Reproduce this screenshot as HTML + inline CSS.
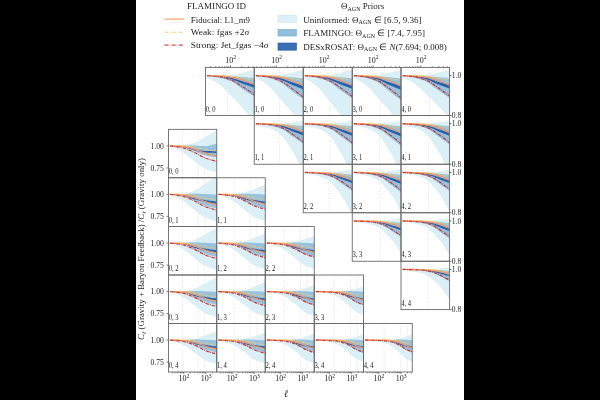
<!DOCTYPE html>
<html><head><meta charset="utf-8"><style>
html,body{margin:0;padding:0;background:#000;width:600px;height:400px;overflow:hidden}
svg{display:block;will-change:transform}
text{font-family:"Liberation Serif", serif}
</style></head><body>
<svg width="600" height="400" viewBox="0 0 600 400">
<rect x="136" y="0" width="328" height="400" fill="#ffffff"/>
<clipPath id="c2055_674"><rect x="205.5" y="67.4" width="48.75" height="48.1"/></clipPath>
<g clip-path="url(#c2055_674)">
<line x1="227.5" y1="67.4" x2="227.5" y2="115.5" stroke="#d0d0d0" stroke-width="0.6" stroke-dasharray="1 1.4"/>
<path d="M207.1 75.6 L208.67 75.6 L210.24 75.6 L211.81 75.6 L213.39 75.6 L214.96 75.6 L216.53 75.6 L218.1 75.6 L219.67 75.6 L221.25 75.56 L222.82 75.5 L224.39 75.41 L225.96 75.3 L227.53 75.18 L229.1 75.04 L230.68 74.9 L232.25 74.72 L233.82 74.49 L235.39 74.21 L236.96 73.89 L238.53 73.55 L240.1 73.21 L241.68 72.86 L243.25 72.54 L244.82 72.2 L246.39 71.84 L247.96 71.48 L249.53 71.11 L251.11 70.73 L252.68 70.36 L254.25 70 L254.25 122.6 L252.68 120.57 L251.11 118.51 L249.53 116.44 L247.96 114.38 L246.39 112.35 L244.82 110.39 L243.25 108.5 L241.68 106.72 L240.1 105.02 L238.53 103.38 L236.96 101.79 L235.39 100.24 L233.82 98.69 L232.25 97.15 L230.68 95.6 L229.1 93.99 L227.53 92.33 L225.96 90.66 L224.39 89.01 L222.82 87.44 L221.25 85.98 L219.67 84.68 L218.1 83.56 L216.53 82.57 L214.96 81.67 L213.39 80.83 L211.81 80.03 L210.24 79.24 L208.67 78.44 L207.1 77.6 Z" fill="#dbeff7"/>
<path d="M207.1 75.6 L208.67 75.62 L210.24 75.64 L211.81 75.67 L213.39 75.69 L214.96 75.71 L216.53 75.73 L218.1 75.76 L219.67 75.79 L221.25 75.83 L222.82 75.87 L224.39 75.91 L225.96 75.96 L227.53 76.01 L229.1 76.07 L230.68 76.13 L232.25 76.21 L233.82 76.31 L235.39 76.42 L236.96 76.55 L238.53 76.68 L240.1 76.82 L241.68 76.95 L243.25 77.09 L244.82 77.23 L246.39 77.38 L247.96 77.54 L249.53 77.7 L251.11 77.86 L252.68 78.02 L254.25 78.17 L254.25 96.46 L252.68 95.46 L251.11 94.46 L249.53 93.46 L247.96 92.46 L246.39 91.45 L244.82 90.44 L243.25 89.43 L241.68 88.39 L240.1 87.28 L238.53 86.12 L236.96 84.95 L235.39 83.82 L233.82 82.78 L232.25 81.86 L230.68 81.1 L229.1 80.48 L227.53 79.9 L225.96 79.37 L224.39 78.89 L222.82 78.45 L221.25 78.06 L219.67 77.71 L218.1 77.41 L216.53 77.14 L214.96 76.9 L213.39 76.69 L211.81 76.48 L210.24 76.28 L208.67 76.08 L207.1 75.87 Z" fill="#8dbcdb" fill-opacity="0.9"/>
<path d="M207.1 75.6 L208.67 75.64 L210.24 75.68 L211.81 75.72 L213.39 75.76 L214.96 75.8 L216.53 75.85 L218.1 75.92 L219.67 76 L221.25 76.13 L222.82 76.31 L224.39 76.52 L225.96 76.77 L227.53 77.05 L229.1 77.34 L230.68 77.64 L232.25 78 L233.82 78.43 L235.39 78.93 L236.96 79.46 L238.53 80 L240.1 80.54 L241.68 81.05 L243.25 81.51 L244.82 81.95 L246.39 82.38 L247.96 82.8 L249.53 83.22 L251.11 83.64 L252.68 84.06 L254.25 84.48 L254.25 87.67 L252.68 87.13 L251.11 86.6 L249.53 86.07 L247.96 85.53 L246.39 84.99 L244.82 84.44 L243.25 83.88 L241.68 83.29 L240.1 82.66 L238.53 81.99 L236.96 81.31 L235.39 80.65 L233.82 80.02 L232.25 79.46 L230.68 78.97 L229.1 78.55 L227.53 78.14 L225.96 77.76 L224.39 77.41 L222.82 77.09 L221.25 76.81 L219.67 76.58 L218.1 76.4 L216.53 76.26 L214.96 76.13 L213.39 76.02 L211.81 75.91 L210.24 75.81 L208.67 75.71 L207.1 75.6 Z" fill="#2862ae"/>
<path d="M207.1 75.6 L208.67 75.63 L210.24 75.66 L211.81 75.69 L213.39 75.72 L214.96 75.75 L216.53 75.79 L218.1 75.84 L219.67 75.9 L221.25 75.99 L222.82 76.11 L224.39 76.25 L225.96 76.42 L227.53 76.6 L229.1 76.81 L230.68 77.02 L232.25 77.27 L233.82 77.59 L235.39 77.95 L236.96 78.36 L238.53 78.79 L240.1 79.25 L241.68 79.72 L243.25 80.19 L244.82 80.72 L246.39 81.3 L247.96 81.9 L249.53 82.53 L251.11 83.16 L252.68 83.78 L254.25 84.39" fill="none" stroke="#f5945f" stroke-width="1.3"/>
<path d="M207.1 75.6 L208.67 75.6 L210.24 75.6 L211.81 75.6 L213.39 75.6 L214.96 75.6 L216.53 75.6 L218.1 75.6 L219.67 75.6 L221.25 75.63 L222.82 75.68 L224.39 75.74 L225.96 75.83 L227.53 75.92 L229.1 76.02 L230.68 76.13 L232.25 76.28 L233.82 76.48 L235.39 76.73 L236.96 77.01 L238.53 77.3 L240.1 77.59 L241.68 77.87 L243.25 78.12 L244.82 78.37 L246.39 78.62 L247.96 78.87 L249.53 79.12 L251.11 79.36 L252.68 79.61 L254.25 79.86" fill="none" stroke="#f9c96a" stroke-width="1.0" stroke-dasharray="3 1 0.8 1"/>
<path d="M207.1 75.6 L208.67 75.73 L210.24 75.86 L211.81 75.98 L213.39 76.1 L214.96 76.23 L216.53 76.38 L218.1 76.56 L219.67 76.78 L221.25 77.06 L222.82 77.41 L224.39 77.81 L225.96 78.27 L227.53 78.76 L229.1 79.3 L230.68 79.86 L232.25 80.51 L233.82 81.29 L235.39 82.16 L236.96 83.1 L238.53 84.1 L240.1 85.11 L241.68 86.12 L243.25 87.1 L244.82 88.12 L246.39 89.17 L247.96 90.25 L249.53 91.34 L251.11 92.43 L252.68 93.52 L254.25 94.6" fill="none" stroke="#d7302a" stroke-width="1.2" stroke-dasharray="3.4 1 0.9 1"/>
</g>
<text x="205.7" y="111.7" font-size="7.6" fill="#222" textLength="10" lengthAdjust="spacingAndGlyphs">0, 0</text>
<clipPath id="c2542_674"><rect x="254.25" y="67.4" width="49" height="48.1"/></clipPath>
<g clip-path="url(#c2542_674)">
<line x1="279.45" y1="67.4" x2="279.45" y2="115.5" stroke="#d0d0d0" stroke-width="0.6" stroke-dasharray="1 1.4"/>
<path d="M255.85 75.6 L257.43 75.6 L259.01 75.6 L260.59 75.6 L262.17 75.6 L263.75 75.6 L265.33 75.6 L266.91 75.6 L268.49 75.6 L270.07 75.56 L271.65 75.5 L273.23 75.41 L274.81 75.3 L276.39 75.18 L277.97 75.04 L279.55 74.9 L281.13 74.72 L282.71 74.49 L284.29 74.21 L285.87 73.89 L287.45 73.55 L289.03 73.21 L290.61 72.86 L292.19 72.54 L293.77 72.2 L295.35 71.84 L296.93 71.48 L298.51 71.11 L300.09 70.73 L301.67 70.36 L303.25 70 L303.25 128.71 L301.67 126.42 L300.09 124.09 L298.51 121.75 L296.93 119.42 L295.35 117.13 L293.77 114.91 L292.19 112.78 L290.61 110.77 L289.03 108.85 L287.45 107 L285.87 105.2 L284.29 103.44 L282.71 101.7 L281.13 99.96 L279.55 98.2 L277.97 96.38 L276.39 94.51 L274.81 92.62 L273.23 90.76 L271.65 88.98 L270.07 87.33 L268.49 85.86 L266.91 84.6 L265.33 83.47 L263.75 82.45 L262.17 81.51 L260.59 80.6 L259.01 79.71 L257.43 78.81 L255.85 77.86 Z" fill="#dbeff7"/>
<path d="M255.85 75.6 L257.43 75.63 L259.01 75.65 L260.59 75.67 L262.17 75.7 L263.75 75.72 L265.33 75.75 L266.91 75.78 L268.49 75.82 L270.07 75.86 L271.65 75.9 L273.23 75.95 L274.81 76 L276.39 76.06 L277.97 76.13 L279.55 76.2 L281.13 76.29 L282.71 76.4 L284.29 76.53 L285.87 76.67 L287.45 76.82 L289.03 76.98 L290.61 77.13 L292.19 77.28 L293.77 77.45 L295.35 77.62 L296.93 77.79 L298.51 77.97 L300.09 78.16 L301.67 78.34 L303.25 78.51 L303.25 99.21 L301.67 98.07 L300.09 96.94 L298.51 95.81 L296.93 94.67 L295.35 93.54 L293.77 92.4 L292.19 91.25 L290.61 90.08 L289.03 88.82 L287.45 87.5 L285.87 86.18 L284.29 84.9 L282.71 83.72 L281.13 82.68 L279.55 81.83 L277.97 81.12 L276.39 80.47 L274.81 79.87 L273.23 79.32 L271.65 78.83 L270.07 78.38 L268.49 77.99 L266.91 77.64 L265.33 77.34 L263.75 77.07 L262.17 76.83 L260.59 76.6 L259.01 76.38 L257.43 76.15 L255.85 75.9 Z" fill="#8dbcdb" fill-opacity="0.9"/>
<path d="M255.85 75.6 L257.43 75.65 L259.01 75.69 L260.59 75.74 L262.17 75.78 L263.75 75.83 L265.33 75.89 L266.91 75.96 L268.49 76.05 L270.07 76.2 L271.65 76.4 L273.23 76.65 L274.81 76.93 L276.39 77.24 L277.97 77.57 L279.55 77.91 L281.13 78.31 L282.71 78.81 L284.29 79.37 L285.87 79.97 L287.45 80.58 L289.03 81.19 L290.61 81.76 L292.19 82.28 L293.77 82.78 L295.35 83.27 L296.93 83.75 L298.51 84.22 L300.09 84.69 L301.67 85.17 L303.25 85.65 L303.25 89.26 L301.67 88.65 L300.09 88.05 L298.51 87.44 L296.93 86.84 L295.35 86.22 L293.77 85.6 L292.19 84.97 L290.61 84.31 L289.03 83.59 L287.45 82.83 L285.87 82.06 L284.29 81.31 L282.71 80.6 L281.13 79.96 L279.55 79.42 L277.97 78.94 L276.39 78.48 L274.81 78.04 L273.23 77.64 L271.65 77.28 L270.07 76.97 L268.49 76.71 L266.91 76.51 L265.33 76.34 L263.75 76.2 L262.17 76.07 L260.59 75.96 L259.01 75.84 L257.43 75.73 L255.85 75.6 Z" fill="#2862ae"/>
<path d="M255.85 75.6 L257.43 75.64 L259.01 75.67 L260.59 75.7 L262.17 75.74 L263.75 75.77 L265.33 75.82 L266.91 75.87 L268.49 75.94 L270.07 76.04 L271.65 76.17 L273.23 76.34 L274.81 76.52 L276.39 76.74 L277.97 76.96 L279.55 77.21 L281.13 77.49 L282.71 77.85 L284.29 78.26 L285.87 78.72 L287.45 79.21 L289.03 79.73 L290.61 80.26 L292.19 80.8 L293.77 81.4 L295.35 82.04 L296.93 82.73 L298.51 83.44 L300.09 84.15 L301.67 84.86 L303.25 85.55" fill="none" stroke="#f5945f" stroke-width="1.3"/>
<path d="M255.85 75.6 L257.43 75.6 L259.01 75.6 L260.59 75.6 L262.17 75.6 L263.75 75.6 L265.33 75.6 L266.91 75.6 L268.49 75.6 L270.07 75.63 L271.65 75.69 L273.23 75.76 L274.81 75.86 L276.39 75.96 L277.97 76.08 L279.55 76.2 L281.13 76.37 L282.71 76.6 L284.29 76.88 L285.87 77.19 L287.45 77.52 L289.03 77.85 L290.61 78.17 L292.19 78.45 L293.77 78.73 L295.35 79.02 L296.93 79.3 L298.51 79.58 L300.09 79.86 L301.67 80.14 L303.25 80.42" fill="none" stroke="#f9c96a" stroke-width="1.0" stroke-dasharray="3 1 0.8 1"/>
<path d="M255.85 75.6 L257.43 75.75 L259.01 75.89 L260.59 76.02 L262.17 76.16 L263.75 76.31 L265.33 76.49 L266.91 76.69 L268.49 76.94 L270.07 77.26 L271.65 77.65 L273.23 78.1 L274.81 78.62 L276.39 79.18 L277.97 79.78 L279.55 80.42 L281.13 81.16 L282.71 82.03 L284.29 83.02 L285.87 84.09 L287.45 85.22 L289.03 86.36 L290.61 87.5 L292.19 88.62 L293.77 89.77 L295.35 90.96 L296.93 92.18 L298.51 93.41 L300.09 94.65 L301.67 95.88 L303.25 97.1" fill="none" stroke="#d7302a" stroke-width="1.2" stroke-dasharray="3.4 1 0.9 1"/>
</g>
<text x="254.45" y="111.7" font-size="7.6" fill="#222" textLength="10" lengthAdjust="spacingAndGlyphs">1, 0</text>
<clipPath id="c3032_674"><rect x="303.25" y="67.4" width="49" height="48.1"/></clipPath>
<g clip-path="url(#c3032_674)">
<line x1="329.75" y1="67.4" x2="329.75" y2="115.5" stroke="#d0d0d0" stroke-width="0.6" stroke-dasharray="1 1.4"/>
<path d="M304.85 75.6 L306.43 75.6 L308.01 75.6 L309.59 75.6 L311.17 75.6 L312.75 75.6 L314.33 75.6 L315.91 75.6 L317.49 75.6 L319.07 75.56 L320.65 75.5 L322.23 75.41 L323.81 75.3 L325.39 75.18 L326.97 75.04 L328.55 74.9 L330.13 74.72 L331.71 74.49 L333.29 74.21 L334.87 73.89 L336.45 73.55 L338.03 73.21 L339.61 72.86 L341.19 72.54 L342.77 72.2 L344.35 71.84 L345.93 71.48 L347.51 71.11 L349.09 70.73 L350.67 70.36 L352.25 70 L352.25 133.41 L350.67 130.92 L349.09 128.38 L347.51 125.83 L345.93 123.3 L344.35 120.81 L342.77 118.39 L341.19 116.07 L339.61 113.88 L338.03 111.79 L336.45 109.77 L334.87 107.82 L333.29 105.9 L331.71 104.01 L330.13 102.11 L328.55 100.2 L326.97 98.22 L325.39 96.18 L323.81 94.12 L322.23 92.1 L320.65 90.17 L319.07 88.37 L317.49 86.77 L315.91 85.39 L314.33 84.17 L312.75 83.06 L311.17 82.03 L309.59 81.04 L308.01 80.08 L306.43 79.09 L304.85 78.06 Z" fill="#dbeff7"/>
<path d="M304.85 75.6 L306.43 75.62 L308.01 75.65 L309.59 75.67 L311.17 75.7 L312.75 75.72 L314.33 75.75 L315.91 75.78 L317.49 75.81 L319.07 75.85 L320.65 75.89 L322.23 75.94 L323.81 75.99 L325.39 76.05 L326.97 76.11 L328.55 76.18 L330.13 76.27 L331.71 76.38 L333.29 76.5 L334.87 76.64 L336.45 76.78 L338.03 76.93 L339.61 77.08 L341.19 77.23 L342.77 77.39 L344.35 77.55 L345.93 77.72 L347.51 77.9 L349.09 78.07 L350.67 78.25 L352.25 78.42 L352.25 98.44 L350.67 97.34 L349.09 96.25 L347.51 95.15 L345.93 94.05 L344.35 92.95 L342.77 91.85 L341.19 90.74 L339.61 89.6 L338.03 88.39 L336.45 87.11 L334.87 85.84 L333.29 84.6 L331.71 83.45 L330.13 82.45 L328.55 81.63 L326.97 80.94 L325.39 80.31 L323.81 79.73 L322.23 79.2 L320.65 78.72 L319.07 78.29 L317.49 77.91 L315.91 77.58 L314.33 77.28 L312.75 77.03 L311.17 76.79 L309.59 76.57 L308.01 76.35 L306.43 76.13 L304.85 75.89 Z" fill="#8dbcdb" fill-opacity="0.9"/>
<path d="M304.85 75.6 L306.43 75.65 L308.01 75.69 L309.59 75.73 L311.17 75.77 L312.75 75.82 L314.33 75.88 L315.91 75.95 L317.49 76.04 L319.07 76.18 L320.65 76.38 L322.23 76.61 L323.81 76.88 L325.39 77.18 L326.97 77.5 L328.55 77.84 L330.13 78.22 L331.71 78.7 L333.29 79.24 L334.87 79.83 L336.45 80.42 L338.03 81.01 L339.61 81.56 L341.19 82.07 L342.77 82.55 L344.35 83.02 L345.93 83.48 L347.51 83.94 L349.09 84.4 L350.67 84.86 L352.25 85.32 L352.25 88.82 L350.67 88.23 L349.09 87.64 L347.51 87.06 L345.93 86.47 L344.35 85.88 L342.77 85.28 L341.19 84.66 L339.61 84.02 L338.03 83.33 L336.45 82.6 L334.87 81.85 L333.29 81.13 L331.71 80.44 L330.13 79.82 L328.55 79.29 L326.97 78.83 L325.39 78.38 L323.81 77.96 L322.23 77.58 L320.65 77.23 L319.07 76.93 L317.49 76.68 L315.91 76.48 L314.33 76.32 L312.75 76.18 L311.17 76.06 L309.59 75.94 L308.01 75.84 L306.43 75.72 L304.85 75.6 Z" fill="#2862ae"/>
<path d="M304.85 75.6 L306.43 75.64 L308.01 75.67 L309.59 75.7 L311.17 75.73 L312.75 75.77 L314.33 75.81 L315.91 75.86 L317.49 75.93 L319.07 76.03 L320.65 76.16 L322.23 76.31 L323.81 76.49 L325.39 76.7 L326.97 76.92 L328.55 77.16 L330.13 77.43 L331.71 77.78 L333.29 78.17 L334.87 78.62 L336.45 79.09 L338.03 79.59 L339.61 80.1 L341.19 80.63 L342.77 81.21 L344.35 81.84 L345.93 82.5 L347.51 83.18 L349.09 83.87 L350.67 84.56 L352.25 85.22" fill="none" stroke="#f5945f" stroke-width="1.3"/>
<path d="M304.85 75.6 L306.43 75.6 L308.01 75.6 L309.59 75.6 L311.17 75.6 L312.75 75.6 L314.33 75.6 L315.91 75.6 L317.49 75.6 L319.07 75.63 L320.65 75.68 L322.23 75.76 L323.81 75.85 L325.39 75.95 L326.97 76.06 L328.55 76.18 L330.13 76.34 L331.71 76.56 L333.29 76.84 L334.87 77.14 L336.45 77.46 L338.03 77.78 L339.61 78.08 L341.19 78.36 L342.77 78.63 L344.35 78.9 L345.93 79.18 L347.51 79.45 L349.09 79.72 L350.67 79.99 L352.25 80.27" fill="none" stroke="#f9c96a" stroke-width="1.0" stroke-dasharray="3 1 0.8 1"/>
<path d="M304.85 75.6 L306.43 75.75 L308.01 75.88 L309.59 76.01 L311.17 76.14 L312.75 76.29 L314.33 76.46 L315.91 76.65 L317.49 76.89 L319.07 77.2 L320.65 77.58 L322.23 78.02 L323.81 78.52 L325.39 79.06 L326.97 79.65 L328.55 80.27 L330.13 80.98 L331.71 81.82 L333.29 82.78 L334.87 83.82 L336.45 84.9 L338.03 86.01 L339.61 87.11 L341.19 88.19 L342.77 89.31 L344.35 90.46 L345.93 91.64 L347.51 92.83 L349.09 94.03 L350.67 95.22 L352.25 96.4" fill="none" stroke="#d7302a" stroke-width="1.2" stroke-dasharray="3.4 1 0.9 1"/>
</g>
<text x="303.45" y="111.7" font-size="7.6" fill="#222" textLength="10" lengthAdjust="spacingAndGlyphs">2, 0</text>
<clipPath id="c3522_674"><rect x="352.25" y="67.4" width="48.75" height="48.1"/></clipPath>
<g clip-path="url(#c3522_674)">
<line x1="380.15" y1="67.4" x2="380.15" y2="115.5" stroke="#d0d0d0" stroke-width="0.6" stroke-dasharray="1 1.4"/>
<path d="M353.85 75.6 L355.42 75.6 L356.99 75.6 L358.56 75.6 L360.14 75.6 L361.71 75.6 L363.28 75.6 L364.85 75.6 L366.42 75.6 L368 75.56 L369.57 75.5 L371.14 75.41 L372.71 75.3 L374.28 75.18 L375.85 75.04 L377.43 74.9 L379 74.72 L380.57 74.49 L382.14 74.21 L383.71 73.89 L385.28 73.55 L386.86 73.21 L388.43 72.86 L390 72.54 L391.57 72.2 L393.14 71.84 L394.71 71.48 L396.29 71.11 L397.86 70.73 L399.43 70.36 L401 70 L401 126.83 L399.43 124.62 L397.86 122.38 L396.29 120.12 L394.71 117.87 L393.14 115.66 L391.57 113.52 L390 111.46 L388.43 109.52 L386.86 107.67 L385.28 105.88 L383.71 104.15 L382.14 102.45 L380.57 100.77 L379 99.09 L377.43 97.4 L375.85 95.65 L374.28 93.84 L372.71 92.01 L371.14 90.22 L369.57 88.51 L368 86.92 L366.42 85.5 L364.85 84.28 L363.28 83.2 L361.71 82.21 L360.14 81.3 L358.56 80.43 L356.99 79.57 L355.42 78.69 L353.85 77.78 Z" fill="#dbeff7"/>
<path d="M353.85 75.6 L355.42 75.63 L356.99 75.65 L358.56 75.68 L360.14 75.7 L361.71 75.73 L363.28 75.76 L364.85 75.79 L366.42 75.83 L368 75.87 L369.57 75.91 L371.14 75.96 L372.71 76.02 L374.28 76.08 L375.85 76.15 L377.43 76.23 L379 76.32 L380.57 76.43 L382.14 76.56 L383.71 76.71 L385.28 76.87 L386.86 77.03 L388.43 77.19 L390 77.35 L391.57 77.52 L393.14 77.69 L394.71 77.88 L396.29 78.06 L397.86 78.25 L399.43 78.44 L401 78.62 L401 100.09 L399.43 98.91 L397.86 97.73 L396.29 96.56 L394.71 95.38 L393.14 94.21 L391.57 93.02 L390 91.83 L388.43 90.61 L386.86 89.31 L385.28 87.94 L383.71 86.57 L382.14 85.25 L380.57 84.02 L379 82.94 L377.43 82.06 L375.85 81.33 L374.28 80.65 L372.71 80.03 L371.14 79.46 L369.57 78.95 L368 78.49 L366.42 78.08 L364.85 77.72 L363.28 77.41 L361.71 77.13 L360.14 76.88 L358.56 76.64 L356.99 76.4 L355.42 76.17 L353.85 75.91 Z" fill="#8dbcdb" fill-opacity="0.9"/>
<path d="M353.85 75.6 L355.42 75.65 L356.99 75.7 L358.56 75.74 L360.14 75.79 L361.71 75.84 L363.28 75.9 L364.85 75.97 L366.42 76.07 L368 76.22 L369.57 76.43 L371.14 76.69 L372.71 76.98 L374.28 77.3 L375.85 77.64 L377.43 78 L379 78.41 L380.57 78.93 L382.14 79.51 L383.71 80.13 L385.28 80.77 L386.86 81.4 L388.43 81.99 L390 82.53 L391.57 83.05 L393.14 83.56 L394.71 84.05 L396.29 84.54 L397.86 85.03 L399.43 85.52 L401 86.02 L401 89.77 L399.43 89.14 L397.86 88.51 L396.29 87.88 L394.71 87.25 L393.14 86.62 L391.57 85.97 L390 85.32 L388.43 84.63 L386.86 83.89 L385.28 83.1 L383.71 82.31 L382.14 81.53 L380.57 80.79 L379 80.12 L377.43 79.56 L375.85 79.06 L374.28 78.58 L372.71 78.13 L371.14 77.72 L369.57 77.35 L368 77.02 L366.42 76.75 L364.85 76.54 L363.28 76.37 L361.71 76.22 L360.14 76.09 L358.56 75.97 L356.99 75.85 L355.42 75.73 L353.85 75.6 Z" fill="#2862ae"/>
<path d="M353.85 75.6 L355.42 75.64 L356.99 75.67 L358.56 75.71 L360.14 75.74 L361.71 75.78 L363.28 75.83 L364.85 75.88 L366.42 75.95 L368 76.06 L369.57 76.2 L371.14 76.36 L372.71 76.56 L374.28 76.78 L375.85 77.01 L377.43 77.27 L379 77.57 L380.57 77.93 L382.14 78.36 L383.71 78.83 L385.28 79.34 L386.86 79.88 L388.43 80.43 L390 80.99 L391.57 81.61 L393.14 82.28 L394.71 83 L396.29 83.73 L397.86 84.47 L399.43 85.21 L401 85.92" fill="none" stroke="#f5945f" stroke-width="1.3"/>
<path d="M353.85 75.6 L355.42 75.6 L356.99 75.6 L358.56 75.6 L360.14 75.6 L361.71 75.6 L363.28 75.6 L364.85 75.6 L366.42 75.6 L368 75.63 L369.57 75.69 L371.14 75.77 L372.71 75.87 L374.28 75.98 L375.85 76.1 L377.43 76.23 L379 76.4 L380.57 76.63 L382.14 76.93 L383.71 77.25 L385.28 77.59 L386.86 77.94 L388.43 78.26 L390 78.56 L391.57 78.85 L393.14 79.14 L394.71 79.43 L396.29 79.73 L397.86 80.02 L399.43 80.31 L401 80.6" fill="none" stroke="#f9c96a" stroke-width="1.0" stroke-dasharray="3 1 0.8 1"/>
<path d="M353.85 75.6 L355.42 75.76 L356.99 75.9 L358.56 76.04 L360.14 76.18 L361.71 76.34 L363.28 76.52 L364.85 76.73 L366.42 76.99 L368 77.32 L369.57 77.72 L371.14 78.2 L372.71 78.73 L374.28 79.31 L375.85 79.94 L377.43 80.6 L379 81.36 L380.57 82.27 L382.14 83.3 L383.71 84.41 L385.28 85.57 L386.86 86.76 L388.43 87.94 L390 89.1 L391.57 90.3 L393.14 91.53 L394.71 92.79 L396.29 94.07 L397.86 95.36 L399.43 96.64 L401 97.9" fill="none" stroke="#d7302a" stroke-width="1.2" stroke-dasharray="3.4 1 0.9 1"/>
</g>
<text x="352.45" y="111.7" font-size="7.6" fill="#222" textLength="10" lengthAdjust="spacingAndGlyphs">3, 0</text>
<clipPath id="c4010_674"><rect x="401" y="67.4" width="48.6" height="48.1"/></clipPath>
<g clip-path="url(#c4010_674)">
<line x1="429.4" y1="67.4" x2="429.4" y2="115.5" stroke="#d0d0d0" stroke-width="0.6" stroke-dasharray="1 1.4"/>
<path d="M402.6 75.6 L404.17 75.6 L405.73 75.6 L407.3 75.6 L408.87 75.6 L410.43 75.6 L412 75.6 L413.57 75.6 L415.13 75.6 L416.7 75.56 L418.27 75.5 L419.83 75.41 L421.4 75.3 L422.97 75.18 L424.53 75.04 L426.1 74.9 L427.67 74.72 L429.23 74.49 L430.8 74.21 L432.37 73.89 L433.93 73.55 L435.5 73.21 L437.07 72.86 L438.63 72.54 L440.2 72.2 L441.77 71.84 L443.33 71.48 L444.9 71.11 L446.47 70.73 L448.03 70.36 L449.6 70 L449.6 119.31 L448.03 117.43 L446.47 115.51 L444.9 113.58 L443.33 111.66 L441.77 109.78 L440.2 107.95 L438.63 106.2 L437.07 104.54 L435.5 102.96 L433.93 101.44 L432.37 99.96 L430.8 98.51 L429.23 97.08 L427.67 95.65 L426.1 94.2 L424.53 92.71 L422.97 91.16 L421.4 89.6 L419.83 88.08 L418.27 86.61 L416.7 85.26 L415.13 84.04 L413.57 83 L412 82.08 L410.43 81.24 L408.87 80.46 L407.3 79.72 L405.73 78.98 L404.17 78.24 L402.6 77.46 Z" fill="#dbeff7"/>
<path d="M402.6 75.6 L404.17 75.62 L405.73 75.65 L407.3 75.67 L408.87 75.69 L410.43 75.72 L412 75.75 L413.57 75.78 L415.13 75.81 L416.7 75.85 L418.27 75.89 L419.83 75.93 L421.4 75.99 L422.97 76.04 L424.53 76.11 L426.1 76.17 L427.67 76.26 L429.23 76.36 L430.8 76.49 L432.37 76.62 L433.93 76.76 L435.5 76.91 L437.07 77.06 L438.63 77.21 L440.2 77.36 L441.77 77.52 L443.33 77.69 L444.9 77.86 L446.47 78.04 L448.03 78.21 L449.6 78.38 L449.6 98.11 L448.03 97.03 L446.47 95.95 L444.9 94.87 L443.33 93.79 L441.77 92.7 L440.2 91.62 L438.63 90.52 L437.07 89.4 L435.5 88.2 L433.93 86.95 L432.37 85.69 L430.8 84.47 L429.23 83.34 L427.67 82.35 L426.1 81.54 L424.53 80.86 L422.97 80.24 L421.4 79.67 L419.83 79.15 L418.27 78.68 L416.7 78.25 L415.13 77.88 L413.57 77.55 L412 77.26 L410.43 77 L408.87 76.77 L407.3 76.55 L405.73 76.34 L404.17 76.12 L402.6 75.89 Z" fill="#8dbcdb" fill-opacity="0.9"/>
<path d="M402.6 75.6 L404.17 75.65 L405.73 75.69 L407.3 75.73 L408.87 75.77 L410.43 75.82 L412 75.87 L413.57 75.94 L415.13 76.03 L416.7 76.17 L418.27 76.36 L419.83 76.6 L421.4 76.87 L422.97 77.16 L424.53 77.48 L426.1 77.8 L427.67 78.19 L429.23 78.66 L430.8 79.19 L432.37 79.76 L433.93 80.35 L435.5 80.93 L437.07 81.48 L438.63 81.97 L440.2 82.45 L441.77 82.91 L443.33 83.37 L444.9 83.82 L446.47 84.27 L448.03 84.72 L449.6 85.18 L449.6 88.63 L448.03 88.04 L446.47 87.47 L444.9 86.89 L443.33 86.31 L441.77 85.73 L440.2 85.14 L438.63 84.53 L437.07 83.9 L435.5 83.22 L433.93 82.5 L432.37 81.76 L430.8 81.05 L429.23 80.37 L427.67 79.76 L426.1 79.24 L424.53 78.78 L422.97 78.34 L421.4 77.93 L419.83 77.55 L418.27 77.2 L416.7 76.91 L415.13 76.66 L413.57 76.47 L412 76.31 L410.43 76.17 L408.87 76.05 L407.3 75.94 L405.73 75.83 L404.17 75.72 L402.6 75.6 Z" fill="#2862ae"/>
<path d="M402.6 75.6 L404.17 75.64 L405.73 75.67 L407.3 75.7 L408.87 75.73 L410.43 75.76 L412 75.81 L413.57 75.86 L415.13 75.92 L416.7 76.02 L418.27 76.15 L419.83 76.3 L421.4 76.48 L422.97 76.68 L424.53 76.9 L426.1 77.13 L427.67 77.41 L429.23 77.74 L430.8 78.14 L432.37 78.57 L433.93 79.04 L435.5 79.53 L437.07 80.04 L438.63 80.56 L440.2 81.13 L441.77 81.75 L443.33 82.4 L444.9 83.07 L446.47 83.76 L448.03 84.43 L449.6 85.08" fill="none" stroke="#f5945f" stroke-width="1.3"/>
<path d="M402.6 75.6 L404.17 75.6 L405.73 75.6 L407.3 75.6 L408.87 75.6 L410.43 75.6 L412 75.6 L413.57 75.6 L415.13 75.6 L416.7 75.63 L418.27 75.68 L419.83 75.75 L421.4 75.84 L422.97 75.95 L424.53 76.06 L426.1 76.17 L427.67 76.33 L429.23 76.55 L430.8 76.82 L432.37 77.12 L433.93 77.43 L435.5 77.75 L437.07 78.05 L438.63 78.32 L440.2 78.59 L441.77 78.86 L443.33 79.13 L444.9 79.39 L446.47 79.66 L448.03 79.93 L449.6 80.2" fill="none" stroke="#f9c96a" stroke-width="1.0" stroke-dasharray="3 1 0.8 1"/>
<path d="M402.6 75.6 L404.17 75.74 L405.73 75.88 L407.3 76 L408.87 76.14 L410.43 76.28 L412 76.45 L413.57 76.64 L415.13 76.87 L416.7 77.18 L418.27 77.55 L419.83 77.99 L421.4 78.48 L422.97 79.01 L424.53 79.59 L426.1 80.2 L427.67 80.9 L429.23 81.73 L430.8 82.68 L432.37 83.7 L433.93 84.77 L435.5 85.86 L437.07 86.95 L438.63 88.01 L440.2 89.11 L441.77 90.24 L443.33 91.41 L444.9 92.58 L446.47 93.76 L448.03 94.94 L449.6 96.1" fill="none" stroke="#d7302a" stroke-width="1.2" stroke-dasharray="3.4 1 0.9 1"/>
</g>
<text x="401.2" y="111.7" font-size="7.6" fill="#222" textLength="10" lengthAdjust="spacingAndGlyphs">4, 0</text>
<clipPath id="c2542_1155"><rect x="254.25" y="115.5" width="49" height="48.75"/></clipPath>
<g clip-path="url(#c2542_1155)">
<line x1="279.65" y1="115.5" x2="279.65" y2="164.25" stroke="#d0d0d0" stroke-width="0.6" stroke-dasharray="1 1.4"/>
<path d="M255.85 123.7 L257.43 123.7 L259.01 123.7 L260.59 123.7 L262.17 123.7 L263.75 123.7 L265.33 123.7 L266.91 123.7 L268.49 123.7 L270.07 123.7 L271.65 123.69 L273.23 123.67 L274.81 123.64 L276.39 123.59 L277.97 123.54 L279.55 123.48 L281.13 123.41 L282.71 123.34 L284.29 123.24 L285.87 123.11 L287.45 122.96 L289.03 122.79 L290.61 122.62 L292.19 122.45 L293.77 122.29 L295.35 122.12 L296.93 121.94 L298.51 121.75 L300.09 121.56 L301.67 121.37 L303.25 121.18 L303.25 174.93 L301.67 170.77 L300.09 166.67 L298.51 162.8 L296.93 159.28 L295.35 156.16 L293.77 153.34 L292.19 150.73 L290.61 148.27 L289.03 145.9 L287.45 143.54 L285.87 141.2 L284.29 138.97 L282.71 136.94 L281.13 135.15 L279.55 133.65 L277.97 132.44 L276.39 131.43 L274.81 130.56 L273.23 129.81 L271.65 129.15 L270.07 128.56 L268.49 128.04 L266.91 127.57 L265.33 127.16 L263.75 126.79 L262.17 126.48 L260.59 126.23 L259.01 126.04 L257.43 125.92 L255.85 125.88 Z" fill="#dbeff7"/>
<path d="M255.85 123.7 L257.43 123.71 L259.01 123.73 L260.59 123.75 L262.17 123.76 L263.75 123.78 L265.33 123.8 L266.91 123.82 L268.49 123.84 L270.07 123.87 L271.65 123.9 L273.23 123.94 L274.81 123.98 L276.39 124.02 L277.97 124.07 L279.55 124.12 L281.13 124.19 L282.71 124.26 L284.29 124.35 L285.87 124.46 L287.45 124.59 L289.03 124.73 L290.61 124.87 L292.19 125.02 L293.77 125.16 L295.35 125.32 L296.93 125.48 L298.51 125.66 L300.09 125.83 L301.67 126.01 L303.25 126.18 L303.25 143.8 L301.67 142.69 L300.09 141.59 L298.51 140.49 L296.93 139.4 L295.35 138.31 L293.77 137.22 L292.19 136.13 L290.61 134.95 L289.03 133.72 L287.45 132.51 L285.87 131.35 L284.29 130.3 L282.71 129.42 L281.13 128.73 L279.55 128.13 L277.97 127.58 L276.39 127.08 L274.81 126.63 L273.23 126.24 L271.65 125.89 L270.07 125.59 L268.49 125.32 L266.91 125.09 L265.33 124.89 L263.75 124.71 L262.17 124.54 L260.59 124.38 L259.01 124.23 L257.43 124.08 L255.85 123.96 Z" fill="#8dbcdb" fill-opacity="0.9"/>
<path d="M255.85 123.7 L257.43 123.73 L259.01 123.75 L260.59 123.78 L262.17 123.81 L263.75 123.85 L265.33 123.88 L266.91 123.93 L268.49 123.98 L270.07 124.04 L271.65 124.14 L273.23 124.29 L274.81 124.47 L276.39 124.7 L277.97 124.96 L279.55 125.24 L281.13 125.54 L282.71 125.87 L284.29 126.28 L285.87 126.78 L287.45 127.32 L289.03 127.89 L290.61 128.46 L292.19 128.99 L293.77 129.48 L295.35 129.95 L296.93 130.41 L298.51 130.87 L300.09 131.33 L301.67 131.78 L303.25 132.25 L303.25 135.33 L301.67 134.73 L300.09 134.15 L298.51 133.56 L296.93 132.98 L295.35 132.39 L293.77 131.79 L292.19 131.17 L290.61 130.5 L289.03 129.79 L287.45 129.09 L285.87 128.4 L284.29 127.77 L282.71 127.22 L281.13 126.77 L279.55 126.35 L277.97 125.96 L276.39 125.59 L274.81 125.27 L273.23 124.98 L271.65 124.75 L270.07 124.56 L268.49 124.41 L266.91 124.28 L265.33 124.18 L263.75 124.08 L262.17 124 L260.59 123.92 L259.01 123.84 L257.43 123.77 L255.85 123.7 Z" fill="#2862ae"/>
<path d="M255.85 123.7 L257.43 123.72 L259.01 123.74 L260.59 123.76 L262.17 123.79 L263.75 123.81 L265.33 123.84 L266.91 123.87 L268.49 123.91 L270.07 123.96 L271.65 124.03 L273.23 124.12 L274.81 124.25 L276.39 124.4 L277.97 124.57 L279.55 124.77 L281.13 124.98 L282.71 125.21 L284.29 125.51 L285.87 125.87 L287.45 126.28 L289.03 126.73 L290.61 127.21 L292.19 127.71 L293.77 128.23 L295.35 128.81 L296.93 129.44 L298.51 130.12 L300.09 130.8 L301.67 131.49 L303.25 132.17" fill="none" stroke="#f5945f" stroke-width="1.3"/>
<path d="M255.85 123.7 L257.43 123.7 L259.01 123.7 L260.59 123.7 L262.17 123.7 L263.75 123.7 L265.33 123.7 L266.91 123.7 L268.49 123.7 L270.07 123.7 L271.65 123.71 L273.23 123.75 L274.81 123.8 L276.39 123.87 L277.97 123.96 L279.55 124.06 L281.13 124.17 L282.71 124.29 L284.29 124.48 L285.87 124.72 L287.45 125.01 L289.03 125.31 L290.61 125.62 L292.19 125.91 L293.77 126.18 L295.35 126.45 L296.93 126.71 L298.51 126.98 L300.09 127.26 L301.67 127.53 L303.25 127.8" fill="none" stroke="#f9c96a" stroke-width="1.0" stroke-dasharray="3 1 0.8 1"/>
<path d="M255.85 123.7 L257.43 123.78 L259.01 123.87 L260.59 123.96 L262.17 124.06 L263.75 124.16 L265.33 124.27 L266.91 124.4 L268.49 124.55 L270.07 124.73 L271.65 124.96 L273.23 125.26 L274.81 125.61 L276.39 126.03 L277.97 126.5 L279.55 127.01 L281.13 127.56 L282.71 128.17 L284.29 128.92 L285.87 129.79 L287.45 130.76 L289.03 131.79 L290.61 132.86 L292.19 133.93 L293.77 134.98 L295.35 136.09 L296.93 137.23 L298.51 138.41 L300.09 139.61 L301.67 140.81 L303.25 142" fill="none" stroke="#d7302a" stroke-width="1.2" stroke-dasharray="3.4 1 0.9 1"/>
</g>
<text x="254.45" y="160.45" font-size="7.6" fill="#222" textLength="10" lengthAdjust="spacingAndGlyphs">1, 1</text>
<clipPath id="c3032_1155"><rect x="303.25" y="115.5" width="49" height="48.75"/></clipPath>
<g clip-path="url(#c3032_1155)">
<line x1="329.85" y1="115.5" x2="329.85" y2="164.25" stroke="#d0d0d0" stroke-width="0.6" stroke-dasharray="1 1.4"/>
<path d="M304.85 123.7 L306.43 123.7 L308.01 123.7 L309.59 123.7 L311.17 123.7 L312.75 123.7 L314.33 123.7 L315.91 123.7 L317.49 123.7 L319.07 123.7 L320.65 123.69 L322.23 123.67 L323.81 123.64 L325.39 123.59 L326.97 123.54 L328.55 123.48 L330.13 123.41 L331.71 123.34 L333.29 123.24 L334.87 123.11 L336.45 122.96 L338.03 122.79 L339.61 122.62 L341.19 122.45 L342.77 122.29 L344.35 122.12 L345.93 121.94 L347.51 121.75 L349.09 121.56 L350.67 121.37 L352.25 121.18 L352.25 180.1 L350.67 175.52 L349.09 171.01 L347.51 166.75 L345.93 162.87 L344.35 159.44 L342.77 156.33 L341.19 153.46 L339.61 150.75 L338.03 148.14 L336.45 145.54 L334.87 142.97 L333.29 140.51 L331.71 138.27 L330.13 136.31 L328.55 134.65 L326.97 133.32 L325.39 132.2 L323.81 131.25 L322.23 130.43 L320.65 129.7 L319.07 129.06 L317.49 128.48 L315.91 127.96 L314.33 127.5 L312.75 127.1 L311.17 126.76 L309.59 126.49 L308.01 126.28 L306.43 126.15 L304.85 126.1 Z" fill="#dbeff7"/>
<path d="M304.85 123.7 L306.43 123.71 L308.01 123.73 L309.59 123.75 L311.17 123.76 L312.75 123.78 L314.33 123.8 L315.91 123.83 L317.49 123.85 L319.07 123.88 L320.65 123.91 L322.23 123.95 L323.81 123.99 L325.39 124.03 L326.97 124.08 L328.55 124.14 L330.13 124.21 L331.71 124.28 L333.29 124.38 L334.87 124.5 L336.45 124.63 L338.03 124.77 L339.61 124.92 L341.19 125.07 L342.77 125.23 L344.35 125.39 L345.93 125.56 L347.51 125.74 L349.09 125.92 L350.67 126.11 L352.25 126.29 L352.25 144.67 L350.67 143.52 L349.09 142.37 L347.51 141.23 L345.93 140.09 L344.35 138.95 L342.77 137.82 L341.19 136.67 L339.61 135.44 L338.03 134.16 L336.45 132.89 L334.87 131.68 L333.29 130.59 L331.71 129.67 L330.13 128.95 L328.55 128.32 L326.97 127.74 L325.39 127.23 L323.81 126.76 L322.23 126.35 L320.65 125.98 L319.07 125.67 L317.49 125.39 L315.91 125.16 L314.33 124.94 L312.75 124.75 L311.17 124.58 L309.59 124.41 L308.01 124.25 L306.43 124.1 L304.85 123.97 Z" fill="#8dbcdb" fill-opacity="0.9"/>
<path d="M304.85 123.7 L306.43 123.73 L308.01 123.76 L309.59 123.79 L311.17 123.82 L312.75 123.85 L314.33 123.89 L315.91 123.94 L317.49 123.99 L319.07 124.06 L320.65 124.16 L322.23 124.31 L323.81 124.51 L325.39 124.74 L326.97 125.01 L328.55 125.3 L330.13 125.62 L331.71 125.96 L333.29 126.4 L334.87 126.91 L336.45 127.48 L338.03 128.08 L339.61 128.67 L341.19 129.23 L342.77 129.73 L344.35 130.22 L345.93 130.71 L347.51 131.18 L349.09 131.66 L350.67 132.14 L352.25 132.63 L352.25 135.84 L350.67 135.22 L349.09 134.6 L347.51 133.99 L345.93 133.38 L344.35 132.77 L342.77 132.14 L341.19 131.5 L339.61 130.8 L338.03 130.06 L336.45 129.32 L334.87 128.61 L333.29 127.95 L331.71 127.38 L330.13 126.9 L328.55 126.47 L326.97 126.06 L325.39 125.68 L323.81 125.34 L322.23 125.04 L320.65 124.79 L319.07 124.59 L317.49 124.44 L315.91 124.31 L314.33 124.2 L312.75 124.1 L311.17 124.01 L309.59 123.93 L308.01 123.85 L306.43 123.77 L304.85 123.7 Z" fill="#2862ae"/>
<path d="M304.85 123.7 L306.43 123.72 L308.01 123.74 L309.59 123.77 L311.17 123.79 L312.75 123.82 L314.33 123.84 L315.91 123.88 L317.49 123.92 L319.07 123.97 L320.65 124.04 L322.23 124.14 L323.81 124.27 L325.39 124.43 L326.97 124.61 L328.55 124.81 L330.13 125.03 L331.71 125.28 L333.29 125.59 L334.87 125.97 L336.45 126.39 L338.03 126.87 L339.61 127.37 L341.19 127.88 L342.77 128.42 L344.35 129.03 L345.93 129.7 L347.51 130.4 L349.09 131.12 L350.67 131.84 L352.25 132.54" fill="none" stroke="#f5945f" stroke-width="1.3"/>
<path d="M304.85 123.7 L306.43 123.7 L308.01 123.7 L309.59 123.7 L311.17 123.7 L312.75 123.7 L314.33 123.7 L315.91 123.7 L317.49 123.7 L319.07 123.7 L320.65 123.71 L322.23 123.75 L323.81 123.81 L325.39 123.88 L326.97 123.97 L328.55 124.08 L330.13 124.19 L331.71 124.32 L333.29 124.51 L334.87 124.77 L336.45 125.06 L338.03 125.38 L339.61 125.7 L341.19 126.01 L342.77 126.29 L344.35 126.57 L345.93 126.85 L347.51 127.13 L349.09 127.41 L350.67 127.7 L352.25 127.98" fill="none" stroke="#f9c96a" stroke-width="1.0" stroke-dasharray="3 1 0.8 1"/>
<path d="M304.85 123.7 L306.43 123.78 L308.01 123.88 L309.59 123.97 L311.17 124.07 L312.75 124.18 L314.33 124.29 L315.91 124.43 L317.49 124.59 L319.07 124.77 L320.65 125.02 L322.23 125.32 L323.81 125.7 L325.39 126.13 L326.97 126.62 L328.55 127.15 L330.13 127.73 L331.71 128.37 L333.29 129.15 L334.87 130.06 L336.45 131.07 L338.03 132.15 L339.61 133.26 L341.19 134.37 L342.77 135.48 L344.35 136.63 L345.93 137.83 L347.51 139.06 L349.09 140.31 L350.67 141.56 L352.25 142.8" fill="none" stroke="#d7302a" stroke-width="1.2" stroke-dasharray="3.4 1 0.9 1"/>
</g>
<text x="303.45" y="160.45" font-size="7.6" fill="#222" textLength="10" lengthAdjust="spacingAndGlyphs">2, 1</text>
<clipPath id="c3522_1155"><rect x="352.25" y="115.5" width="48.75" height="48.75"/></clipPath>
<g clip-path="url(#c3522_1155)">
<line x1="379.65" y1="115.5" x2="379.65" y2="164.25" stroke="#d0d0d0" stroke-width="0.6" stroke-dasharray="1 1.4"/>
<path d="M353.85 123.7 L355.42 123.7 L356.99 123.7 L358.56 123.7 L360.14 123.7 L361.71 123.7 L363.28 123.7 L364.85 123.7 L366.42 123.7 L368 123.7 L369.57 123.69 L371.14 123.67 L372.71 123.64 L374.28 123.59 L375.85 123.54 L377.43 123.48 L379 123.41 L380.57 123.34 L382.14 123.24 L383.71 123.11 L385.28 122.96 L386.86 122.79 L388.43 122.62 L390 122.45 L391.57 122.29 L393.14 122.12 L394.71 121.94 L396.29 121.75 L397.86 121.56 L399.43 121.37 L401 121.18 L401 176.81 L399.43 172.49 L397.86 168.25 L396.29 164.24 L394.71 160.59 L393.14 157.36 L391.57 154.43 L390 151.73 L388.43 149.17 L386.86 146.71 L385.28 144.27 L383.71 141.84 L382.14 139.53 L380.57 137.42 L379 135.57 L377.43 134.01 L375.85 132.76 L374.28 131.71 L372.71 130.81 L371.14 130.03 L369.57 129.35 L368 128.74 L366.42 128.2 L364.85 127.71 L363.28 127.28 L361.71 126.91 L360.14 126.58 L358.56 126.32 L356.99 126.13 L355.42 126.01 L353.85 125.96 Z" fill="#dbeff7"/>
<path d="M353.85 123.7 L355.42 123.71 L356.99 123.73 L358.56 123.75 L360.14 123.77 L361.71 123.79 L363.28 123.81 L364.85 123.83 L366.42 123.86 L368 123.89 L369.57 123.92 L371.14 123.96 L372.71 124 L374.28 124.05 L375.85 124.1 L377.43 124.16 L379 124.23 L380.57 124.31 L382.14 124.41 L383.71 124.53 L385.28 124.67 L386.86 124.82 L388.43 124.98 L390 125.14 L391.57 125.3 L393.14 125.47 L394.71 125.65 L396.29 125.84 L397.86 126.03 L399.43 126.22 L401 126.41 L401 145.66 L399.43 144.45 L397.86 143.25 L396.29 142.05 L394.71 140.86 L393.14 139.67 L391.57 138.48 L390 137.28 L388.43 135.99 L386.86 134.65 L385.28 133.32 L383.71 132.06 L382.14 130.92 L380.57 129.95 L379 129.2 L377.43 128.54 L375.85 127.94 L374.28 127.39 L372.71 126.91 L371.14 126.47 L369.57 126.09 L368 125.76 L366.42 125.47 L364.85 125.22 L363.28 125 L361.71 124.8 L360.14 124.62 L358.56 124.45 L356.99 124.28 L355.42 124.12 L353.85 123.98 Z" fill="#8dbcdb" fill-opacity="0.9"/>
<path d="M353.85 123.7 L355.42 123.73 L356.99 123.76 L358.56 123.79 L360.14 123.82 L361.71 123.86 L363.28 123.9 L364.85 123.95 L366.42 124 L368 124.07 L369.57 124.18 L371.14 124.34 L372.71 124.55 L374.28 124.79 L375.85 125.07 L377.43 125.38 L379 125.71 L380.57 126.07 L382.14 126.52 L383.71 127.06 L385.28 127.66 L386.86 128.28 L388.43 128.9 L390 129.49 L391.57 130.02 L393.14 130.53 L394.71 131.04 L396.29 131.53 L397.86 132.03 L399.43 132.54 L401 133.05 L401 136.41 L399.43 135.76 L397.86 135.12 L396.29 134.48 L394.71 133.84 L393.14 133.19 L391.57 132.54 L390 131.86 L388.43 131.13 L386.86 130.36 L385.28 129.59 L383.71 128.84 L382.14 128.15 L380.57 127.55 L379 127.05 L377.43 126.6 L375.85 126.17 L374.28 125.77 L372.71 125.41 L371.14 125.1 L369.57 124.84 L368 124.64 L366.42 124.48 L364.85 124.34 L363.28 124.22 L361.71 124.12 L360.14 124.03 L358.56 123.94 L356.99 123.85 L355.42 123.77 L353.85 123.7 Z" fill="#2862ae"/>
<path d="M353.85 123.7 L355.42 123.72 L356.99 123.75 L358.56 123.77 L360.14 123.79 L361.71 123.82 L363.28 123.85 L364.85 123.89 L366.42 123.93 L368 123.98 L369.57 124.06 L371.14 124.16 L372.71 124.3 L374.28 124.46 L375.85 124.65 L377.43 124.86 L379 125.09 L380.57 125.35 L382.14 125.68 L383.71 126.07 L385.28 126.52 L386.86 127.01 L388.43 127.54 L390 128.08 L391.57 128.65 L393.14 129.28 L394.71 129.98 L396.29 130.71 L397.86 131.46 L399.43 132.22 L401 132.95" fill="none" stroke="#f5945f" stroke-width="1.3"/>
<path d="M353.85 123.7 L355.42 123.7 L356.99 123.7 L358.56 123.7 L360.14 123.7 L361.71 123.7 L363.28 123.7 L364.85 123.7 L366.42 123.7 L368 123.7 L369.57 123.71 L371.14 123.75 L372.71 123.81 L374.28 123.89 L375.85 123.98 L377.43 124.09 L379 124.21 L380.57 124.35 L382.14 124.55 L383.71 124.82 L385.28 125.13 L386.86 125.46 L388.43 125.8 L390 126.12 L391.57 126.41 L393.14 126.7 L394.71 126.99 L396.29 127.29 L397.86 127.59 L399.43 127.89 L401 128.19" fill="none" stroke="#f9c96a" stroke-width="1.0" stroke-dasharray="3 1 0.8 1"/>
<path d="M353.85 123.7 L355.42 123.79 L356.99 123.88 L358.56 123.99 L360.14 124.09 L361.71 124.2 L363.28 124.32 L364.85 124.46 L366.42 124.63 L368 124.82 L369.57 125.08 L371.14 125.4 L372.71 125.79 L374.28 126.25 L375.85 126.76 L377.43 127.32 L379 127.92 L380.57 128.59 L382.14 129.41 L383.71 130.36 L385.28 131.42 L386.86 132.55 L388.43 133.71 L390 134.88 L391.57 136.03 L393.14 137.24 L394.71 138.49 L396.29 139.78 L397.86 141.09 L399.43 142.4 L401 143.7" fill="none" stroke="#d7302a" stroke-width="1.2" stroke-dasharray="3.4 1 0.9 1"/>
</g>
<text x="352.45" y="160.45" font-size="7.6" fill="#222" textLength="10" lengthAdjust="spacingAndGlyphs">3, 1</text>
<clipPath id="c4010_1155"><rect x="401" y="115.5" width="48.6" height="48.75"/></clipPath>
<g clip-path="url(#c4010_1155)">
<line x1="428.7" y1="115.5" x2="428.7" y2="164.25" stroke="#d0d0d0" stroke-width="0.6" stroke-dasharray="1 1.4"/>
<path d="M402.6 123.7 L404.17 123.7 L405.73 123.7 L407.3 123.7 L408.87 123.7 L410.43 123.7 L412 123.7 L413.57 123.7 L415.13 123.7 L416.7 123.7 L418.27 123.69 L419.83 123.67 L421.4 123.64 L422.97 123.59 L424.53 123.54 L426.1 123.48 L427.67 123.41 L429.23 123.34 L430.8 123.24 L432.37 123.11 L433.93 122.96 L435.5 122.79 L437.07 122.62 L438.63 122.45 L440.2 122.29 L441.77 122.12 L443.33 121.94 L444.9 121.75 L446.47 121.56 L448.03 121.37 L449.6 121.18 L449.6 176.81 L448.03 172.49 L446.47 168.25 L444.9 164.24 L443.33 160.59 L441.77 157.36 L440.2 154.43 L438.63 151.73 L437.07 149.17 L435.5 146.71 L433.93 144.27 L432.37 141.84 L430.8 139.53 L429.23 137.42 L427.67 135.57 L426.1 134.01 L424.53 132.76 L422.97 131.71 L421.4 130.81 L419.83 130.03 L418.27 129.35 L416.7 128.74 L415.13 128.2 L413.57 127.71 L412 127.28 L410.43 126.91 L408.87 126.58 L407.3 126.32 L405.73 126.13 L404.17 126.01 L402.6 125.96 Z" fill="#dbeff7"/>
<path d="M402.6 123.7 L404.17 123.71 L405.73 123.73 L407.3 123.75 L408.87 123.76 L410.43 123.78 L412 123.8 L413.57 123.83 L415.13 123.85 L416.7 123.88 L418.27 123.91 L419.83 123.95 L421.4 123.99 L422.97 124.03 L424.53 124.08 L426.1 124.14 L427.67 124.21 L429.23 124.28 L430.8 124.38 L432.37 124.5 L433.93 124.63 L435.5 124.77 L437.07 124.92 L438.63 125.07 L440.2 125.23 L441.77 125.39 L443.33 125.56 L444.9 125.74 L446.47 125.92 L448.03 126.11 L449.6 126.29 L449.6 144.67 L448.03 143.52 L446.47 142.37 L444.9 141.23 L443.33 140.09 L441.77 138.95 L440.2 137.82 L438.63 136.67 L437.07 135.44 L435.5 134.16 L433.93 132.89 L432.37 131.68 L430.8 130.59 L429.23 129.67 L427.67 128.95 L426.1 128.32 L424.53 127.74 L422.97 127.23 L421.4 126.76 L419.83 126.35 L418.27 125.98 L416.7 125.67 L415.13 125.39 L413.57 125.16 L412 124.94 L410.43 124.75 L408.87 124.58 L407.3 124.41 L405.73 124.25 L404.17 124.1 L402.6 123.97 Z" fill="#8dbcdb" fill-opacity="0.9"/>
<path d="M402.6 123.7 L404.17 123.73 L405.73 123.76 L407.3 123.79 L408.87 123.82 L410.43 123.85 L412 123.89 L413.57 123.94 L415.13 123.99 L416.7 124.06 L418.27 124.16 L419.83 124.31 L421.4 124.51 L422.97 124.74 L424.53 125.01 L426.1 125.3 L427.67 125.62 L429.23 125.96 L430.8 126.4 L432.37 126.91 L433.93 127.48 L435.5 128.08 L437.07 128.67 L438.63 129.23 L440.2 129.73 L441.77 130.22 L443.33 130.71 L444.9 131.18 L446.47 131.66 L448.03 132.14 L449.6 132.63 L449.6 135.84 L448.03 135.22 L446.47 134.6 L444.9 133.99 L443.33 133.38 L441.77 132.77 L440.2 132.14 L438.63 131.5 L437.07 130.8 L435.5 130.06 L433.93 129.32 L432.37 128.61 L430.8 127.95 L429.23 127.38 L427.67 126.9 L426.1 126.47 L424.53 126.06 L422.97 125.68 L421.4 125.34 L419.83 125.04 L418.27 124.79 L416.7 124.59 L415.13 124.44 L413.57 124.31 L412 124.2 L410.43 124.1 L408.87 124.01 L407.3 123.93 L405.73 123.85 L404.17 123.77 L402.6 123.7 Z" fill="#2862ae"/>
<path d="M402.6 123.7 L404.17 123.72 L405.73 123.74 L407.3 123.77 L408.87 123.79 L410.43 123.82 L412 123.84 L413.57 123.88 L415.13 123.92 L416.7 123.97 L418.27 124.04 L419.83 124.14 L421.4 124.27 L422.97 124.43 L424.53 124.61 L426.1 124.81 L427.67 125.03 L429.23 125.28 L430.8 125.59 L432.37 125.97 L433.93 126.39 L435.5 126.87 L437.07 127.37 L438.63 127.88 L440.2 128.42 L441.77 129.03 L443.33 129.7 L444.9 130.4 L446.47 131.12 L448.03 131.84 L449.6 132.54" fill="none" stroke="#f5945f" stroke-width="1.3"/>
<path d="M402.6 123.7 L404.17 123.7 L405.73 123.7 L407.3 123.7 L408.87 123.7 L410.43 123.7 L412 123.7 L413.57 123.7 L415.13 123.7 L416.7 123.7 L418.27 123.71 L419.83 123.75 L421.4 123.81 L422.97 123.88 L424.53 123.97 L426.1 124.08 L427.67 124.19 L429.23 124.32 L430.8 124.51 L432.37 124.77 L433.93 125.06 L435.5 125.38 L437.07 125.7 L438.63 126.01 L440.2 126.29 L441.77 126.57 L443.33 126.85 L444.9 127.13 L446.47 127.41 L448.03 127.7 L449.6 127.98" fill="none" stroke="#f9c96a" stroke-width="1.0" stroke-dasharray="3 1 0.8 1"/>
<path d="M402.6 123.7 L404.17 123.78 L405.73 123.88 L407.3 123.97 L408.87 124.07 L410.43 124.18 L412 124.29 L413.57 124.43 L415.13 124.59 L416.7 124.77 L418.27 125.02 L419.83 125.32 L421.4 125.7 L422.97 126.13 L424.53 126.62 L426.1 127.15 L427.67 127.73 L429.23 128.37 L430.8 129.15 L432.37 130.06 L433.93 131.07 L435.5 132.15 L437.07 133.26 L438.63 134.37 L440.2 135.48 L441.77 136.63 L443.33 137.83 L444.9 139.06 L446.47 140.31 L448.03 141.56 L449.6 142.8" fill="none" stroke="#d7302a" stroke-width="1.2" stroke-dasharray="3.4 1 0.9 1"/>
</g>
<text x="401.2" y="160.45" font-size="7.6" fill="#222" textLength="10" lengthAdjust="spacingAndGlyphs">4, 1</text>
<clipPath id="c3032_1642"><rect x="303.25" y="164.25" width="49" height="48.5"/></clipPath>
<g clip-path="url(#c3032_1642)">
<line x1="329.15" y1="164.25" x2="329.15" y2="212.75" stroke="#d0d0d0" stroke-width="0.6" stroke-dasharray="1 1.4"/>
<path d="M304.85 172.45 L306.43 172.45 L308.01 172.45 L309.59 172.45 L311.17 172.45 L312.75 172.45 L314.33 172.45 L315.91 172.45 L317.49 172.45 L319.07 172.45 L320.65 172.45 L322.23 172.44 L323.81 172.41 L325.39 172.38 L326.97 172.32 L328.55 172.26 L330.13 172.19 L331.71 172.12 L333.29 172.03 L334.87 171.9 L336.45 171.74 L338.03 171.56 L339.61 171.36 L341.19 171.16 L342.77 170.97 L344.35 170.77 L345.93 170.55 L347.51 170.33 L349.09 170.11 L350.67 169.88 L352.25 169.65 L352.25 217.1 L350.67 213.28 L349.09 209.55 L347.51 206.05 L345.93 202.91 L344.35 200.14 L342.77 197.63 L341.19 195.32 L339.61 193.12 L338.03 191 L336.45 188.87 L334.87 186.81 L333.29 184.89 L331.71 183.18 L330.13 181.72 L328.55 180.52 L326.97 179.56 L325.39 178.75 L323.81 178.05 L322.23 177.44 L320.65 176.91 L319.07 176.43 L317.49 176.01 L315.91 175.63 L314.33 175.3 L312.75 175.02 L311.17 174.78 L309.59 174.59 L308.01 174.46 L306.43 174.38 L304.85 174.35 Z" fill="#dbeff7"/>
<path d="M304.85 172.45 L306.43 172.46 L308.01 172.47 L309.59 172.48 L311.17 172.5 L312.75 172.51 L314.33 172.53 L315.91 172.54 L317.49 172.56 L319.07 172.58 L320.65 172.61 L322.23 172.64 L323.81 172.67 L325.39 172.71 L326.97 172.75 L328.55 172.79 L330.13 172.85 L331.71 172.91 L333.29 172.98 L334.87 173.07 L336.45 173.18 L338.03 173.31 L339.61 173.45 L341.19 173.59 L342.77 173.73 L344.35 173.88 L345.93 174.04 L347.51 174.21 L349.09 174.38 L350.67 174.55 L352.25 174.73 L352.25 190.9 L350.67 189.79 L349.09 188.7 L347.51 187.62 L345.93 186.54 L344.35 185.47 L342.77 184.4 L341.19 183.3 L339.61 182.12 L338.03 180.93 L336.45 179.79 L334.87 178.75 L333.29 177.87 L331.71 177.17 L330.13 176.59 L328.55 176.07 L326.97 175.6 L325.39 175.18 L323.81 174.81 L322.23 174.48 L320.65 174.2 L319.07 173.96 L317.49 173.76 L315.91 173.57 L314.33 173.41 L312.75 173.27 L311.17 173.13 L309.59 173 L308.01 172.88 L306.43 172.77 L304.85 172.69 Z" fill="#8dbcdb" fill-opacity="0.9"/>
<path d="M304.85 172.45 L306.43 172.47 L308.01 172.49 L309.59 172.51 L311.17 172.54 L312.75 172.56 L314.33 172.59 L315.91 172.62 L317.49 172.66 L319.07 172.71 L320.65 172.77 L322.23 172.86 L323.81 173 L325.39 173.18 L326.97 173.39 L328.55 173.63 L330.13 173.9 L331.71 174.19 L333.29 174.51 L334.87 174.93 L336.45 175.43 L338.03 175.96 L339.61 176.52 L341.19 177.06 L342.77 177.55 L344.35 178.02 L345.93 178.48 L347.51 178.93 L349.09 179.38 L350.67 179.84 L352.25 180.3 L352.25 183.13 L350.67 182.53 L349.09 181.95 L347.51 181.37 L345.93 180.79 L344.35 180.21 L342.77 179.62 L341.19 178.99 L339.61 178.31 L338.03 177.63 L336.45 176.96 L334.87 176.33 L333.29 175.79 L331.71 175.34 L330.13 174.94 L328.55 174.56 L326.97 174.22 L325.39 173.91 L323.81 173.65 L322.23 173.43 L320.65 173.25 L319.07 173.11 L317.49 173 L315.91 172.9 L314.33 172.82 L312.75 172.75 L311.17 172.68 L309.59 172.61 L308.01 172.55 L306.43 172.49 L304.85 172.45 Z" fill="#2862ae"/>
<path d="M304.85 172.45 L306.43 172.46 L308.01 172.48 L309.59 172.5 L311.17 172.52 L312.75 172.53 L314.33 172.56 L315.91 172.58 L317.49 172.61 L319.07 172.65 L320.65 172.69 L322.23 172.76 L323.81 172.85 L325.39 172.97 L326.97 173.11 L328.55 173.27 L330.13 173.46 L331.71 173.66 L333.29 173.89 L334.87 174.19 L336.45 174.55 L338.03 174.96 L339.61 175.41 L341.19 175.89 L342.77 176.38 L344.35 176.92 L345.93 177.53 L347.51 178.19 L349.09 178.87 L350.67 179.55 L352.25 180.22" fill="none" stroke="#f5945f" stroke-width="1.3"/>
<path d="M304.85 172.45 L306.43 172.45 L308.01 172.45 L309.59 172.45 L311.17 172.45 L312.75 172.45 L314.33 172.45 L315.91 172.45 L317.49 172.45 L319.07 172.45 L320.65 172.45 L322.23 172.46 L323.81 172.5 L325.39 172.55 L326.97 172.62 L328.55 172.7 L330.13 172.79 L331.71 172.9 L333.29 173.03 L334.87 173.22 L336.45 173.47 L338.03 173.75 L339.61 174.05 L341.19 174.34 L342.77 174.61 L344.35 174.87 L345.93 175.14 L347.51 175.4 L349.09 175.67 L350.67 175.94 L352.25 176.22" fill="none" stroke="#f9c96a" stroke-width="1.0" stroke-dasharray="3 1 0.8 1"/>
<path d="M304.85 172.45 L306.43 172.5 L308.01 172.57 L309.59 172.64 L311.17 172.72 L312.75 172.8 L314.33 172.89 L315.91 172.99 L317.49 173.11 L319.07 173.25 L320.65 173.41 L322.23 173.63 L323.81 173.9 L325.39 174.24 L326.97 174.63 L328.55 175.07 L330.13 175.56 L331.71 176.09 L333.29 176.69 L334.87 177.44 L336.45 178.31 L338.03 179.27 L339.61 180.28 L341.19 181.33 L342.77 182.36 L344.35 183.42 L345.93 184.53 L347.51 185.69 L349.09 186.87 L350.67 188.06 L352.25 189.25" fill="none" stroke="#d7302a" stroke-width="1.2" stroke-dasharray="3.4 1 0.9 1"/>
</g>
<text x="303.45" y="208.95" font-size="7.6" fill="#222" textLength="10" lengthAdjust="spacingAndGlyphs">2, 2</text>
<clipPath id="c3522_1642"><rect x="352.25" y="164.25" width="48.75" height="48.5"/></clipPath>
<g clip-path="url(#c3522_1642)">
<line x1="379.85" y1="164.25" x2="379.85" y2="212.75" stroke="#d0d0d0" stroke-width="0.6" stroke-dasharray="1 1.4"/>
<path d="M353.85 172.45 L355.42 172.45 L356.99 172.45 L358.56 172.45 L360.14 172.45 L361.71 172.45 L363.28 172.45 L364.85 172.45 L366.42 172.45 L368 172.45 L369.57 172.45 L371.14 172.44 L372.71 172.41 L374.28 172.38 L375.85 172.32 L377.43 172.26 L379 172.19 L380.57 172.12 L382.14 172.03 L383.71 171.9 L385.28 171.74 L386.86 171.56 L388.43 171.36 L390 171.16 L391.57 170.97 L393.14 170.77 L394.71 170.55 L396.29 170.33 L397.86 170.11 L399.43 169.88 L401 169.65 L401 212.87 L399.43 209.41 L397.86 206.03 L396.29 202.87 L394.71 200.02 L393.14 197.51 L391.57 195.25 L390 193.15 L388.43 191.16 L386.86 189.24 L385.28 187.32 L383.71 185.45 L382.14 183.71 L380.57 182.16 L379 180.84 L377.43 179.76 L375.85 178.89 L374.28 178.15 L372.71 177.52 L371.14 176.97 L369.57 176.48 L368 176.05 L366.42 175.67 L364.85 175.33 L363.28 175.03 L361.71 174.77 L360.14 174.56 L358.56 174.39 L356.99 174.27 L355.42 174.19 L353.85 174.17 Z" fill="#dbeff7"/>
<path d="M353.85 172.45 L355.42 172.46 L356.99 172.47 L358.56 172.49 L360.14 172.5 L361.71 172.52 L363.28 172.53 L364.85 172.55 L366.42 172.57 L368 172.59 L369.57 172.62 L371.14 172.65 L372.71 172.69 L374.28 172.72 L375.85 172.77 L377.43 172.82 L379 172.87 L380.57 172.94 L382.14 173.02 L383.71 173.12 L385.28 173.24 L386.86 173.37 L388.43 173.52 L390 173.67 L391.57 173.82 L393.14 173.98 L394.71 174.15 L396.29 174.33 L397.86 174.52 L399.43 174.7 L401 174.89 L401 192.22 L399.43 191.03 L397.86 189.86 L396.29 188.7 L394.71 187.55 L393.14 186.4 L391.57 185.26 L390 184.07 L388.43 182.81 L386.86 181.54 L385.28 180.31 L383.71 179.2 L382.14 178.25 L380.57 177.51 L379 176.89 L377.43 176.33 L375.85 175.82 L374.28 175.37 L372.71 174.98 L371.14 174.63 L369.57 174.33 L368 174.07 L366.42 173.85 L364.85 173.65 L363.28 173.48 L361.71 173.32 L360.14 173.18 L358.56 173.04 L356.99 172.91 L355.42 172.79 L353.85 172.7 Z" fill="#8dbcdb" fill-opacity="0.9"/>
<path d="M353.85 172.45 L355.42 172.47 L356.99 172.49 L358.56 172.52 L360.14 172.54 L361.71 172.57 L363.28 172.6 L364.85 172.64 L366.42 172.68 L368 172.73 L369.57 172.79 L371.14 172.89 L372.71 173.04 L374.28 173.23 L375.85 173.46 L377.43 173.72 L379 174 L380.57 174.31 L382.14 174.66 L383.71 175.11 L385.28 175.64 L386.86 176.21 L388.43 176.81 L390 177.39 L391.57 177.92 L393.14 178.42 L394.71 178.91 L396.29 179.39 L397.86 179.87 L399.43 180.36 L401 180.86 L401 183.89 L399.43 183.25 L397.86 182.63 L396.29 182.01 L394.71 181.39 L393.14 180.76 L391.57 180.13 L390 179.46 L388.43 178.73 L386.86 178 L385.28 177.28 L383.71 176.61 L382.14 176.02 L380.57 175.54 L379 175.12 L377.43 174.72 L375.85 174.35 L374.28 174.02 L372.71 173.73 L371.14 173.5 L369.57 173.31 L368 173.16 L366.42 173.04 L364.85 172.94 L363.28 172.85 L361.71 172.77 L360.14 172.69 L358.56 172.62 L356.99 172.56 L355.42 172.5 L353.85 172.45 Z" fill="#2862ae"/>
<path d="M353.85 172.45 L355.42 172.46 L356.99 172.48 L358.56 172.5 L360.14 172.52 L361.71 172.54 L363.28 172.56 L364.85 172.59 L366.42 172.62 L368 172.66 L369.57 172.71 L371.14 172.78 L372.71 172.88 L374.28 173 L375.85 173.15 L377.43 173.33 L379 173.53 L380.57 173.74 L382.14 173.99 L383.71 174.32 L385.28 174.7 L386.86 175.14 L388.43 175.63 L390 176.14 L391.57 176.66 L393.14 177.24 L394.71 177.89 L396.29 178.59 L397.86 179.32 L399.43 180.06 L401 180.78" fill="none" stroke="#f5945f" stroke-width="1.3"/>
<path d="M353.85 172.45 L355.42 172.45 L356.99 172.45 L358.56 172.45 L360.14 172.45 L361.71 172.45 L363.28 172.45 L364.85 172.45 L366.42 172.45 L368 172.45 L369.57 172.45 L371.14 172.46 L372.71 172.5 L374.28 172.56 L375.85 172.63 L377.43 172.72 L379 172.82 L380.57 172.93 L382.14 173.07 L383.71 173.27 L385.28 173.54 L386.86 173.84 L388.43 174.16 L390 174.48 L391.57 174.77 L393.14 175.05 L394.71 175.33 L396.29 175.62 L397.86 175.9 L399.43 176.19 L401 176.49" fill="none" stroke="#f9c96a" stroke-width="1.0" stroke-dasharray="3 1 0.8 1"/>
<path d="M353.85 172.45 L355.42 172.51 L356.99 172.58 L358.56 172.66 L360.14 172.74 L361.71 172.83 L363.28 172.92 L364.85 173.03 L366.42 173.15 L368 173.3 L369.57 173.48 L371.14 173.71 L372.71 174.01 L374.28 174.37 L375.85 174.79 L377.43 175.26 L379 175.78 L380.57 176.35 L382.14 177 L383.71 177.8 L385.28 178.73 L386.86 179.75 L388.43 180.84 L390 181.96 L391.57 183.06 L393.14 184.2 L394.71 185.4 L396.29 186.63 L397.86 187.9 L399.43 189.18 L401 190.45" fill="none" stroke="#d7302a" stroke-width="1.2" stroke-dasharray="3.4 1 0.9 1"/>
</g>
<text x="352.45" y="208.95" font-size="7.6" fill="#222" textLength="10" lengthAdjust="spacingAndGlyphs">3, 2</text>
<clipPath id="c4010_1642"><rect x="401" y="164.25" width="48.6" height="48.5"/></clipPath>
<g clip-path="url(#c4010_1642)">
<line x1="428.4" y1="164.25" x2="428.4" y2="212.75" stroke="#d0d0d0" stroke-width="0.6" stroke-dasharray="1 1.4"/>
<path d="M402.6 172.45 L404.17 172.45 L405.73 172.45 L407.3 172.45 L408.87 172.45 L410.43 172.45 L412 172.45 L413.57 172.45 L415.13 172.45 L416.7 172.45 L418.27 172.45 L419.83 172.44 L421.4 172.41 L422.97 172.38 L424.53 172.32 L426.1 172.26 L427.67 172.19 L429.23 172.12 L430.8 172.03 L432.37 171.9 L433.93 171.74 L435.5 171.56 L437.07 171.36 L438.63 171.16 L440.2 170.97 L441.77 170.77 L443.33 170.55 L444.9 170.33 L446.47 170.11 L448.03 169.88 L449.6 169.65 L449.6 212.4 L448.03 208.98 L446.47 205.64 L444.9 202.51 L443.33 199.7 L441.77 197.22 L440.2 194.98 L438.63 192.91 L437.07 190.95 L435.5 189.05 L433.93 187.15 L432.37 185.3 L430.8 183.58 L429.23 182.05 L427.67 180.74 L426.1 179.67 L424.53 178.81 L422.97 178.08 L421.4 177.46 L419.83 176.92 L418.27 176.44 L416.7 176.01 L415.13 175.63 L413.57 175.3 L412 175 L410.43 174.75 L408.87 174.54 L407.3 174.37 L405.73 174.25 L404.17 174.17 L402.6 174.15 Z" fill="#dbeff7"/>
<path d="M402.6 172.45 L404.17 172.46 L405.73 172.47 L407.3 172.48 L408.87 172.5 L410.43 172.51 L412 172.53 L413.57 172.54 L415.13 172.56 L416.7 172.58 L418.27 172.61 L419.83 172.64 L421.4 172.67 L422.97 172.71 L424.53 172.75 L426.1 172.79 L427.67 172.85 L429.23 172.91 L430.8 172.98 L432.37 173.07 L433.93 173.18 L435.5 173.31 L437.07 173.45 L438.63 173.59 L440.2 173.73 L441.77 173.88 L443.33 174.04 L444.9 174.21 L446.47 174.38 L448.03 174.55 L449.6 174.73 L449.6 190.9 L448.03 189.79 L446.47 188.7 L444.9 187.62 L443.33 186.54 L441.77 185.47 L440.2 184.4 L438.63 183.3 L437.07 182.12 L435.5 180.93 L433.93 179.79 L432.37 178.75 L430.8 177.87 L429.23 177.17 L427.67 176.59 L426.1 176.07 L424.53 175.6 L422.97 175.18 L421.4 174.81 L419.83 174.48 L418.27 174.2 L416.7 173.96 L415.13 173.76 L413.57 173.57 L412 173.41 L410.43 173.27 L408.87 173.13 L407.3 173 L405.73 172.88 L404.17 172.77 L402.6 172.69 Z" fill="#8dbcdb" fill-opacity="0.9"/>
<path d="M402.6 172.45 L404.17 172.47 L405.73 172.49 L407.3 172.51 L408.87 172.54 L410.43 172.56 L412 172.59 L413.57 172.62 L415.13 172.66 L416.7 172.71 L418.27 172.77 L419.83 172.86 L421.4 173 L422.97 173.18 L424.53 173.39 L426.1 173.63 L427.67 173.9 L429.23 174.19 L430.8 174.51 L432.37 174.93 L433.93 175.43 L435.5 175.96 L437.07 176.52 L438.63 177.06 L440.2 177.55 L441.77 178.02 L443.33 178.48 L444.9 178.93 L446.47 179.38 L448.03 179.84 L449.6 180.3 L449.6 183.13 L448.03 182.53 L446.47 181.95 L444.9 181.37 L443.33 180.79 L441.77 180.21 L440.2 179.62 L438.63 178.99 L437.07 178.31 L435.5 177.63 L433.93 176.96 L432.37 176.33 L430.8 175.79 L429.23 175.34 L427.67 174.94 L426.1 174.56 L424.53 174.22 L422.97 173.91 L421.4 173.65 L419.83 173.43 L418.27 173.25 L416.7 173.11 L415.13 173 L413.57 172.9 L412 172.82 L410.43 172.75 L408.87 172.68 L407.3 172.61 L405.73 172.55 L404.17 172.49 L402.6 172.45 Z" fill="#2862ae"/>
<path d="M402.6 172.45 L404.17 172.46 L405.73 172.48 L407.3 172.5 L408.87 172.52 L410.43 172.53 L412 172.56 L413.57 172.58 L415.13 172.61 L416.7 172.65 L418.27 172.69 L419.83 172.76 L421.4 172.85 L422.97 172.97 L424.53 173.11 L426.1 173.27 L427.67 173.46 L429.23 173.66 L430.8 173.89 L432.37 174.19 L433.93 174.55 L435.5 174.96 L437.07 175.41 L438.63 175.89 L440.2 176.38 L441.77 176.92 L443.33 177.53 L444.9 178.19 L446.47 178.87 L448.03 179.55 L449.6 180.22" fill="none" stroke="#f5945f" stroke-width="1.3"/>
<path d="M402.6 172.45 L404.17 172.45 L405.73 172.45 L407.3 172.45 L408.87 172.45 L410.43 172.45 L412 172.45 L413.57 172.45 L415.13 172.45 L416.7 172.45 L418.27 172.45 L419.83 172.46 L421.4 172.5 L422.97 172.55 L424.53 172.62 L426.1 172.7 L427.67 172.79 L429.23 172.9 L430.8 173.03 L432.37 173.22 L433.93 173.47 L435.5 173.75 L437.07 174.05 L438.63 174.34 L440.2 174.61 L441.77 174.87 L443.33 175.14 L444.9 175.4 L446.47 175.67 L448.03 175.94 L449.6 176.22" fill="none" stroke="#f9c96a" stroke-width="1.0" stroke-dasharray="3 1 0.8 1"/>
<path d="M402.6 172.45 L404.17 172.5 L405.73 172.57 L407.3 172.64 L408.87 172.72 L410.43 172.8 L412 172.89 L413.57 172.99 L415.13 173.11 L416.7 173.25 L418.27 173.41 L419.83 173.63 L421.4 173.9 L422.97 174.24 L424.53 174.63 L426.1 175.07 L427.67 175.56 L429.23 176.09 L430.8 176.69 L432.37 177.44 L433.93 178.31 L435.5 179.27 L437.07 180.28 L438.63 181.33 L440.2 182.36 L441.77 183.42 L443.33 184.53 L444.9 185.69 L446.47 186.87 L448.03 188.06 L449.6 189.25" fill="none" stroke="#d7302a" stroke-width="1.2" stroke-dasharray="3.4 1 0.9 1"/>
</g>
<text x="401.2" y="208.95" font-size="7.6" fill="#222" textLength="10" lengthAdjust="spacingAndGlyphs">4, 2</text>
<clipPath id="c3522_2127"><rect x="352.25" y="212.75" width="48.75" height="48.5"/></clipPath>
<g clip-path="url(#c3522_2127)">
<line x1="380.25" y1="212.75" x2="380.25" y2="261.25" stroke="#d0d0d0" stroke-width="0.6" stroke-dasharray="1 1.4"/>
<path d="M353.85 220.95 L355.42 220.95 L356.99 220.95 L358.56 220.95 L360.14 220.95 L361.71 220.95 L363.28 220.95 L364.85 220.95 L366.42 220.95 L368 220.95 L369.57 220.95 L371.14 220.95 L372.71 220.94 L374.28 220.91 L375.85 220.87 L377.43 220.81 L379 220.75 L380.57 220.67 L382.14 220.6 L383.71 220.49 L385.28 220.35 L386.86 220.17 L388.43 219.97 L390 219.76 L391.57 219.55 L393.14 219.34 L394.71 219.12 L396.29 218.88 L397.86 218.64 L399.43 218.4 L401 218.15 L401 253.85 L399.43 251.04 L397.86 248.29 L396.29 245.71 L394.71 243.39 L393.14 241.35 L391.57 239.51 L390 237.8 L388.43 236.18 L386.86 234.62 L385.28 233.05 L383.71 231.53 L382.14 230.11 L380.57 228.85 L379 227.78 L377.43 226.9 L375.85 226.19 L374.28 225.59 L372.71 225.08 L371.14 224.63 L369.57 224.23 L368 223.88 L366.42 223.57 L364.85 223.29 L363.28 223.05 L361.71 222.84 L360.14 222.67 L358.56 222.53 L356.99 222.43 L355.42 222.37 L353.85 222.35 Z" fill="#dbeff7"/>
<path d="M353.85 220.95 L355.42 220.96 L356.99 220.96 L358.56 220.97 L360.14 220.98 L361.71 221 L363.28 221.01 L364.85 221.02 L366.42 221.04 L368 221.05 L369.57 221.07 L371.14 221.09 L372.71 221.12 L374.28 221.15 L375.85 221.18 L377.43 221.22 L379 221.26 L380.57 221.31 L382.14 221.36 L383.71 221.44 L385.28 221.53 L386.86 221.64 L388.43 221.76 L390 221.89 L391.57 222.02 L393.14 222.15 L394.71 222.3 L396.29 222.45 L397.86 222.61 L399.43 222.78 L401 222.94 L401 237.09 L399.43 236.05 L397.86 235.02 L396.29 234.01 L394.71 233 L393.14 232.01 L391.57 231.01 L390 229.95 L388.43 228.85 L386.86 227.77 L385.28 226.78 L383.71 225.92 L382.14 225.24 L380.57 224.69 L379 224.21 L377.43 223.78 L375.85 223.4 L374.28 223.06 L372.71 222.77 L371.14 222.52 L369.57 222.31 L368 222.12 L366.42 221.96 L364.85 221.82 L363.28 221.7 L361.71 221.58 L360.14 221.48 L358.56 221.38 L356.99 221.29 L355.42 221.21 L353.85 221.16 Z" fill="#8dbcdb" fill-opacity="0.9"/>
<path d="M353.85 220.95 L355.42 220.96 L356.99 220.98 L358.56 220.99 L360.14 221.01 L361.71 221.03 L363.28 221.05 L364.85 221.08 L366.42 221.11 L368 221.14 L369.57 221.19 L371.14 221.24 L372.71 221.33 L374.28 221.45 L375.85 221.62 L377.43 221.81 L379 222.03 L380.57 222.28 L382.14 222.54 L383.71 222.87 L385.28 223.27 L386.86 223.74 L388.43 224.25 L390 224.76 L391.57 225.24 L393.14 225.68 L394.71 226.11 L396.29 226.53 L397.86 226.95 L399.43 227.38 L401 227.82 L401 230.29 L399.43 229.73 L397.86 229.18 L396.29 228.64 L394.71 228.1 L393.14 227.55 L391.57 226.99 L390 226.39 L388.43 225.76 L386.86 225.13 L385.28 224.54 L383.71 224.01 L382.14 223.58 L380.57 223.21 L379 222.87 L377.43 222.55 L375.85 222.28 L374.28 222.03 L372.71 221.83 L371.14 221.67 L369.57 221.55 L368 221.45 L366.42 221.36 L364.85 221.29 L363.28 221.23 L361.71 221.17 L360.14 221.11 L358.56 221.06 L356.99 221.02 L355.42 220.98 L353.85 220.95 Z" fill="#2862ae"/>
<path d="M353.85 220.95 L355.42 220.96 L356.99 220.97 L358.56 220.98 L360.14 221 L361.71 221.01 L363.28 221.03 L364.85 221.05 L366.42 221.07 L368 221.1 L369.57 221.13 L371.14 221.17 L372.71 221.23 L374.28 221.31 L375.85 221.42 L377.43 221.55 L379 221.7 L380.57 221.87 L382.14 222.06 L383.71 222.29 L385.28 222.58 L386.86 222.93 L388.43 223.33 L390 223.76 L391.57 224.21 L393.14 224.68 L394.71 225.23 L396.29 225.84 L397.86 226.47 L399.43 227.12 L401 227.75" fill="none" stroke="#f5945f" stroke-width="1.3"/>
<path d="M353.85 220.95 L355.42 220.95 L356.99 220.95 L358.56 220.95 L360.14 220.95 L361.71 220.95 L363.28 220.95 L364.85 220.95 L366.42 220.95 L368 220.95 L369.57 220.95 L371.14 220.95 L372.71 220.96 L374.28 221 L375.85 221.05 L377.43 221.11 L379 221.19 L380.57 221.27 L382.14 221.37 L383.71 221.5 L385.28 221.7 L386.86 221.94 L388.43 222.2 L390 222.48 L391.57 222.75 L393.14 222.99 L394.71 223.23 L396.29 223.48 L397.86 223.73 L399.43 223.99 L401 224.25" fill="none" stroke="#f9c96a" stroke-width="1.0" stroke-dasharray="3 1 0.8 1"/>
<path d="M353.85 220.95 L355.42 220.98 L356.99 221.03 L358.56 221.09 L360.14 221.15 L361.71 221.21 L363.28 221.28 L364.85 221.36 L366.42 221.44 L368 221.54 L369.57 221.67 L371.14 221.82 L372.71 222.01 L374.28 222.27 L375.85 222.57 L377.43 222.93 L379 223.33 L380.57 223.78 L382.14 224.27 L383.71 224.86 L385.28 225.58 L386.86 226.41 L388.43 227.32 L390 228.27 L391.57 229.24 L393.14 230.2 L394.71 231.23 L396.29 232.3 L397.86 233.41 L399.43 234.53 L401 235.65" fill="none" stroke="#d7302a" stroke-width="1.2" stroke-dasharray="3.4 1 0.9 1"/>
</g>
<text x="352.45" y="257.45" font-size="7.6" fill="#222" textLength="10" lengthAdjust="spacingAndGlyphs">3, 3</text>
<clipPath id="c4010_2127"><rect x="401" y="212.75" width="48.6" height="48.5"/></clipPath>
<g clip-path="url(#c4010_2127)">
<line x1="428" y1="212.75" x2="428" y2="261.25" stroke="#d0d0d0" stroke-width="0.6" stroke-dasharray="1 1.4"/>
<path d="M402.6 220.95 L404.17 220.95 L405.73 220.95 L407.3 220.95 L408.87 220.95 L410.43 220.95 L412 220.95 L413.57 220.95 L415.13 220.95 L416.7 220.95 L418.27 220.95 L419.83 220.95 L421.4 220.94 L422.97 220.91 L424.53 220.87 L426.1 220.81 L427.67 220.75 L429.23 220.67 L430.8 220.6 L432.37 220.49 L433.93 220.35 L435.5 220.17 L437.07 219.97 L438.63 219.76 L440.2 219.55 L441.77 219.34 L443.33 219.12 L444.9 218.88 L446.47 218.64 L448.03 218.4 L449.6 218.15 L449.6 256.2 L448.03 253.19 L446.47 250.24 L444.9 247.48 L443.33 244.99 L441.77 242.81 L440.2 240.83 L438.63 239 L437.07 237.27 L435.5 235.59 L433.93 233.92 L432.37 232.29 L430.8 230.77 L429.23 229.42 L427.67 228.26 L426.1 227.32 L424.53 226.56 L422.97 225.92 L421.4 225.37 L419.83 224.89 L418.27 224.47 L416.7 224.09 L415.13 223.76 L413.57 223.46 L412 223.2 L410.43 222.98 L408.87 222.79 L407.3 222.64 L405.73 222.54 L404.17 222.47 L402.6 222.45 Z" fill="#dbeff7"/>
<path d="M402.6 220.95 L404.17 220.96 L405.73 220.96 L407.3 220.98 L408.87 220.99 L410.43 221 L412 221.01 L413.57 221.03 L415.13 221.04 L416.7 221.06 L418.27 221.08 L419.83 221.11 L421.4 221.13 L422.97 221.16 L424.53 221.2 L426.1 221.24 L427.67 221.29 L429.23 221.34 L430.8 221.4 L432.37 221.48 L433.93 221.58 L435.5 221.7 L437.07 221.83 L438.63 221.97 L440.2 222.11 L441.77 222.26 L443.33 222.42 L444.9 222.59 L446.47 222.76 L448.03 222.94 L449.6 223.12 L449.6 238.52 L448.03 237.39 L446.47 236.27 L444.9 235.16 L443.33 234.07 L441.77 232.98 L440.2 231.9 L438.63 230.74 L437.07 229.55 L435.5 228.38 L433.93 227.29 L432.37 226.36 L430.8 225.61 L429.23 225.03 L427.67 224.5 L426.1 224.03 L424.53 223.61 L422.97 223.25 L421.4 222.93 L419.83 222.66 L418.27 222.43 L416.7 222.23 L415.13 222.05 L413.57 221.9 L412 221.76 L410.43 221.64 L408.87 221.52 L407.3 221.41 L405.73 221.32 L404.17 221.23 L402.6 221.17 Z" fill="#8dbcdb" fill-opacity="0.9"/>
<path d="M402.6 220.95 L404.17 220.96 L405.73 220.98 L407.3 221 L408.87 221.02 L410.43 221.04 L412 221.06 L413.57 221.09 L415.13 221.12 L416.7 221.16 L418.27 221.21 L419.83 221.27 L421.4 221.36 L422.97 221.5 L424.53 221.68 L426.1 221.89 L427.67 222.13 L429.23 222.4 L430.8 222.68 L432.37 223.04 L433.93 223.48 L435.5 223.99 L437.07 224.54 L438.63 225.09 L440.2 225.62 L441.77 226.09 L443.33 226.56 L444.9 227.02 L446.47 227.48 L448.03 227.95 L449.6 228.43 L449.6 231.12 L448.03 230.51 L446.47 229.91 L444.9 229.32 L443.33 228.73 L441.77 228.14 L440.2 227.53 L438.63 226.87 L437.07 226.18 L435.5 225.5 L433.93 224.86 L432.37 224.28 L430.8 223.81 L429.23 223.41 L427.67 223.04 L426.1 222.7 L424.53 222.39 L422.97 222.13 L421.4 221.91 L419.83 221.73 L418.27 221.6 L416.7 221.49 L415.13 221.4 L413.57 221.32 L412 221.25 L410.43 221.19 L408.87 221.13 L407.3 221.07 L405.73 221.02 L404.17 220.98 L402.6 220.95 Z" fill="#2862ae"/>
<path d="M402.6 220.95 L404.17 220.96 L405.73 220.97 L407.3 220.99 L408.87 221 L410.43 221.02 L412 221.04 L413.57 221.06 L415.13 221.08 L416.7 221.11 L418.27 221.14 L419.83 221.19 L421.4 221.25 L422.97 221.34 L424.53 221.46 L426.1 221.6 L427.67 221.77 L429.23 221.95 L430.8 222.16 L432.37 222.41 L433.93 222.73 L435.5 223.11 L437.07 223.54 L438.63 224 L440.2 224.49 L441.77 225.02 L443.33 225.61 L444.9 226.27 L446.47 226.96 L448.03 227.66 L449.6 228.35" fill="none" stroke="#f5945f" stroke-width="1.3"/>
<path d="M402.6 220.95 L404.17 220.95 L405.73 220.95 L407.3 220.95 L408.87 220.95 L410.43 220.95 L412 220.95 L413.57 220.95 L415.13 220.95 L416.7 220.95 L418.27 220.95 L419.83 220.95 L421.4 220.97 L422.97 221 L424.53 221.05 L426.1 221.12 L427.67 221.21 L429.23 221.3 L430.8 221.4 L432.37 221.55 L433.93 221.76 L435.5 222.02 L437.07 222.32 L438.63 222.62 L440.2 222.9 L441.77 223.17 L443.33 223.44 L444.9 223.71 L446.47 223.98 L448.03 224.26 L449.6 224.54" fill="none" stroke="#f9c96a" stroke-width="1.0" stroke-dasharray="3 1 0.8 1"/>
<path d="M402.6 220.95 L404.17 220.99 L405.73 221.04 L407.3 221.1 L408.87 221.16 L410.43 221.23 L412 221.31 L413.57 221.39 L415.13 221.49 L416.7 221.6 L418.27 221.73 L419.83 221.89 L421.4 222.11 L422.97 222.38 L424.53 222.71 L426.1 223.1 L427.67 223.54 L429.23 224.03 L430.8 224.56 L432.37 225.2 L433.93 225.99 L435.5 226.89 L437.07 227.88 L438.63 228.92 L440.2 229.97 L441.77 231.02 L443.33 232.14 L444.9 233.31 L446.47 234.51 L448.03 235.73 L449.6 236.95" fill="none" stroke="#d7302a" stroke-width="1.2" stroke-dasharray="3.4 1 0.9 1"/>
</g>
<text x="401.2" y="257.45" font-size="7.6" fill="#222" textLength="10" lengthAdjust="spacingAndGlyphs">4, 3</text>
<clipPath id="c4010_2612"><rect x="401" y="261.25" width="48.6" height="48.35"/></clipPath>
<g clip-path="url(#c4010_2612)">
<line x1="428" y1="261.25" x2="428" y2="309.6" stroke="#d0d0d0" stroke-width="0.6" stroke-dasharray="1 1.4"/>
<path d="M402.6 269.45 L404.17 269.45 L405.73 269.45 L407.3 269.45 L408.87 269.45 L410.43 269.45 L412 269.45 L413.57 269.45 L415.13 269.45 L416.7 269.45 L418.27 269.45 L419.83 269.45 L421.4 269.45 L422.97 269.43 L424.53 269.41 L426.1 269.36 L427.67 269.31 L429.23 269.25 L430.8 269.18 L432.37 269.1 L433.93 268.99 L435.5 268.84 L437.07 268.66 L438.63 268.46 L440.2 268.26 L441.77 268.07 L443.33 267.86 L444.9 267.64 L446.47 267.4 L448.03 267.17 L449.6 266.93 L449.6 300 L448.03 297.39 L446.47 294.83 L444.9 292.44 L443.33 290.29 L441.77 288.39 L440.2 286.68 L438.63 285.09 L437.07 283.59 L435.5 282.14 L433.93 280.69 L432.37 279.27 L430.8 277.96 L429.23 276.79 L427.67 275.79 L426.1 274.97 L424.53 274.32 L422.97 273.76 L421.4 273.28 L419.83 272.87 L418.27 272.5 L416.7 272.17 L415.13 271.88 L413.57 271.63 L412 271.4 L410.43 271.21 L408.87 271.04 L407.3 270.92 L405.73 270.82 L404.17 270.77 L402.6 270.75 Z" fill="#dbeff7"/>
<path d="M402.6 269.45 L404.17 269.45 L405.73 269.46 L407.3 269.46 L408.87 269.47 L410.43 269.48 L412 269.49 L413.57 269.49 L415.13 269.5 L416.7 269.52 L418.27 269.53 L419.83 269.54 L421.4 269.56 L422.97 269.58 L424.53 269.6 L426.1 269.63 L427.67 269.65 L429.23 269.69 L430.8 269.73 L432.37 269.77 L433.93 269.83 L435.5 269.91 L437.07 270 L438.63 270.1 L440.2 270.2 L441.77 270.3 L443.33 270.41 L444.9 270.53 L446.47 270.66 L448.03 270.79 L449.6 270.91 L449.6 281.31 L448.03 280.49 L446.47 279.68 L444.9 278.89 L443.33 278.1 L441.77 277.33 L440.2 276.54 L438.63 275.7 L437.07 274.85 L435.5 274.05 L433.93 273.34 L432.37 272.77 L430.8 272.33 L429.23 271.95 L427.67 271.61 L426.1 271.31 L424.53 271.06 L422.97 270.83 L421.4 270.64 L419.83 270.48 L418.27 270.34 L416.7 270.22 L415.13 270.12 L413.57 270.03 L412 269.94 L410.43 269.87 L408.87 269.8 L407.3 269.73 L405.73 269.68 L404.17 269.63 L402.6 269.6 Z" fill="#8dbcdb" fill-opacity="0.9"/>
<path d="M402.6 269.45 L404.17 269.46 L405.73 269.47 L407.3 269.48 L408.87 269.49 L410.43 269.5 L412 269.52 L413.57 269.53 L415.13 269.55 L416.7 269.57 L418.27 269.6 L419.83 269.63 L421.4 269.67 L422.97 269.75 L424.53 269.85 L426.1 269.97 L427.67 270.13 L429.23 270.3 L430.8 270.49 L432.37 270.7 L433.93 270.97 L435.5 271.31 L437.07 271.69 L438.63 272.08 L440.2 272.46 L441.77 272.82 L443.33 273.15 L444.9 273.48 L446.47 273.82 L448.03 274.15 L449.6 274.5 L449.6 276.31 L448.03 275.87 L446.47 275.44 L444.9 275.02 L443.33 274.59 L441.77 274.17 L440.2 273.72 L438.63 273.24 L437.07 272.75 L435.5 272.28 L433.93 271.85 L432.37 271.49 L430.8 271.2 L429.23 270.93 L427.67 270.69 L426.1 270.47 L424.53 270.28 L422.97 270.13 L421.4 270 L419.83 269.91 L418.27 269.83 L416.7 269.77 L415.13 269.71 L413.57 269.67 L412 269.62 L410.43 269.59 L408.87 269.55 L407.3 269.52 L405.73 269.49 L404.17 269.46 L402.6 269.45 Z" fill="#2862ae"/>
<path d="M402.6 269.45 L404.17 269.45 L405.73 269.46 L407.3 269.47 L408.87 269.48 L410.43 269.49 L412 269.5 L413.57 269.51 L415.13 269.53 L416.7 269.54 L418.27 269.56 L419.83 269.59 L421.4 269.62 L422.97 269.67 L424.53 269.73 L426.1 269.82 L427.67 269.92 L429.23 270.04 L430.8 270.17 L432.37 270.32 L433.93 270.52 L435.5 270.76 L437.07 271.05 L438.63 271.37 L440.2 271.71 L441.77 272.07 L443.33 272.48 L444.9 272.94 L446.47 273.44 L448.03 273.95 L449.6 274.45" fill="none" stroke="#f5945f" stroke-width="1.3"/>
<path d="M402.6 269.45 L404.17 269.45 L405.73 269.45 L407.3 269.45 L408.87 269.45 L410.43 269.45 L412 269.45 L413.57 269.45 L415.13 269.45 L416.7 269.45 L418.27 269.45 L419.83 269.45 L421.4 269.45 L422.97 269.46 L424.53 269.49 L426.1 269.53 L427.67 269.58 L429.23 269.64 L430.8 269.71 L432.37 269.79 L433.93 269.91 L435.5 270.07 L437.07 270.27 L438.63 270.48 L440.2 270.69 L441.77 270.89 L443.33 271.08 L444.9 271.27 L446.47 271.47 L448.03 271.67 L449.6 271.87" fill="none" stroke="#f9c96a" stroke-width="1.0" stroke-dasharray="3 1 0.8 1"/>
<path d="M402.6 269.45 L404.17 269.47 L405.73 269.5 L407.3 269.53 L408.87 269.57 L410.43 269.61 L412 269.66 L413.57 269.71 L415.13 269.76 L416.7 269.83 L418.27 269.91 L419.83 270 L421.4 270.11 L422.97 270.27 L424.53 270.46 L426.1 270.7 L427.67 270.98 L429.23 271.3 L430.8 271.65 L432.37 272.04 L433.93 272.53 L435.5 273.12 L437.07 273.79 L438.63 274.51 L440.2 275.26 L441.77 276.01 L443.33 276.79 L444.9 277.62 L446.47 278.49 L448.03 279.37 L449.6 280.25" fill="none" stroke="#d7302a" stroke-width="1.2" stroke-dasharray="3.4 1 0.9 1"/>
</g>
<text x="401.2" y="305.8" font-size="7.6" fill="#222" textLength="10" lengthAdjust="spacingAndGlyphs">4, 4</text>
<rect x="205.5" y="67.4" width="48.75" height="48.1" fill="none" stroke="#686868" stroke-width="0.9"/>
<rect x="254.25" y="67.4" width="49" height="48.1" fill="none" stroke="#686868" stroke-width="0.9"/>
<rect x="303.25" y="67.4" width="49" height="48.1" fill="none" stroke="#686868" stroke-width="0.9"/>
<rect x="352.25" y="67.4" width="48.75" height="48.1" fill="none" stroke="#686868" stroke-width="0.9"/>
<rect x="401" y="67.4" width="48.6" height="48.1" fill="none" stroke="#686868" stroke-width="0.9"/>
<rect x="254.25" y="115.5" width="49" height="48.75" fill="none" stroke="#686868" stroke-width="0.9"/>
<rect x="303.25" y="115.5" width="49" height="48.75" fill="none" stroke="#686868" stroke-width="0.9"/>
<rect x="352.25" y="115.5" width="48.75" height="48.75" fill="none" stroke="#686868" stroke-width="0.9"/>
<rect x="401" y="115.5" width="48.6" height="48.75" fill="none" stroke="#686868" stroke-width="0.9"/>
<rect x="303.25" y="164.25" width="49" height="48.5" fill="none" stroke="#686868" stroke-width="0.9"/>
<rect x="352.25" y="164.25" width="48.75" height="48.5" fill="none" stroke="#686868" stroke-width="0.9"/>
<rect x="401" y="164.25" width="48.6" height="48.5" fill="none" stroke="#686868" stroke-width="0.9"/>
<rect x="352.25" y="212.75" width="48.75" height="48.5" fill="none" stroke="#686868" stroke-width="0.9"/>
<rect x="401" y="212.75" width="48.6" height="48.5" fill="none" stroke="#686868" stroke-width="0.9"/>
<rect x="401" y="261.25" width="48.6" height="48.35" fill="none" stroke="#686868" stroke-width="0.9"/>
<clipPath id="c1685_1293"><rect x="168.5" y="129.35" width="48.25" height="48.4"/></clipPath>
<g clip-path="url(#c1685_1293)">
<line x1="182.6" y1="129.35" x2="182.6" y2="177.75" stroke="#d0d0d0" stroke-width="0.6" stroke-dasharray="1 1.4"/>
<line x1="198.2" y1="129.35" x2="198.2" y2="177.75" stroke="#d0d0d0" stroke-width="0.6" stroke-dasharray="1 1.4"/>
<line x1="204.7" y1="129.35" x2="204.7" y2="177.75" stroke="#d0d0d0" stroke-width="0.6" stroke-dasharray="1 1.4"/>
<path d="M170.1 145.95 L171.66 145.89 L173.21 145.83 L174.76 145.78 L176.32 145.73 L177.88 145.67 L179.43 145.59 L180.98 145.5 L182.54 145.38 L184.09 145.2 L185.65 144.94 L187.2 144.62 L188.76 144.26 L190.31 143.85 L191.87 143.41 L193.43 142.95 L194.98 142.4 L196.53 141.72 L198.09 140.94 L199.64 140.09 L201.2 139.19 L202.75 138.28 L204.31 137.38 L205.87 136.52 L207.42 135.64 L208.97 134.73 L210.53 133.81 L212.09 132.88 L213.64 131.95 L215.19 131.02 L216.75 130.1 L216.75 172.55 L215.19 172.09 L213.64 171.67 L212.09 171.25 L210.53 170.82 L208.97 170.37 L207.42 169.86 L205.87 169.27 L204.31 168.58 L202.75 167.69 L201.2 166.63 L199.64 165.45 L198.09 164.19 L196.53 162.91 L194.98 161.65 L193.43 160.45 L191.87 159.27 L190.31 158.05 L188.76 156.82 L187.2 155.59 L185.65 154.4 L184.09 153.27 L182.54 152.23 L180.98 151.3 L179.43 150.44 L177.88 149.64 L176.32 148.89 L174.76 148.16 L173.21 147.44 L171.66 146.71 L170.1 145.95 Z" fill="#dbeff7"/>
<path d="M170.1 145.95 L171.66 145.92 L173.21 145.9 L174.76 145.87 L176.32 145.84 L177.88 145.82 L179.43 145.79 L180.98 145.76 L182.54 145.74 L184.09 145.7 L185.65 145.67 L187.2 145.63 L188.76 145.6 L190.31 145.57 L191.87 145.56 L193.43 145.55 L194.98 145.58 L196.53 145.66 L198.09 145.76 L199.64 145.88 L201.2 145.99 L202.75 146.09 L204.31 146.14 L205.87 146.13 L207.42 145.96 L208.97 145.67 L210.53 145.28 L212.09 144.84 L213.64 144.38 L215.19 143.94 L216.75 143.55 L216.75 157.35 L215.19 157.11 L213.64 156.88 L212.09 156.66 L210.53 156.44 L208.97 156.2 L207.42 155.93 L205.87 155.62 L204.31 155.26 L202.75 154.78 L201.2 154.2 L199.64 153.56 L198.09 152.89 L196.53 152.21 L194.98 151.55 L193.43 150.95 L191.87 150.36 L190.31 149.72 L188.76 149.09 L187.2 148.47 L185.65 147.91 L184.09 147.44 L182.54 147.08 L180.98 146.85 L179.43 146.67 L177.88 146.53 L176.32 146.4 L174.76 146.29 L173.21 146.19 L171.66 146.07 L170.1 145.95 Z" fill="#8dbcdb" fill-opacity="0.9"/>
<path d="M170.1 145.95 L171.66 145.99 L173.21 146.02 L174.76 146.05 L176.32 146.08 L177.88 146.11 L179.43 146.16 L180.98 146.22 L182.54 146.31 L184.09 146.53 L185.65 146.86 L187.2 147.27 L188.76 147.72 L190.31 148.18 L191.87 148.6 L193.43 148.95 L194.98 149.27 L196.53 149.61 L198.09 149.95 L199.64 150.27 L201.2 150.55 L202.75 150.77 L204.31 150.91 L205.87 150.97 L207.42 151.01 L208.97 151.04 L210.53 151.07 L212.09 151.09 L213.64 151.11 L215.19 151.13 L216.75 151.15 L216.75 152.95 L215.19 152.9 L213.64 152.86 L212.09 152.82 L210.53 152.78 L208.97 152.73 L207.42 152.67 L205.87 152.59 L204.31 152.49 L202.75 152.29 L201.2 151.99 L199.64 151.63 L198.09 151.22 L196.53 150.79 L194.98 150.36 L193.43 149.95 L191.87 149.51 L190.31 148.98 L188.76 148.43 L187.2 147.87 L185.65 147.36 L184.09 146.94 L182.54 146.64 L180.98 146.49 L179.43 146.38 L177.88 146.29 L176.32 146.21 L174.76 146.15 L173.21 146.09 L171.66 146.02 L170.1 145.95 Z" fill="#2862ae"/>
<path d="M170.1 145.95 L171.66 145.99 L173.21 146.02 L174.76 146.05 L176.32 146.08 L177.88 146.12 L179.43 146.16 L180.98 146.22 L182.54 146.3 L184.09 146.48 L185.65 146.74 L187.2 147.08 L188.76 147.46 L190.31 147.88 L191.87 148.32 L193.43 148.75 L194.98 149.23 L196.53 149.79 L198.09 150.41 L199.64 151.06 L201.2 151.71 L202.75 152.33 L204.31 152.9 L205.87 153.39 L207.42 153.84 L208.97 154.26 L210.53 154.67 L212.09 155.06 L213.64 155.45 L215.19 155.84 L216.75 156.25" fill="none" stroke="#f5945f" stroke-width="1.3"/>
<path d="M170.1 145.95 L171.66 145.95 L173.21 145.95 L174.76 145.95 L176.32 145.95 L177.88 145.95 L179.43 145.95 L180.98 145.95 L182.54 145.96 L184.09 146.02 L185.65 146.12 L187.2 146.27 L188.76 146.44 L190.31 146.64 L191.87 146.84 L193.43 147.05 L194.98 147.29 L196.53 147.6 L198.09 147.94 L199.64 148.32 L201.2 148.7 L202.75 149.06 L204.31 149.4 L205.87 149.69 L207.42 149.96 L208.97 150.22 L210.53 150.47 L212.09 150.71 L213.64 150.96 L215.19 151.2 L216.75 151.45" fill="none" stroke="#f9c96a" stroke-width="1.0" stroke-dasharray="3 1 0.8 1"/>
<path d="M170.1 145.95 L171.66 146.15 L173.21 146.34 L174.76 146.52 L176.32 146.7 L177.88 146.91 L179.43 147.13 L180.98 147.4 L182.54 147.72 L184.09 148.15 L185.65 148.66 L187.2 149.25 L188.76 149.9 L190.31 150.57 L191.87 151.26 L193.43 151.95 L194.98 152.68 L196.53 153.5 L198.09 154.37 L199.64 155.25 L201.2 156.12 L202.75 156.92 L204.31 157.64 L205.87 158.24 L207.42 158.77 L208.97 159.25 L210.53 159.71 L212.09 160.14 L213.64 160.56 L215.19 161 L216.75 161.45" fill="none" stroke="#d7302a" stroke-width="1.2" stroke-dasharray="3.4 1 0.9 1"/>
</g>
<text x="168.7" y="173.95" font-size="7.6" fill="#222" textLength="10" lengthAdjust="spacingAndGlyphs">0, 0</text>
<clipPath id="c1685_1777"><rect x="168.5" y="177.75" width="48.25" height="48.75"/></clipPath>
<g clip-path="url(#c1685_1777)">
<line x1="182.6" y1="177.75" x2="182.6" y2="226.5" stroke="#d0d0d0" stroke-width="0.6" stroke-dasharray="1 1.4"/>
<line x1="198.2" y1="177.75" x2="198.2" y2="226.5" stroke="#d0d0d0" stroke-width="0.6" stroke-dasharray="1 1.4"/>
<line x1="204.7" y1="177.75" x2="204.7" y2="226.5" stroke="#d0d0d0" stroke-width="0.6" stroke-dasharray="1 1.4"/>
<path d="M170.1 194.35 L171.66 194.28 L173.21 194.21 L174.76 194.15 L176.32 194.09 L177.88 194.02 L179.43 193.93 L180.98 193.83 L182.54 193.69 L184.09 193.47 L185.65 193.17 L187.2 192.8 L188.76 192.38 L190.31 191.9 L191.87 191.39 L193.43 190.85 L194.98 190.21 L196.53 189.42 L198.09 188.51 L199.64 187.51 L201.2 186.46 L202.75 185.4 L204.31 184.35 L205.87 183.34 L207.42 182.31 L208.97 181.26 L210.53 180.18 L212.09 179.1 L213.64 178.01 L215.19 176.92 L216.75 175.85 L216.75 221.48 L215.19 221.02 L213.64 220.58 L212.09 220.16 L210.53 219.72 L208.97 219.25 L207.42 218.73 L205.87 218.14 L204.31 217.44 L202.75 216.53 L201.2 215.45 L199.64 214.24 L198.09 212.96 L196.53 211.65 L194.98 210.36 L193.43 209.14 L191.87 207.94 L190.31 206.7 L188.76 205.43 L187.2 204.18 L185.65 202.97 L184.09 201.82 L182.54 200.75 L180.98 199.8 L179.43 198.93 L177.88 198.12 L176.32 197.35 L174.76 196.6 L173.21 195.87 L171.66 195.12 L170.1 194.35 Z" fill="#dbeff7"/>
<path d="M170.1 194.35 L171.66 194.32 L173.21 194.3 L174.76 194.27 L176.32 194.25 L177.88 194.22 L179.43 194.2 L180.98 194.16 L182.54 194.13 L184.09 194.07 L185.65 194 L187.2 193.93 L188.76 193.86 L190.31 193.8 L191.87 193.75 L193.43 193.74 L194.98 193.75 L196.53 193.77 L198.09 193.81 L199.64 193.85 L201.2 193.9 L202.75 193.96 L204.31 194.02 L205.87 194.07 L207.42 194.14 L208.97 194.22 L210.53 194.3 L212.09 194.39 L213.64 194.48 L215.19 194.57 L216.75 194.66 L216.75 208.32 L215.19 207.97 L213.64 207.64 L212.09 207.31 L210.53 206.98 L208.97 206.63 L207.42 206.24 L205.87 205.81 L204.31 205.3 L202.75 204.68 L201.2 203.94 L199.64 203.14 L198.09 202.31 L196.53 201.48 L194.98 200.68 L193.43 199.96 L191.87 199.26 L190.31 198.52 L188.76 197.78 L187.2 197.07 L185.65 196.43 L184.09 195.9 L182.54 195.5 L180.98 195.26 L179.43 195.08 L177.88 194.93 L176.32 194.81 L174.76 194.7 L173.21 194.59 L171.66 194.48 L170.1 194.35 Z" fill="#8dbcdb" fill-opacity="0.9"/>
<path d="M170.1 194.35 L171.66 194.39 L173.21 194.42 L174.76 194.45 L176.32 194.48 L177.88 194.52 L179.43 194.56 L180.98 194.62 L182.54 194.72 L184.09 194.97 L185.65 195.36 L187.2 195.85 L188.76 196.38 L190.31 196.92 L191.87 197.41 L193.43 197.82 L194.98 198.16 L196.53 198.49 L198.09 198.8 L199.64 199.11 L201.2 199.39 L202.75 199.67 L204.31 199.93 L205.87 200.19 L207.42 200.42 L208.97 200.64 L210.53 200.86 L212.09 201.07 L213.64 201.27 L215.19 201.48 L216.75 201.69 L216.75 203.63 L215.19 203.39 L213.64 203.16 L212.09 202.94 L210.53 202.71 L208.97 202.47 L207.42 202.21 L205.87 201.94 L204.31 201.64 L202.75 201.32 L201.2 200.97 L199.64 200.6 L198.09 200.21 L196.53 199.8 L194.98 199.38 L193.43 198.94 L191.87 198.43 L190.31 197.82 L188.76 197.16 L187.2 196.51 L185.65 195.9 L184.09 195.41 L182.54 195.06 L180.98 194.9 L179.43 194.78 L177.88 194.69 L176.32 194.62 L174.76 194.55 L173.21 194.49 L171.66 194.42 L170.1 194.35 Z" fill="#2862ae"/>
<path d="M170.1 194.35 L171.66 194.39 L173.21 194.42 L174.76 194.45 L176.32 194.48 L177.88 194.52 L179.43 194.56 L180.98 194.62 L182.54 194.71 L184.09 194.89 L185.65 195.16 L187.2 195.5 L188.76 195.89 L190.31 196.32 L191.87 196.76 L193.43 197.21 L194.98 197.69 L196.53 198.27 L198.09 198.9 L199.64 199.56 L201.2 200.22 L202.75 200.86 L204.31 201.43 L205.87 201.94 L207.42 202.4 L208.97 202.83 L210.53 203.24 L212.09 203.64 L213.64 204.04 L215.19 204.44 L216.75 204.86" fill="none" stroke="#f5945f" stroke-width="1.3"/>
<path d="M170.1 194.35 L171.66 194.35 L173.21 194.35 L174.76 194.35 L176.32 194.35 L177.88 194.35 L179.43 194.35 L180.98 194.35 L182.54 194.36 L184.09 194.42 L185.65 194.53 L187.2 194.67 L188.76 194.85 L190.31 195.05 L191.87 195.26 L193.43 195.47 L194.98 195.72 L196.53 196.03 L198.09 196.38 L199.64 196.76 L201.2 197.15 L202.75 197.52 L204.31 197.87 L205.87 198.17 L207.42 198.44 L208.97 198.71 L210.53 198.96 L212.09 199.21 L213.64 199.46 L215.19 199.71 L216.75 199.96" fill="none" stroke="#f9c96a" stroke-width="1.0" stroke-dasharray="3 1 0.8 1"/>
<path d="M170.1 194.35 L171.66 194.56 L173.21 194.75 L174.76 194.93 L176.32 195.12 L177.88 195.33 L179.43 195.56 L180.98 195.83 L182.54 196.16 L184.09 196.59 L185.65 197.12 L187.2 197.72 L188.76 198.37 L190.31 199.06 L191.87 199.77 L193.43 200.47 L194.98 201.22 L196.53 202.05 L198.09 202.94 L199.64 203.84 L201.2 204.72 L202.75 205.54 L204.31 206.27 L205.87 206.88 L207.42 207.42 L208.97 207.92 L210.53 208.38 L212.09 208.82 L213.64 209.26 L215.19 209.7 L216.75 210.16" fill="none" stroke="#d7302a" stroke-width="1.2" stroke-dasharray="3.4 1 0.9 1"/>
</g>
<text x="168.7" y="222.7" font-size="7.6" fill="#222" textLength="10" lengthAdjust="spacingAndGlyphs">0, 1</text>
<clipPath id="c2167_1777"><rect x="216.75" y="177.75" width="48.5" height="48.75"/></clipPath>
<g clip-path="url(#c2167_1777)">
<line x1="234.1" y1="177.75" x2="234.1" y2="226.5" stroke="#d0d0d0" stroke-width="0.6" stroke-dasharray="1 1.4"/>
<line x1="250.05" y1="177.75" x2="250.05" y2="226.5" stroke="#d0d0d0" stroke-width="0.6" stroke-dasharray="1 1.4"/>
<line x1="256.75" y1="177.75" x2="256.75" y2="226.5" stroke="#d0d0d0" stroke-width="0.6" stroke-dasharray="1 1.4"/>
<path d="M218.35 194.35 L219.91 194.32 L221.48 194.3 L223.04 194.27 L224.6 194.24 L226.17 194.21 L227.73 194.18 L229.29 194.13 L230.86 194.08 L232.42 194.01 L233.98 193.9 L235.55 193.75 L237.11 193.57 L238.67 193.35 L240.24 193.1 L241.8 192.83 L243.36 192.54 L244.93 192.2 L246.49 191.77 L248.05 191.27 L249.62 190.73 L251.18 190.16 L252.74 189.57 L254.31 189.01 L255.87 188.45 L257.43 187.87 L259 187.28 L260.56 186.68 L262.12 186.07 L263.69 185.46 L265.25 184.85 L265.25 220.94 L263.69 220.44 L262.12 219.98 L260.56 219.52 L259 219.05 L257.43 218.53 L255.87 217.95 L254.31 217.27 L252.74 216.4 L251.18 215.32 L249.62 214.09 L248.05 212.78 L246.49 211.44 L244.93 210.12 L243.36 208.87 L241.8 207.66 L240.24 206.42 L238.67 205.16 L237.11 203.93 L235.55 202.74 L233.98 201.62 L232.42 200.61 L230.86 199.7 L229.29 198.88 L227.73 198.13 L226.17 197.42 L224.6 196.75 L223.04 196.11 L221.48 195.49 L219.91 194.89 L218.35 194.35 Z" fill="#dbeff7"/>
<path d="M218.35 194.35 L219.91 194.33 L221.48 194.31 L223.04 194.29 L224.6 194.27 L226.17 194.25 L227.73 194.22 L229.29 194.19 L230.86 194.16 L232.42 194.13 L233.98 194.07 L235.55 194 L237.11 193.93 L238.67 193.86 L240.24 193.8 L241.8 193.75 L243.36 193.74 L244.93 193.75 L246.49 193.77 L248.05 193.81 L249.62 193.86 L251.18 193.92 L252.74 193.98 L254.31 194.04 L255.87 194.1 L257.43 194.18 L259 194.27 L260.56 194.37 L262.12 194.46 L263.69 194.56 L265.25 194.66 L265.25 208.32 L263.69 207.94 L262.12 207.58 L260.56 207.22 L259 206.85 L257.43 206.46 L255.87 206.02 L254.31 205.52 L252.74 204.89 L251.18 204.14 L249.62 203.31 L248.05 202.43 L246.49 201.56 L244.93 200.73 L243.36 199.98 L241.8 199.25 L240.24 198.5 L238.67 197.75 L237.11 197.04 L235.55 196.4 L233.98 195.88 L232.42 195.5 L230.86 195.27 L229.29 195.09 L227.73 194.95 L226.17 194.83 L224.6 194.73 L223.04 194.63 L221.48 194.54 L219.91 194.44 L218.35 194.35 Z" fill="#8dbcdb" fill-opacity="0.9"/>
<path d="M218.35 194.35 L219.91 194.38 L221.48 194.4 L223.04 194.43 L224.6 194.46 L226.17 194.49 L227.73 194.52 L229.29 194.57 L230.86 194.62 L232.42 194.71 L233.98 194.96 L235.55 195.34 L237.11 195.82 L238.67 196.36 L240.24 196.9 L241.8 197.41 L243.36 197.83 L244.93 198.18 L246.49 198.52 L248.05 198.85 L249.62 199.17 L251.18 199.47 L252.74 199.76 L254.31 200.04 L255.87 200.3 L257.43 200.54 L259 200.78 L260.56 201.01 L262.12 201.23 L263.69 201.46 L265.25 201.69 L265.25 203.63 L263.69 203.37 L262.12 203.12 L260.56 202.87 L259 202.62 L257.43 202.36 L255.87 202.07 L254.31 201.77 L252.74 201.43 L251.18 201.07 L249.62 200.68 L248.05 200.27 L246.49 199.84 L244.93 199.4 L243.36 198.95 L241.8 198.43 L240.24 197.8 L238.67 197.13 L237.11 196.47 L235.55 195.88 L233.98 195.39 L232.42 195.06 L230.86 194.9 L229.29 194.79 L227.73 194.7 L226.17 194.63 L224.6 194.57 L223.04 194.51 L221.48 194.46 L219.91 194.4 L218.35 194.35 Z" fill="#2862ae"/>
<path d="M218.35 194.35 L219.91 194.38 L221.48 194.4 L223.04 194.43 L224.6 194.45 L226.17 194.48 L227.73 194.51 L229.29 194.56 L230.86 194.61 L232.42 194.69 L233.98 194.85 L235.55 195.1 L237.11 195.42 L238.67 195.8 L240.24 196.21 L241.8 196.64 L243.36 197.07 L244.93 197.56 L246.49 198.13 L248.05 198.76 L249.62 199.43 L251.18 200.09 L252.74 200.72 L254.31 201.28 L255.87 201.77 L257.43 202.22 L259 202.65 L260.56 203.07 L262.12 203.48 L263.69 203.9 L265.25 204.33" fill="none" stroke="#f5945f" stroke-width="1.3"/>
<path d="M218.35 194.35 L219.91 194.35 L221.48 194.35 L223.04 194.35 L224.6 194.35 L226.17 194.35 L227.73 194.35 L229.29 194.35 L230.86 194.35 L232.42 194.36 L233.98 194.41 L235.55 194.51 L237.11 194.65 L238.67 194.82 L240.24 195.01 L241.8 195.21 L243.36 195.42 L244.93 195.67 L246.49 195.98 L248.05 196.33 L249.62 196.72 L251.18 197.11 L252.74 197.48 L254.31 197.81 L255.87 198.1 L257.43 198.38 L259 198.64 L260.56 198.9 L262.12 199.16 L263.69 199.41 L265.25 199.68" fill="none" stroke="#f9c96a" stroke-width="1.0" stroke-dasharray="3 1 0.8 1"/>
<path d="M218.35 194.35 L219.91 194.49 L221.48 194.64 L223.04 194.79 L224.6 194.95 L226.17 195.11 L227.73 195.3 L229.29 195.51 L230.86 195.76 L232.42 196.06 L233.98 196.46 L235.55 196.95 L237.11 197.52 L238.67 198.15 L240.24 198.81 L241.8 199.5 L243.36 200.18 L244.93 200.92 L246.49 201.75 L248.05 202.64 L249.62 203.54 L251.18 204.41 L252.74 205.22 L254.31 205.92 L255.87 206.5 L257.43 207.03 L259 207.52 L260.56 207.98 L262.12 208.43 L263.69 208.89 L265.25 209.37" fill="none" stroke="#d7302a" stroke-width="1.2" stroke-dasharray="3.4 1 0.9 1"/>
</g>
<text x="216.95" y="222.7" font-size="7.6" fill="#222" textLength="10" lengthAdjust="spacingAndGlyphs">1, 1</text>
<clipPath id="c1685_2265"><rect x="168.5" y="226.5" width="48.25" height="48.5"/></clipPath>
<g clip-path="url(#c1685_2265)">
<line x1="182.6" y1="226.5" x2="182.6" y2="275" stroke="#d0d0d0" stroke-width="0.6" stroke-dasharray="1 1.4"/>
<line x1="198.2" y1="226.5" x2="198.2" y2="275" stroke="#d0d0d0" stroke-width="0.6" stroke-dasharray="1 1.4"/>
<line x1="204.7" y1="226.5" x2="204.7" y2="275" stroke="#d0d0d0" stroke-width="0.6" stroke-dasharray="1 1.4"/>
<path d="M170.1 243.1 L171.66 243.04 L173.21 242.99 L174.76 242.94 L176.32 242.89 L177.88 242.84 L179.43 242.77 L180.98 242.69 L182.54 242.59 L184.09 242.43 L185.65 242.19 L187.2 241.9 L188.76 241.56 L190.31 241.17 L191.87 240.74 L193.43 240.29 L194.98 239.79 L196.53 239.15 L198.09 238.39 L199.64 237.55 L201.2 236.66 L202.75 235.75 L204.31 234.85 L205.87 233.97 L207.42 233.09 L208.97 232.18 L210.53 231.26 L212.09 230.32 L213.64 229.37 L215.19 228.43 L216.75 227.5 L216.75 269.7 L215.19 269.23 L213.64 268.79 L212.09 268.36 L210.53 267.92 L208.97 267.45 L207.42 266.92 L205.87 266.31 L204.31 265.57 L202.75 264.62 L201.2 263.51 L199.64 262.28 L198.09 260.99 L196.53 259.69 L194.98 258.43 L193.43 257.24 L191.87 256.04 L190.31 254.81 L188.76 253.57 L187.2 252.35 L185.65 251.18 L184.09 250.08 L182.54 249.08 L180.98 248.18 L179.43 247.36 L177.88 246.59 L176.32 245.87 L174.76 245.16 L173.21 244.47 L171.66 243.78 L170.1 243.1 Z" fill="#dbeff7"/>
<path d="M170.1 243.1 L171.66 243.08 L173.21 243.05 L174.76 243.03 L176.32 243.01 L177.88 242.98 L179.43 242.96 L180.98 242.93 L182.54 242.89 L184.09 242.84 L185.65 242.78 L187.2 242.71 L188.76 242.64 L190.31 242.57 L191.87 242.53 L193.43 242.5 L194.98 242.5 L196.53 242.52 L198.09 242.56 L199.64 242.6 L201.2 242.65 L202.75 242.71 L204.31 242.76 L205.87 242.82 L207.42 242.88 L208.97 242.96 L210.53 243.04 L212.09 243.13 L213.64 243.22 L215.19 243.31 L216.75 243.4 L216.75 256.8 L215.19 256.44 L213.64 256.11 L212.09 255.78 L210.53 255.45 L208.97 255.09 L207.42 254.69 L205.87 254.25 L204.31 253.72 L202.75 253.07 L201.2 252.32 L199.64 251.51 L198.09 250.68 L196.53 249.86 L194.98 249.09 L193.43 248.39 L191.87 247.68 L190.31 246.95 L188.76 246.23 L187.2 245.55 L185.65 244.96 L184.09 244.48 L182.54 244.14 L180.98 243.94 L179.43 243.77 L177.88 243.64 L176.32 243.52 L174.76 243.42 L173.21 243.32 L171.66 243.21 L170.1 243.1 Z" fill="#8dbcdb" fill-opacity="0.9"/>
<path d="M170.1 243.1 L171.66 243.13 L173.21 243.16 L174.76 243.19 L176.32 243.22 L177.88 243.25 L179.43 243.29 L180.98 243.35 L182.54 243.42 L184.09 243.61 L185.65 243.96 L187.2 244.41 L188.76 244.92 L190.31 245.45 L191.87 245.95 L193.43 246.39 L194.98 246.74 L196.53 247.07 L198.09 247.38 L199.64 247.69 L201.2 247.98 L202.75 248.26 L204.31 248.52 L205.87 248.78 L207.42 249.02 L208.97 249.24 L210.53 249.46 L212.09 249.67 L213.64 249.87 L215.19 250.08 L216.75 250.3 L216.75 252.2 L215.19 251.96 L213.64 251.73 L212.09 251.5 L210.53 251.27 L208.97 251.03 L207.42 250.77 L205.87 250.49 L204.31 250.19 L202.75 249.86 L201.2 249.5 L199.64 249.13 L198.09 248.74 L196.53 248.33 L194.98 247.9 L193.43 247.46 L191.87 246.92 L190.31 246.3 L188.76 245.65 L187.2 245.01 L185.65 244.45 L184.09 244.01 L182.54 243.73 L180.98 243.6 L179.43 243.5 L177.88 243.41 L176.32 243.35 L174.76 243.29 L173.21 243.23 L171.66 243.17 L170.1 243.1 Z" fill="#2862ae"/>
<path d="M170.1 243.1 L171.66 243.13 L173.21 243.16 L174.76 243.19 L176.32 243.22 L177.88 243.25 L179.43 243.3 L180.98 243.35 L182.54 243.42 L184.09 243.56 L185.65 243.8 L187.2 244.11 L188.76 244.48 L190.31 244.89 L191.87 245.33 L193.43 245.77 L194.98 246.22 L196.53 246.77 L198.09 247.39 L199.64 248.04 L201.2 248.7 L202.75 249.34 L204.31 249.94 L205.87 250.45 L207.42 250.92 L208.97 251.36 L210.53 251.77 L212.09 252.18 L213.64 252.58 L215.19 252.98 L216.75 253.4" fill="none" stroke="#f5945f" stroke-width="1.3"/>
<path d="M170.1 243.1 L171.66 243.1 L173.21 243.1 L174.76 243.1 L176.32 243.1 L177.88 243.1 L179.43 243.1 L180.98 243.1 L182.54 243.1 L184.09 243.14 L185.65 243.23 L187.2 243.37 L188.76 243.53 L190.31 243.72 L191.87 243.93 L193.43 244.14 L194.98 244.36 L196.53 244.65 L198.09 244.99 L199.64 245.37 L201.2 245.75 L202.75 246.13 L204.31 246.48 L205.87 246.79 L207.42 247.07 L208.97 247.34 L210.53 247.59 L212.09 247.84 L213.64 248.09 L215.19 248.34 L216.75 248.6" fill="none" stroke="#f9c96a" stroke-width="1.0" stroke-dasharray="3 1 0.8 1"/>
<path d="M170.1 243.1 L171.66 243.28 L173.21 243.46 L174.76 243.63 L176.32 243.81 L177.88 244 L179.43 244.22 L180.98 244.47 L182.54 244.76 L184.09 245.15 L185.65 245.64 L187.2 246.2 L188.76 246.83 L190.31 247.5 L191.87 248.19 L193.43 248.89 L194.98 249.6 L196.53 250.41 L198.09 251.28 L199.64 252.17 L201.2 253.06 L202.75 253.9 L204.31 254.65 L205.87 255.28 L207.42 255.84 L208.97 256.34 L210.53 256.81 L212.09 257.25 L213.64 257.69 L215.19 258.13 L216.75 258.6" fill="none" stroke="#d7302a" stroke-width="1.2" stroke-dasharray="3.4 1 0.9 1"/>
</g>
<text x="168.7" y="271.2" font-size="7.6" fill="#222" textLength="10" lengthAdjust="spacingAndGlyphs">0, 2</text>
<clipPath id="c2167_2265"><rect x="216.75" y="226.5" width="48.5" height="48.5"/></clipPath>
<g clip-path="url(#c2167_2265)">
<line x1="234.1" y1="226.5" x2="234.1" y2="275" stroke="#d0d0d0" stroke-width="0.6" stroke-dasharray="1 1.4"/>
<line x1="250.05" y1="226.5" x2="250.05" y2="275" stroke="#d0d0d0" stroke-width="0.6" stroke-dasharray="1 1.4"/>
<line x1="256.75" y1="226.5" x2="256.75" y2="275" stroke="#d0d0d0" stroke-width="0.6" stroke-dasharray="1 1.4"/>
<path d="M218.35 243.1 L219.91 243.07 L221.48 243.05 L223.04 243.02 L224.6 242.99 L226.17 242.97 L227.73 242.93 L229.29 242.89 L230.86 242.84 L232.42 242.78 L233.98 242.68 L235.55 242.54 L237.11 242.36 L238.67 242.14 L240.24 241.9 L241.8 241.63 L243.36 241.35 L244.93 241.02 L246.49 240.6 L248.05 240.11 L249.62 239.56 L251.18 238.98 L252.74 238.4 L254.31 237.82 L255.87 237.26 L257.43 236.67 L259 236.07 L260.56 235.46 L262.12 234.84 L263.69 234.22 L265.25 233.6 L265.25 269.17 L263.69 268.67 L262.12 268.21 L260.56 267.75 L259 267.28 L257.43 266.77 L255.87 266.18 L254.31 265.49 L252.74 264.59 L251.18 263.5 L249.62 262.27 L248.05 260.96 L246.49 259.63 L244.93 258.34 L243.36 257.13 L241.8 255.92 L240.24 254.69 L238.67 253.46 L237.11 252.25 L235.55 251.1 L233.98 250.03 L232.42 249.05 L230.86 248.19 L229.29 247.4 L227.73 246.68 L226.17 246 L224.6 245.36 L223.04 244.75 L221.48 244.16 L219.91 243.6 L218.35 243.1 Z" fill="#dbeff7"/>
<path d="M218.35 243.1 L219.91 243.08 L221.48 243.06 L223.04 243.04 L224.6 243.02 L226.17 243 L227.73 242.98 L229.29 242.95 L230.86 242.92 L232.42 242.89 L233.98 242.84 L235.55 242.77 L237.11 242.7 L238.67 242.63 L240.24 242.57 L241.8 242.52 L243.36 242.5 L244.93 242.51 L246.49 242.53 L248.05 242.57 L249.62 242.61 L251.18 242.67 L252.74 242.73 L254.31 242.79 L255.87 242.85 L257.43 242.93 L259 243.02 L260.56 243.11 L262.12 243.21 L263.69 243.31 L265.25 243.4 L265.25 256.8 L263.69 256.42 L262.12 256.05 L260.56 255.7 L259 255.33 L257.43 254.94 L255.87 254.49 L254.31 253.99 L252.74 253.35 L251.18 252.59 L249.62 251.76 L248.05 250.89 L246.49 250.03 L244.93 249.22 L243.36 248.49 L241.8 247.77 L240.24 247.02 L238.67 246.29 L237.11 245.6 L235.55 245 L233.98 244.51 L232.42 244.17 L230.86 243.96 L229.29 243.8 L227.73 243.67 L226.17 243.55 L224.6 243.45 L223.04 243.36 L221.48 243.27 L219.91 243.18 L218.35 243.1 Z" fill="#8dbcdb" fill-opacity="0.9"/>
<path d="M218.35 243.1 L219.91 243.12 L221.48 243.15 L223.04 243.18 L224.6 243.2 L226.17 243.23 L227.73 243.26 L229.29 243.3 L230.86 243.35 L232.42 243.43 L233.98 243.64 L235.55 243.99 L237.11 244.44 L238.67 244.96 L240.24 245.5 L241.8 246.01 L243.36 246.44 L244.93 246.8 L246.49 247.14 L248.05 247.46 L249.62 247.78 L251.18 248.08 L252.74 248.37 L254.31 248.64 L255.87 248.91 L257.43 249.15 L259 249.39 L260.56 249.62 L262.12 249.84 L263.69 250.07 L265.25 250.3 L265.25 252.2 L263.69 251.94 L262.12 251.69 L260.56 251.44 L259 251.19 L257.43 250.93 L255.87 250.64 L254.31 250.33 L252.74 250 L251.18 249.63 L249.62 249.25 L248.05 248.84 L246.49 248.42 L244.93 247.98 L243.36 247.53 L241.8 246.99 L240.24 246.36 L238.67 245.7 L237.11 245.06 L235.55 244.49 L233.98 244.04 L232.42 243.75 L230.86 243.61 L229.29 243.51 L227.73 243.43 L226.17 243.36 L224.6 243.31 L223.04 243.25 L221.48 243.2 L219.91 243.15 L218.35 243.1 Z" fill="#2862ae"/>
<path d="M218.35 243.1 L219.91 243.12 L221.48 243.15 L223.04 243.17 L224.6 243.2 L226.17 243.22 L227.73 243.25 L229.29 243.29 L230.86 243.34 L232.42 243.41 L233.98 243.55 L235.55 243.78 L237.11 244.09 L238.67 244.44 L240.24 244.84 L241.8 245.27 L243.36 245.69 L244.93 246.15 L246.49 246.71 L248.05 247.33 L249.62 247.98 L251.18 248.64 L252.74 249.27 L254.31 249.84 L255.87 250.33 L257.43 250.78 L259 251.21 L260.56 251.63 L262.12 252.04 L263.69 252.46 L265.25 252.88" fill="none" stroke="#f5945f" stroke-width="1.3"/>
<path d="M218.35 243.1 L219.91 243.1 L221.48 243.1 L223.04 243.1 L224.6 243.1 L226.17 243.1 L227.73 243.1 L229.29 243.1 L230.86 243.1 L232.42 243.1 L233.98 243.14 L235.55 243.23 L237.11 243.36 L238.67 243.53 L240.24 243.71 L241.8 243.91 L243.36 244.11 L244.93 244.34 L246.49 244.64 L248.05 244.99 L249.62 245.37 L251.18 245.75 L252.74 246.12 L254.31 246.46 L255.87 246.75 L257.43 247.03 L259 247.29 L260.56 247.55 L262.12 247.8 L263.69 248.06 L265.25 248.32" fill="none" stroke="#f9c96a" stroke-width="1.0" stroke-dasharray="3 1 0.8 1"/>
<path d="M218.35 243.1 L219.91 243.23 L221.48 243.37 L223.04 243.52 L224.6 243.66 L226.17 243.82 L227.73 244 L229.29 244.2 L230.86 244.43 L232.42 244.71 L233.98 245.08 L235.55 245.55 L237.11 246.09 L238.67 246.7 L240.24 247.35 L241.8 248.02 L243.36 248.7 L244.93 249.41 L246.49 250.22 L248.05 251.09 L249.62 251.98 L251.18 252.85 L252.74 253.67 L254.31 254.37 L255.87 254.96 L257.43 255.49 L259 255.98 L260.56 256.44 L262.12 256.89 L263.69 257.35 L265.25 257.82" fill="none" stroke="#d7302a" stroke-width="1.2" stroke-dasharray="3.4 1 0.9 1"/>
</g>
<text x="216.95" y="271.2" font-size="7.6" fill="#222" textLength="10" lengthAdjust="spacingAndGlyphs">1, 2</text>
<clipPath id="c2652_2265"><rect x="265.25" y="226.5" width="49" height="48.5"/></clipPath>
<g clip-path="url(#c2652_2265)">
<line x1="284.23" y1="226.5" x2="284.23" y2="275" stroke="#d0d0d0" stroke-width="0.6" stroke-dasharray="1 1.4"/>
<line x1="300.35" y1="226.5" x2="300.35" y2="275" stroke="#d0d0d0" stroke-width="0.6" stroke-dasharray="1 1.4"/>
<line x1="307.15" y1="226.5" x2="307.15" y2="275" stroke="#d0d0d0" stroke-width="0.6" stroke-dasharray="1 1.4"/>
<path d="M266.85 243.1 L268.43 243.09 L270.01 243.07 L271.59 243.06 L273.17 243.04 L274.75 243.02 L276.33 243 L277.91 242.98 L279.49 242.95 L281.07 242.92 L282.65 242.87 L284.23 242.81 L285.81 242.71 L287.39 242.58 L288.97 242.42 L290.55 242.24 L292.13 242.04 L293.71 241.83 L295.29 241.58 L296.87 241.25 L298.45 240.86 L300.03 240.43 L301.61 239.97 L303.19 239.5 L304.77 239.05 L306.35 238.59 L307.93 238.11 L309.51 237.62 L311.09 237.11 L312.67 236.61 L314.25 236.1 L314.25 268.9 L312.67 268.35 L311.09 267.85 L309.51 267.35 L307.93 266.82 L306.35 266.23 L304.77 265.54 L303.19 264.67 L301.61 263.55 L300.03 262.26 L298.45 260.89 L296.87 259.49 L295.29 258.14 L293.71 256.88 L292.13 255.64 L290.55 254.38 L288.97 253.13 L287.39 251.92 L285.81 250.79 L284.23 249.74 L282.65 248.82 L281.07 248 L279.49 247.26 L277.91 246.58 L276.33 245.96 L274.75 245.38 L273.17 244.83 L271.59 244.32 L270.01 243.84 L268.43 243.42 L266.85 243.1 Z" fill="#dbeff7"/>
<path d="M266.85 243.1 L268.43 243.09 L270.01 243.07 L271.59 243.06 L273.17 243.04 L274.75 243.02 L276.33 243 L277.91 242.98 L279.49 242.96 L281.07 242.93 L282.65 242.9 L284.23 242.85 L285.81 242.79 L287.39 242.72 L288.97 242.64 L290.55 242.58 L292.13 242.53 L293.71 242.5 L295.29 242.51 L296.87 242.53 L298.45 242.57 L300.03 242.62 L301.61 242.68 L303.19 242.75 L304.77 242.81 L306.35 242.89 L307.93 242.98 L309.51 243.08 L311.09 243.19 L312.67 243.3 L314.25 243.4 L314.25 256.8 L312.67 256.37 L311.09 255.98 L309.51 255.58 L307.93 255.17 L306.35 254.71 L304.77 254.19 L303.19 253.56 L301.61 252.77 L300.03 251.89 L298.45 250.96 L296.87 250.05 L295.29 249.19 L293.71 248.43 L292.13 247.68 L290.55 246.9 L288.97 246.16 L287.39 245.47 L285.81 244.89 L284.23 244.43 L282.65 244.12 L281.07 243.93 L279.49 243.78 L277.91 243.65 L276.33 243.55 L274.75 243.46 L273.17 243.38 L271.59 243.3 L270.01 243.23 L268.43 243.16 L266.85 243.1 Z" fill="#8dbcdb" fill-opacity="0.9"/>
<path d="M266.85 243.1 L268.43 243.12 L270.01 243.14 L271.59 243.16 L273.17 243.18 L274.75 243.2 L276.33 243.23 L277.91 243.26 L279.49 243.3 L281.07 243.34 L282.65 243.41 L284.23 243.58 L285.81 243.9 L287.39 244.35 L288.97 244.86 L290.55 245.42 L292.13 245.95 L293.71 246.41 L295.29 246.78 L296.87 247.14 L298.45 247.49 L300.03 247.82 L301.61 248.14 L303.19 248.45 L304.77 248.75 L306.35 249.03 L307.93 249.29 L309.51 249.54 L311.09 249.79 L312.67 250.04 L314.25 250.3 L314.25 252.2 L312.67 251.91 L311.09 251.63 L309.51 251.36 L307.93 251.08 L306.35 250.78 L304.77 250.46 L303.19 250.1 L301.61 249.72 L300.03 249.3 L298.45 248.87 L296.87 248.42 L295.29 247.96 L293.71 247.49 L292.13 246.91 L290.55 246.26 L288.97 245.58 L287.39 244.94 L285.81 244.38 L284.23 243.96 L282.65 243.71 L281.07 243.59 L279.49 243.5 L277.91 243.42 L276.33 243.36 L274.75 243.31 L273.17 243.26 L271.59 243.22 L270.01 243.17 L268.43 243.13 L266.85 243.1 Z" fill="#2862ae"/>
<path d="M266.85 243.1 L268.43 243.11 L270.01 243.13 L271.59 243.15 L273.17 243.17 L274.75 243.19 L276.33 243.22 L277.91 243.24 L279.49 243.28 L281.07 243.32 L282.65 243.38 L284.23 243.49 L285.81 243.69 L287.39 243.97 L288.97 244.31 L290.55 244.69 L292.13 245.1 L293.71 245.52 L295.29 245.98 L296.87 246.53 L298.45 247.15 L300.03 247.82 L301.61 248.49 L303.19 249.12 L304.77 249.67 L306.35 250.16 L307.93 250.61 L309.51 251.05 L311.09 251.48 L312.67 251.92 L314.25 252.37" fill="none" stroke="#f5945f" stroke-width="1.3"/>
<path d="M266.85 243.1 L268.43 243.1 L270.01 243.1 L271.59 243.1 L273.17 243.1 L274.75 243.1 L276.33 243.1 L277.91 243.1 L279.49 243.1 L281.07 243.1 L282.65 243.1 L284.23 243.13 L285.81 243.21 L287.39 243.32 L288.97 243.47 L290.55 243.65 L292.13 243.84 L293.71 244.04 L295.29 244.27 L296.87 244.57 L298.45 244.92 L300.03 245.3 L301.61 245.69 L303.19 246.06 L304.77 246.39 L306.35 246.68 L307.93 246.96 L309.51 247.23 L311.09 247.5 L312.67 247.77 L314.25 248.05" fill="none" stroke="#f9c96a" stroke-width="1.0" stroke-dasharray="3 1 0.8 1"/>
<path d="M266.85 243.1 L268.43 243.18 L270.01 243.28 L271.59 243.4 L273.17 243.52 L274.75 243.64 L276.33 243.78 L277.91 243.93 L279.49 244.11 L281.07 244.32 L282.65 244.57 L284.23 244.9 L285.81 245.32 L287.39 245.82 L288.97 246.4 L290.55 247.02 L292.13 247.68 L293.71 248.35 L295.29 249.05 L296.87 249.86 L298.45 250.73 L300.03 251.64 L301.61 252.52 L303.19 253.32 L304.77 254 L306.35 254.58 L307.93 255.11 L309.51 255.6 L311.09 256.07 L312.67 256.55 L314.25 257.05" fill="none" stroke="#d7302a" stroke-width="1.2" stroke-dasharray="3.4 1 0.9 1"/>
</g>
<text x="265.45" y="271.2" font-size="7.6" fill="#222" textLength="10" lengthAdjust="spacingAndGlyphs">2, 2</text>
<clipPath id="c1685_2750"><rect x="168.5" y="275" width="48.25" height="48.5"/></clipPath>
<g clip-path="url(#c1685_2750)">
<line x1="182.6" y1="275" x2="182.6" y2="323.5" stroke="#d0d0d0" stroke-width="0.6" stroke-dasharray="1 1.4"/>
<line x1="198.2" y1="275" x2="198.2" y2="323.5" stroke="#d0d0d0" stroke-width="0.6" stroke-dasharray="1 1.4"/>
<line x1="204.7" y1="275" x2="204.7" y2="323.5" stroke="#d0d0d0" stroke-width="0.6" stroke-dasharray="1 1.4"/>
<path d="M170.1 291.6 L171.66 291.55 L173.21 291.51 L174.76 291.46 L176.32 291.42 L177.88 291.37 L179.43 291.31 L180.98 291.24 L182.54 291.15 L184.09 291.02 L185.65 290.83 L187.2 290.57 L188.76 290.26 L190.31 289.9 L191.87 289.5 L193.43 289.07 L194.98 288.62 L196.53 288.04 L198.09 287.34 L199.64 286.54 L201.2 285.68 L202.75 284.79 L204.31 283.89 L205.87 283.02 L207.42 282.15 L208.97 281.26 L210.53 280.34 L212.09 279.41 L213.64 278.47 L215.19 277.53 L216.75 276.6 L216.75 316.87 L215.19 316.41 L213.64 315.98 L212.09 315.56 L210.53 315.12 L208.97 314.65 L207.42 314.11 L205.87 313.5 L204.31 312.73 L202.75 311.75 L201.2 310.63 L199.64 309.42 L198.09 308.16 L196.53 306.91 L194.98 305.72 L193.43 304.59 L191.87 303.42 L190.31 302.23 L188.76 301.05 L187.2 299.91 L185.65 298.83 L184.09 297.83 L182.54 296.93 L180.98 296.12 L179.43 295.38 L177.88 294.68 L176.32 294.03 L174.76 293.39 L173.21 292.77 L171.66 292.17 L170.1 291.6 Z" fill="#dbeff7"/>
<path d="M170.1 291.6 L171.66 291.58 L173.21 291.56 L174.76 291.54 L176.32 291.52 L177.88 291.5 L179.43 291.47 L180.98 291.44 L182.54 291.41 L184.09 291.37 L185.65 291.32 L187.2 291.25 L188.76 291.18 L190.31 291.11 L191.87 291.06 L193.43 291.03 L194.98 291.02 L196.53 291.03 L198.09 291.06 L199.64 291.1 L201.2 291.15 L202.75 291.2 L204.31 291.26 L205.87 291.31 L207.42 291.38 L208.97 291.45 L210.53 291.53 L212.09 291.62 L213.64 291.71 L215.19 291.8 L216.75 291.89 L216.75 304.89 L215.19 304.53 L213.64 304.2 L212.09 303.87 L210.53 303.53 L208.97 303.16 L207.42 302.76 L205.87 302.31 L204.31 301.75 L202.75 301.07 L201.2 300.3 L199.64 299.49 L198.09 298.66 L196.53 297.87 L194.98 297.14 L193.43 296.47 L191.87 295.76 L190.31 295.04 L188.76 294.35 L187.2 293.73 L185.65 293.19 L184.09 292.79 L182.54 292.53 L180.98 292.35 L179.43 292.2 L177.88 292.08 L176.32 291.98 L174.76 291.88 L173.21 291.79 L171.66 291.7 L170.1 291.6 Z" fill="#8dbcdb" fill-opacity="0.9"/>
<path d="M170.1 291.6 L171.66 291.63 L173.21 291.66 L174.76 291.68 L176.32 291.71 L177.88 291.74 L179.43 291.77 L180.98 291.82 L182.54 291.88 L184.09 292 L185.65 292.28 L187.2 292.67 L188.76 293.15 L190.31 293.67 L191.87 294.17 L193.43 294.63 L194.98 295 L196.53 295.33 L198.09 295.65 L199.64 295.95 L201.2 296.25 L202.75 296.53 L204.31 296.79 L205.87 297.05 L207.42 297.29 L208.97 297.52 L210.53 297.74 L212.09 297.95 L213.64 298.16 L215.19 298.37 L216.75 298.58 L216.75 300.43 L215.19 300.18 L213.64 299.95 L212.09 299.72 L210.53 299.49 L208.97 299.24 L207.42 298.98 L205.87 298.7 L204.31 298.39 L202.75 298.06 L201.2 297.7 L199.64 297.32 L198.09 296.93 L196.53 296.52 L194.98 296.1 L193.43 295.63 L191.87 295.07 L190.31 294.44 L188.76 293.81 L187.2 293.22 L185.65 292.71 L184.09 292.35 L182.54 292.15 L180.98 292.04 L179.43 291.95 L177.88 291.88 L176.32 291.82 L174.76 291.77 L173.21 291.71 L171.66 291.66 L170.1 291.6 Z" fill="#2862ae"/>
<path d="M170.1 291.6 L171.66 291.63 L173.21 291.66 L174.76 291.68 L176.32 291.71 L177.88 291.74 L179.43 291.77 L180.98 291.82 L182.54 291.88 L184.09 291.98 L185.65 292.17 L187.2 292.44 L188.76 292.78 L190.31 293.17 L191.87 293.59 L193.43 294.02 L194.98 294.45 L196.53 294.95 L198.09 295.54 L199.64 296.18 L201.2 296.83 L202.75 297.48 L204.31 298.09 L205.87 298.62 L207.42 299.09 L208.97 299.54 L210.53 299.96 L212.09 300.36 L213.64 300.77 L215.19 301.17 L216.75 301.59" fill="none" stroke="#f5945f" stroke-width="1.3"/>
<path d="M170.1 291.6 L171.66 291.6 L173.21 291.6 L174.76 291.6 L176.32 291.6 L177.88 291.6 L179.43 291.6 L180.98 291.6 L182.54 291.6 L184.09 291.62 L185.65 291.69 L187.2 291.8 L188.76 291.95 L190.31 292.13 L191.87 292.32 L193.43 292.53 L194.98 292.73 L196.53 292.99 L198.09 293.32 L199.64 293.68 L201.2 294.06 L202.75 294.44 L204.31 294.8 L205.87 295.11 L207.42 295.4 L208.97 295.67 L210.53 295.92 L212.09 296.18 L213.64 296.42 L215.19 296.68 L216.75 296.94" fill="none" stroke="#f9c96a" stroke-width="1.0" stroke-dasharray="3 1 0.8 1"/>
<path d="M170.1 291.6 L171.66 291.76 L173.21 291.91 L174.76 292.07 L176.32 292.24 L177.88 292.41 L179.43 292.6 L180.98 292.83 L182.54 293.09 L184.09 293.42 L185.65 293.85 L187.2 294.37 L188.76 294.96 L190.31 295.6 L191.87 296.27 L193.43 296.95 L194.98 297.63 L196.53 298.39 L198.09 299.23 L199.64 300.11 L201.2 301 L202.75 301.85 L204.31 302.62 L205.87 303.28 L207.42 303.85 L208.97 304.36 L210.53 304.83 L212.09 305.28 L213.64 305.72 L215.19 306.17 L216.75 306.64" fill="none" stroke="#d7302a" stroke-width="1.2" stroke-dasharray="3.4 1 0.9 1"/>
</g>
<text x="168.7" y="319.7" font-size="7.6" fill="#222" textLength="10" lengthAdjust="spacingAndGlyphs">0, 3</text>
<clipPath id="c2167_2750"><rect x="216.75" y="275" width="48.5" height="48.5"/></clipPath>
<g clip-path="url(#c2167_2750)">
<line x1="234.1" y1="275" x2="234.1" y2="323.5" stroke="#d0d0d0" stroke-width="0.6" stroke-dasharray="1 1.4"/>
<line x1="250.05" y1="275" x2="250.05" y2="323.5" stroke="#d0d0d0" stroke-width="0.6" stroke-dasharray="1 1.4"/>
<line x1="256.75" y1="275" x2="256.75" y2="323.5" stroke="#d0d0d0" stroke-width="0.6" stroke-dasharray="1 1.4"/>
<path d="M218.35 291.6 L219.91 291.58 L221.48 291.56 L223.04 291.53 L224.6 291.51 L226.17 291.48 L227.73 291.45 L229.29 291.42 L230.86 291.38 L232.42 291.33 L233.98 291.26 L235.55 291.15 L237.11 291 L238.67 290.81 L240.24 290.58 L241.8 290.33 L243.36 290.05 L244.93 289.75 L246.49 289.38 L248.05 288.91 L249.62 288.38 L251.18 287.79 L252.74 287.18 L254.31 286.57 L255.87 285.97 L257.43 285.36 L259 284.73 L260.56 284.08 L262.12 283.42 L263.69 282.76 L265.25 282.1 L265.25 316.36 L263.69 315.86 L262.12 315.39 L260.56 314.93 L259 314.45 L257.43 313.91 L255.87 313.29 L254.31 312.53 L252.74 311.54 L251.18 310.38 L249.62 309.11 L248.05 307.8 L246.49 306.51 L244.93 305.29 L243.36 304.13 L241.8 302.94 L240.24 301.74 L238.67 300.57 L237.11 299.46 L235.55 298.42 L233.98 297.47 L232.42 296.64 L230.86 295.89 L229.29 295.21 L227.73 294.58 L226.17 293.99 L224.6 293.44 L223.04 292.91 L221.48 292.42 L219.91 291.96 L218.35 291.6 Z" fill="#dbeff7"/>
<path d="M218.35 291.6 L219.91 291.59 L221.48 291.57 L223.04 291.55 L224.6 291.54 L226.17 291.52 L227.73 291.5 L229.29 291.47 L230.86 291.45 L232.42 291.42 L233.98 291.38 L235.55 291.33 L237.11 291.27 L238.67 291.2 L240.24 291.13 L241.8 291.07 L243.36 291.03 L244.93 291.02 L246.49 291.03 L248.05 291.06 L249.62 291.1 L251.18 291.15 L252.74 291.21 L254.31 291.27 L255.87 291.33 L257.43 291.41 L259 291.5 L260.56 291.59 L262.12 291.69 L263.69 291.79 L265.25 291.89 L265.25 304.89 L263.69 304.49 L262.12 304.12 L260.56 303.75 L259 303.37 L257.43 302.95 L255.87 302.48 L254.31 301.91 L252.74 301.2 L251.18 300.39 L249.62 299.52 L248.05 298.64 L246.49 297.81 L244.93 297.05 L243.36 296.34 L241.8 295.6 L240.24 294.87 L238.67 294.19 L237.11 293.58 L235.55 293.07 L233.98 292.71 L232.42 292.48 L230.86 292.32 L229.29 292.19 L227.73 292.08 L226.17 291.98 L224.6 291.9 L223.04 291.82 L221.48 291.74 L219.91 291.66 L218.35 291.6 Z" fill="#8dbcdb" fill-opacity="0.9"/>
<path d="M218.35 291.6 L219.91 291.62 L221.48 291.64 L223.04 291.66 L224.6 291.68 L226.17 291.71 L227.73 291.73 L229.29 291.77 L230.86 291.81 L232.42 291.86 L233.98 291.95 L235.55 292.19 L237.11 292.56 L238.67 293.02 L240.24 293.54 L241.8 294.07 L243.36 294.56 L244.93 294.96 L246.49 295.3 L248.05 295.64 L249.62 295.96 L251.18 296.28 L252.74 296.58 L254.31 296.86 L255.87 297.14 L257.43 297.4 L259 297.64 L260.56 297.88 L262.12 298.11 L263.69 298.34 L265.25 298.58 L265.25 300.43 L263.69 300.16 L262.12 299.9 L260.56 299.64 L259 299.38 L257.43 299.1 L255.87 298.81 L254.31 298.48 L252.74 298.12 L251.18 297.74 L249.62 297.34 L248.05 296.92 L246.49 296.48 L244.93 296.04 L243.36 295.54 L241.8 294.94 L240.24 294.29 L238.67 293.65 L237.11 293.07 L235.55 292.6 L233.98 292.28 L232.42 292.13 L230.86 292.02 L229.29 291.94 L227.73 291.88 L226.17 291.82 L224.6 291.77 L223.04 291.73 L221.48 291.68 L219.91 291.64 L218.35 291.6 Z" fill="#2862ae"/>
<path d="M218.35 291.6 L219.91 291.62 L221.48 291.64 L223.04 291.66 L224.6 291.68 L226.17 291.7 L227.73 291.73 L229.29 291.76 L230.86 291.8 L232.42 291.85 L233.98 291.93 L235.55 292.09 L237.11 292.33 L238.67 292.64 L240.24 293 L241.8 293.4 L243.36 293.83 L244.93 294.25 L246.49 294.74 L248.05 295.33 L249.62 295.97 L251.18 296.64 L252.74 297.3 L254.31 297.91 L255.87 298.43 L257.43 298.91 L259 299.36 L260.56 299.79 L262.12 300.22 L263.69 300.65 L265.25 301.09" fill="none" stroke="#f5945f" stroke-width="1.3"/>
<path d="M218.35 291.6 L219.91 291.6 L221.48 291.6 L223.04 291.6 L224.6 291.6 L226.17 291.6 L227.73 291.6 L229.29 291.6 L230.86 291.6 L232.42 291.6 L233.98 291.61 L235.55 291.66 L237.11 291.76 L238.67 291.89 L240.24 292.06 L241.8 292.24 L243.36 292.44 L244.93 292.65 L246.49 292.9 L248.05 293.22 L249.62 293.59 L251.18 293.97 L252.74 294.36 L254.31 294.72 L255.87 295.04 L257.43 295.32 L259 295.6 L260.56 295.86 L262.12 296.13 L263.69 296.39 L265.25 296.67" fill="none" stroke="#f9c96a" stroke-width="1.0" stroke-dasharray="3 1 0.8 1"/>
<path d="M218.35 291.6 L219.91 291.7 L221.48 291.81 L223.04 291.94 L224.6 292.07 L226.17 292.21 L227.73 292.36 L229.29 292.53 L230.86 292.72 L232.42 292.96 L233.98 293.24 L235.55 293.62 L237.11 294.09 L238.67 294.64 L240.24 295.25 L241.8 295.9 L243.36 296.57 L244.93 297.24 L246.49 297.99 L248.05 298.83 L249.62 299.72 L251.18 300.62 L252.74 301.48 L254.31 302.25 L255.87 302.9 L257.43 303.46 L259 303.97 L260.56 304.45 L262.12 304.92 L263.69 305.39 L265.25 305.88" fill="none" stroke="#d7302a" stroke-width="1.2" stroke-dasharray="3.4 1 0.9 1"/>
</g>
<text x="216.95" y="319.7" font-size="7.6" fill="#222" textLength="10" lengthAdjust="spacingAndGlyphs">1, 3</text>
<clipPath id="c2652_2750"><rect x="265.25" y="275" width="49" height="48.5"/></clipPath>
<g clip-path="url(#c2652_2750)">
<line x1="284.23" y1="275" x2="284.23" y2="323.5" stroke="#d0d0d0" stroke-width="0.6" stroke-dasharray="1 1.4"/>
<line x1="300.35" y1="275" x2="300.35" y2="323.5" stroke="#d0d0d0" stroke-width="0.6" stroke-dasharray="1 1.4"/>
<line x1="307.15" y1="275" x2="307.15" y2="323.5" stroke="#d0d0d0" stroke-width="0.6" stroke-dasharray="1 1.4"/>
<path d="M266.85 291.6 L268.43 291.59 L270.01 291.58 L271.59 291.57 L273.17 291.56 L274.75 291.55 L276.33 291.53 L277.91 291.52 L279.49 291.5 L281.07 291.48 L282.65 291.45 L284.23 291.42 L285.81 291.37 L287.39 291.3 L288.97 291.19 L290.55 291.06 L292.13 290.9 L293.71 290.71 L295.29 290.5 L296.87 290.27 L298.45 289.97 L300.03 289.59 L301.61 289.15 L303.19 288.68 L304.77 288.19 L306.35 287.72 L307.93 287.23 L309.51 286.72 L311.09 286.19 L312.67 285.64 L314.25 285.1 L314.25 316.11 L312.67 315.52 L311.09 314.97 L309.51 314.42 L307.93 313.81 L306.35 313.11 L304.77 312.24 L303.19 311.07 L301.61 309.72 L300.03 308.28 L298.45 306.83 L296.87 305.47 L295.29 304.21 L293.71 302.94 L292.13 301.68 L290.55 300.46 L288.97 299.32 L287.39 298.27 L285.81 297.34 L284.23 296.53 L282.65 295.81 L281.07 295.17 L279.49 294.59 L277.91 294.06 L276.33 293.57 L274.75 293.12 L273.17 292.71 L271.59 292.34 L270.01 292.02 L268.43 291.75 L266.85 291.6 Z" fill="#dbeff7"/>
<path d="M266.85 291.6 L268.43 291.59 L270.01 291.59 L271.59 291.57 L273.17 291.56 L274.75 291.55 L276.33 291.53 L277.91 291.51 L279.49 291.5 L281.07 291.47 L282.65 291.45 L284.23 291.42 L285.81 291.39 L287.39 291.34 L288.97 291.27 L290.55 291.2 L292.13 291.13 L293.71 291.06 L295.29 291.03 L296.87 291.02 L298.45 291.04 L300.03 291.08 L301.61 291.13 L303.19 291.2 L304.77 291.27 L306.35 291.34 L307.93 291.43 L309.51 291.53 L311.09 291.65 L312.67 291.77 L314.25 291.89 L314.25 304.89 L312.67 304.41 L311.09 303.97 L309.51 303.53 L307.93 303.05 L306.35 302.51 L304.77 301.85 L303.19 301.02 L301.61 300.06 L300.03 299.08 L298.45 298.12 L296.87 297.25 L295.29 296.47 L293.71 295.68 L292.13 294.9 L290.55 294.18 L288.97 293.54 L287.39 293.04 L285.81 292.68 L284.23 292.47 L282.65 292.31 L281.07 292.19 L279.49 292.08 L277.91 292 L276.33 291.92 L274.75 291.85 L273.17 291.79 L271.59 291.73 L270.01 291.67 L268.43 291.63 L266.85 291.6 Z" fill="#8dbcdb" fill-opacity="0.9"/>
<path d="M266.85 291.6 L268.43 291.61 L270.01 291.62 L271.59 291.64 L273.17 291.65 L274.75 291.67 L276.33 291.69 L277.91 291.71 L279.49 291.74 L281.07 291.77 L282.65 291.81 L284.23 291.86 L285.81 291.94 L287.39 292.17 L288.97 292.54 L290.55 293.02 L292.13 293.56 L293.71 294.12 L295.29 294.64 L296.87 295.05 L298.45 295.43 L300.03 295.8 L301.61 296.16 L303.19 296.51 L304.77 296.84 L306.35 297.16 L307.93 297.46 L309.51 297.74 L311.09 298.02 L312.67 298.29 L314.25 298.58 L314.25 300.43 L312.67 300.1 L311.09 299.8 L309.51 299.49 L307.93 299.17 L306.35 298.83 L304.77 298.45 L303.19 298.03 L301.61 297.59 L300.03 297.13 L298.45 296.65 L296.87 296.16 L295.29 295.64 L293.71 295 L292.13 294.31 L290.55 293.64 L288.97 293.04 L287.39 292.57 L285.81 292.26 L284.23 292.12 L282.65 292.02 L281.07 291.94 L279.49 291.88 L277.91 291.83 L276.33 291.79 L274.75 291.75 L273.17 291.71 L271.59 291.68 L270.01 291.64 L268.43 291.62 L266.85 291.6 Z" fill="#2862ae"/>
<path d="M266.85 291.6 L268.43 291.61 L270.01 291.62 L271.59 291.63 L273.17 291.65 L274.75 291.67 L276.33 291.68 L277.91 291.7 L279.49 291.72 L281.07 291.75 L282.65 291.79 L284.23 291.83 L285.81 291.9 L287.39 292.04 L288.97 292.27 L290.55 292.58 L292.13 292.94 L293.71 293.35 L295.29 293.78 L296.87 294.23 L298.45 294.78 L300.03 295.43 L301.61 296.14 L303.19 296.85 L304.77 297.53 L306.35 298.11 L307.93 298.63 L309.51 299.12 L311.09 299.6 L312.67 300.09 L314.25 300.59" fill="none" stroke="#f5945f" stroke-width="1.3"/>
<path d="M266.85 291.6 L268.43 291.6 L270.01 291.6 L271.59 291.6 L273.17 291.6 L274.75 291.6 L276.33 291.6 L277.91 291.6 L279.49 291.6 L281.07 291.6 L282.65 291.6 L284.23 291.6 L285.81 291.61 L287.39 291.65 L288.97 291.74 L290.55 291.87 L292.13 292.04 L293.71 292.23 L295.29 292.44 L296.87 292.65 L298.45 292.94 L300.03 293.3 L301.61 293.71 L303.19 294.13 L304.77 294.53 L306.35 294.87 L307.93 295.19 L309.51 295.49 L311.09 295.79 L312.67 296.09 L314.25 296.4" fill="none" stroke="#f9c96a" stroke-width="1.0" stroke-dasharray="3 1 0.8 1"/>
<path d="M266.85 291.6 L268.43 291.64 L270.01 291.71 L271.59 291.79 L273.17 291.88 L274.75 291.98 L276.33 292.08 L277.91 292.2 L279.49 292.33 L281.07 292.48 L282.65 292.66 L284.23 292.87 L285.81 293.13 L287.39 293.49 L288.97 293.94 L290.55 294.47 L292.13 295.08 L293.71 295.74 L295.29 296.42 L296.87 297.13 L298.45 297.94 L300.03 298.86 L301.61 299.82 L303.19 300.77 L304.77 301.63 L306.35 302.34 L307.93 302.95 L309.51 303.51 L311.09 304.04 L312.67 304.57 L314.25 305.13" fill="none" stroke="#d7302a" stroke-width="1.2" stroke-dasharray="3.4 1 0.9 1"/>
</g>
<text x="265.45" y="319.7" font-size="7.6" fill="#222" textLength="10" lengthAdjust="spacingAndGlyphs">2, 3</text>
<clipPath id="c3142_2750"><rect x="314.25" y="275" width="49.25" height="48.5"/></clipPath>
<g clip-path="url(#c3142_2750)">
<line x1="334.2" y1="275" x2="334.2" y2="323.5" stroke="#d0d0d0" stroke-width="0.6" stroke-dasharray="1 1.4"/>
<line x1="350.43" y1="275" x2="350.43" y2="323.5" stroke="#d0d0d0" stroke-width="0.6" stroke-dasharray="1 1.4"/>
<line x1="357.29" y1="275" x2="357.29" y2="323.5" stroke="#d0d0d0" stroke-width="0.6" stroke-dasharray="1 1.4"/>
<path d="M315.85 291.6 L317.44 291.6 L319.03 291.59 L320.62 291.59 L322.2 291.58 L323.79 291.57 L325.38 291.56 L326.97 291.55 L328.56 291.54 L330.15 291.53 L331.73 291.52 L333.32 291.5 L334.91 291.48 L336.5 291.45 L338.09 291.41 L339.68 291.35 L341.26 291.25 L342.85 291.13 L344.44 290.99 L346.03 290.83 L347.62 290.64 L349.2 290.41 L350.79 290.1 L352.38 289.72 L353.97 289.32 L355.56 288.9 L357.15 288.48 L358.74 288.04 L360.32 287.57 L361.91 287.09 L363.5 286.6 L363.5 314.85 L361.91 314.19 L360.32 313.59 L358.74 312.97 L357.15 312.26 L355.56 311.38 L353.97 310.18 L352.38 308.75 L350.79 307.22 L349.2 305.71 L347.62 304.33 L346.03 303.03 L344.44 301.73 L342.85 300.48 L341.26 299.3 L339.68 298.22 L338.09 297.27 L336.5 296.46 L334.91 295.76 L333.32 295.14 L331.73 294.58 L330.15 294.09 L328.56 293.64 L326.97 293.23 L325.38 292.86 L323.79 292.53 L322.2 292.24 L320.62 292 L319.03 291.8 L317.44 291.66 L315.85 291.6 Z" fill="#dbeff7"/>
<path d="M315.85 291.6 L317.44 291.6 L319.03 291.59 L320.62 291.58 L322.2 291.58 L323.79 291.56 L325.38 291.55 L326.97 291.54 L328.56 291.52 L330.15 291.51 L331.73 291.49 L333.32 291.47 L334.91 291.44 L336.5 291.41 L338.09 291.38 L339.68 291.32 L341.26 291.25 L342.85 291.17 L344.44 291.09 L346.03 291.04 L347.62 291.02 L349.2 291.03 L350.79 291.07 L352.38 291.13 L353.97 291.2 L355.56 291.28 L357.15 291.37 L358.74 291.48 L360.32 291.61 L361.91 291.75 L363.5 291.89 L363.5 304.89 L361.91 304.34 L360.32 303.83 L358.74 303.3 L357.15 302.72 L355.56 302.02 L353.97 301.1 L352.38 300.04 L350.79 298.93 L349.2 297.89 L347.62 296.97 L346.03 296.13 L344.44 295.27 L342.85 294.47 L341.26 293.76 L339.68 293.18 L338.09 292.76 L336.5 292.52 L334.91 292.35 L333.32 292.22 L331.73 292.11 L330.15 292.02 L328.56 291.95 L326.97 291.88 L325.38 291.82 L323.79 291.77 L322.2 291.72 L320.62 291.67 L319.03 291.64 L317.44 291.61 L315.85 291.6 Z" fill="#8dbcdb" fill-opacity="0.9"/>
<path d="M315.85 291.6 L317.44 291.6 L319.03 291.61 L320.62 291.62 L322.2 291.63 L323.79 291.65 L325.38 291.66 L326.97 291.68 L328.56 291.7 L330.15 291.72 L331.73 291.74 L333.32 291.78 L334.91 291.82 L336.5 291.87 L338.09 291.99 L339.68 292.27 L341.26 292.7 L342.85 293.24 L344.44 293.83 L346.03 294.42 L347.62 294.92 L349.2 295.34 L350.79 295.75 L352.38 296.15 L353.97 296.54 L355.56 296.91 L357.15 297.27 L358.74 297.6 L360.32 297.92 L361.91 298.25 L363.5 298.58 L363.5 300.43 L361.91 300.05 L360.32 299.7 L358.74 299.34 L357.15 298.96 L355.56 298.54 L353.97 298.07 L352.38 297.58 L350.79 297.06 L349.2 296.53 L347.62 295.99 L346.03 295.37 L344.44 294.65 L342.85 293.91 L341.26 293.24 L339.68 292.7 L338.09 292.33 L336.5 292.15 L334.91 292.04 L333.32 291.96 L331.73 291.9 L330.15 291.85 L328.56 291.8 L326.97 291.76 L325.38 291.73 L323.79 291.7 L322.2 291.67 L320.62 291.64 L319.03 291.62 L317.44 291.61 L315.85 291.6 Z" fill="#2862ae"/>
<path d="M315.85 291.6 L317.44 291.6 L319.03 291.61 L320.62 291.62 L322.2 291.63 L323.79 291.64 L325.38 291.66 L326.97 291.67 L328.56 291.69 L330.15 291.71 L331.73 291.73 L333.32 291.76 L334.91 291.79 L336.5 291.84 L338.09 291.92 L339.68 292.1 L341.26 292.36 L342.85 292.7 L344.44 293.1 L346.03 293.55 L347.62 294.01 L349.2 294.56 L350.79 295.25 L352.38 296.01 L353.97 296.8 L355.56 297.53 L357.15 298.15 L358.74 298.72 L360.32 299.27 L361.91 299.82 L363.5 300.39" fill="none" stroke="#f5945f" stroke-width="1.3"/>
<path d="M315.85 291.6 L317.44 291.6 L319.03 291.6 L320.62 291.6 L322.2 291.6 L323.79 291.6 L325.38 291.6 L326.97 291.6 L328.56 291.6 L330.15 291.6 L331.73 291.6 L333.32 291.6 L334.91 291.6 L336.5 291.6 L338.09 291.61 L339.68 291.67 L341.26 291.78 L342.85 291.93 L344.44 292.12 L346.03 292.33 L347.62 292.55 L349.2 292.83 L350.79 293.21 L352.38 293.65 L353.97 294.11 L355.56 294.55 L357.15 294.92 L358.74 295.26 L360.32 295.6 L361.91 295.94 L363.5 296.29" fill="none" stroke="#f9c96a" stroke-width="1.0" stroke-dasharray="3 1 0.8 1"/>
<path d="M315.85 291.6 L317.44 291.62 L319.03 291.65 L320.62 291.71 L322.2 291.77 L323.79 291.84 L325.38 291.92 L326.97 292.01 L328.56 292.11 L330.15 292.22 L331.73 292.35 L333.32 292.5 L334.91 292.68 L336.5 292.9 L338.09 293.18 L339.68 293.57 L341.26 294.06 L342.85 294.65 L344.44 295.31 L346.03 296.02 L347.62 296.76 L349.2 297.59 L350.79 298.57 L352.38 299.61 L353.97 300.65 L355.56 301.58 L357.15 302.33 L358.74 302.99 L360.32 303.59 L361.91 304.19 L363.5 304.83" fill="none" stroke="#d7302a" stroke-width="1.2" stroke-dasharray="3.4 1 0.9 1"/>
</g>
<text x="314.45" y="319.7" font-size="7.6" fill="#222" textLength="10" lengthAdjust="spacingAndGlyphs">3, 3</text>
<clipPath id="c1685_3235"><rect x="168.5" y="323.5" width="48.25" height="48.5"/></clipPath>
<g clip-path="url(#c1685_3235)">
<line x1="182.6" y1="323.5" x2="182.6" y2="372" stroke="#d0d0d0" stroke-width="0.6" stroke-dasharray="1 1.4"/>
<line x1="198.2" y1="323.5" x2="198.2" y2="372" stroke="#d0d0d0" stroke-width="0.6" stroke-dasharray="1 1.4"/>
<line x1="204.7" y1="323.5" x2="204.7" y2="372" stroke="#d0d0d0" stroke-width="0.6" stroke-dasharray="1 1.4"/>
<path d="M170.1 340.1 L171.66 340.08 L173.21 340.05 L174.76 340.03 L176.32 340 L177.88 339.97 L179.43 339.94 L180.98 339.9 L182.54 339.86 L184.09 339.8 L185.65 339.7 L187.2 339.57 L188.76 339.39 L190.31 339.19 L191.87 338.96 L193.43 338.71 L194.98 338.44 L196.53 338.13 L198.09 337.73 L199.64 337.26 L201.2 336.75 L202.75 336.2 L204.31 335.64 L205.87 335.1 L207.42 334.56 L208.97 334.01 L210.53 333.44 L212.09 332.86 L213.64 332.27 L215.19 331.68 L216.75 331.1 L216.75 364.04 L215.19 363.58 L213.64 363.16 L212.09 362.74 L210.53 362.31 L208.97 361.83 L207.42 361.29 L205.87 360.66 L204.31 359.84 L202.75 358.84 L201.2 357.71 L199.64 356.5 L198.09 355.28 L196.53 354.09 L194.98 352.98 L193.43 351.88 L191.87 350.75 L190.31 349.61 L188.76 348.51 L187.2 347.45 L185.65 346.46 L184.09 345.57 L182.54 344.77 L180.98 344.05 L179.43 343.39 L177.88 342.77 L176.32 342.18 L174.76 341.62 L173.21 341.07 L171.66 340.56 L170.1 340.1 Z" fill="#dbeff7"/>
<path d="M170.1 340.1 L171.66 340.08 L173.21 340.07 L174.76 340.05 L176.32 340.03 L177.88 340.01 L179.43 339.99 L180.98 339.97 L182.54 339.94 L184.09 339.91 L185.65 339.86 L187.2 339.81 L188.76 339.74 L190.31 339.68 L191.87 339.62 L193.43 339.58 L194.98 339.56 L196.53 339.57 L198.09 339.59 L199.64 339.62 L201.2 339.66 L202.75 339.71 L204.31 339.77 L205.87 339.82 L207.42 339.88 L208.97 339.95 L210.53 340.02 L212.09 340.11 L213.64 340.2 L215.19 340.29 L216.75 340.37 L216.75 352.43 L215.19 352.08 L213.64 351.76 L212.09 351.44 L210.53 351.11 L208.97 350.75 L207.42 350.36 L205.87 349.9 L204.31 349.33 L202.75 348.65 L201.2 347.89 L199.64 347.11 L198.09 346.34 L196.53 345.61 L194.98 344.95 L193.43 344.3 L191.87 343.63 L190.31 342.97 L188.76 342.35 L187.2 341.81 L185.65 341.37 L184.09 341.06 L182.54 340.88 L180.98 340.73 L179.43 340.61 L177.88 340.51 L176.32 340.42 L174.76 340.34 L173.21 340.26 L171.66 340.18 L170.1 340.1 Z" fill="#8dbcdb" fill-opacity="0.9"/>
<path d="M170.1 340.1 L171.66 340.12 L173.21 340.15 L174.76 340.17 L176.32 340.19 L177.88 340.22 L179.43 340.25 L180.98 340.28 L182.54 340.33 L184.09 340.4 L185.65 340.58 L187.2 340.9 L188.76 341.31 L190.31 341.78 L191.87 342.26 L193.43 342.72 L194.98 343.11 L196.53 343.43 L198.09 343.73 L199.64 344.03 L201.2 344.31 L202.75 344.58 L204.31 344.84 L205.87 345.09 L207.42 345.33 L208.97 345.55 L210.53 345.76 L212.09 345.96 L213.64 346.17 L215.19 346.37 L216.75 346.58 L216.75 348.29 L215.19 348.06 L213.64 347.83 L212.09 347.61 L210.53 347.38 L208.97 347.14 L207.42 346.89 L205.87 346.61 L204.31 346.31 L202.75 345.98 L201.2 345.63 L199.64 345.27 L198.09 344.88 L196.53 344.49 L194.98 344.08 L193.43 343.6 L191.87 343.03 L190.31 342.44 L188.76 341.86 L187.2 341.35 L185.65 340.95 L184.09 340.68 L182.54 340.56 L180.98 340.47 L179.43 340.4 L177.88 340.34 L176.32 340.29 L174.76 340.24 L173.21 340.19 L171.66 340.15 L170.1 340.1 Z" fill="#2862ae"/>
<path d="M170.1 340.1 L171.66 340.12 L173.21 340.15 L174.76 340.17 L176.32 340.19 L177.88 340.22 L179.43 340.25 L180.98 340.28 L182.54 340.33 L184.09 340.39 L185.65 340.53 L187.2 340.75 L188.76 341.03 L190.31 341.37 L191.87 341.75 L193.43 342.15 L194.98 342.56 L196.53 342.99 L198.09 343.52 L199.64 344.11 L201.2 344.73 L202.75 345.35 L204.31 345.95 L205.87 346.48 L207.42 346.95 L208.97 347.38 L210.53 347.79 L212.09 348.18 L213.64 348.57 L215.19 348.96 L216.75 349.37" fill="none" stroke="#f5945f" stroke-width="1.3"/>
<path d="M170.1 340.1 L171.66 340.1 L173.21 340.1 L174.76 340.1 L176.32 340.1 L177.88 340.1 L179.43 340.1 L180.98 340.1 L182.54 340.1 L184.09 340.1 L185.65 340.14 L187.2 340.23 L188.76 340.35 L190.31 340.5 L191.87 340.68 L193.43 340.87 L194.98 341.06 L196.53 341.28 L198.09 341.56 L199.64 341.89 L201.2 342.25 L202.75 342.61 L204.31 342.96 L205.87 343.28 L207.42 343.56 L208.97 343.82 L210.53 344.07 L212.09 344.31 L213.64 344.56 L215.19 344.8 L216.75 345.05" fill="none" stroke="#f9c96a" stroke-width="1.0" stroke-dasharray="3 1 0.8 1"/>
<path d="M170.1 340.1 L171.66 340.22 L173.21 340.36 L174.76 340.49 L176.32 340.63 L177.88 340.78 L179.43 340.95 L180.98 341.14 L182.54 341.36 L184.09 341.63 L185.65 341.98 L187.2 342.42 L188.76 342.93 L190.31 343.51 L191.87 344.12 L193.43 344.76 L194.98 345.4 L196.53 346.07 L198.09 346.84 L199.64 347.67 L201.2 348.51 L202.75 349.34 L204.31 350.11 L205.87 350.78 L207.42 351.34 L208.97 351.84 L210.53 352.3 L212.09 352.74 L213.64 353.16 L215.19 353.6 L216.75 354.05" fill="none" stroke="#d7302a" stroke-width="1.2" stroke-dasharray="3.4 1 0.9 1"/>
</g>
<text x="168.7" y="368.2" font-size="7.6" fill="#222" textLength="10" lengthAdjust="spacingAndGlyphs">0, 4</text>
<clipPath id="c2167_3235"><rect x="216.75" y="323.5" width="48.5" height="48.5"/></clipPath>
<g clip-path="url(#c2167_3235)">
<line x1="234.1" y1="323.5" x2="234.1" y2="372" stroke="#d0d0d0" stroke-width="0.6" stroke-dasharray="1 1.4"/>
<line x1="250.05" y1="323.5" x2="250.05" y2="372" stroke="#d0d0d0" stroke-width="0.6" stroke-dasharray="1 1.4"/>
<line x1="256.75" y1="323.5" x2="256.75" y2="372" stroke="#d0d0d0" stroke-width="0.6" stroke-dasharray="1 1.4"/>
<path d="M218.35 340.1 L219.91 340.09 L221.48 340.07 L223.04 340.05 L224.6 340.03 L226.17 340.02 L227.73 339.99 L229.29 339.97 L230.86 339.94 L232.42 339.9 L233.98 339.86 L235.55 339.79 L237.11 339.68 L238.67 339.54 L240.24 339.38 L241.8 339.18 L243.36 338.97 L244.93 338.74 L246.49 338.47 L248.05 338.12 L249.62 337.7 L251.18 337.24 L252.74 336.75 L254.31 336.25 L255.87 335.76 L257.43 335.27 L259 334.76 L260.56 334.23 L262.12 333.69 L263.69 333.14 L265.25 332.6 L265.25 363.56 L263.69 363.06 L262.12 362.61 L260.56 362.15 L259 361.67 L257.43 361.13 L255.87 360.5 L254.31 359.71 L252.74 358.69 L251.18 357.52 L249.62 356.27 L248.05 355 L246.49 353.77 L244.93 352.63 L243.36 351.5 L241.8 350.35 L240.24 349.22 L238.67 348.12 L237.11 347.09 L235.55 346.14 L233.98 345.3 L232.42 344.55 L230.86 343.88 L229.29 343.27 L227.73 342.7 L226.17 342.17 L224.6 341.68 L223.04 341.21 L221.48 340.78 L219.91 340.39 L218.35 340.1 Z" fill="#dbeff7"/>
<path d="M218.35 340.1 L219.91 340.09 L221.48 340.08 L223.04 340.06 L224.6 340.05 L226.17 340.03 L227.73 340.01 L229.29 339.99 L230.86 339.97 L232.42 339.95 L233.98 339.92 L235.55 339.88 L237.11 339.82 L238.67 339.76 L240.24 339.69 L241.8 339.63 L243.36 339.58 L244.93 339.56 L246.49 339.57 L248.05 339.59 L249.62 339.62 L251.18 339.67 L252.74 339.72 L254.31 339.78 L255.87 339.84 L257.43 339.91 L259 339.99 L260.56 340.08 L262.12 340.18 L263.69 340.28 L265.25 340.37 L265.25 352.43 L263.69 352.05 L262.12 351.69 L260.56 351.33 L259 350.96 L257.43 350.55 L255.87 350.08 L254.31 349.51 L252.74 348.8 L251.18 348.01 L249.62 347.17 L248.05 346.35 L246.49 345.58 L244.93 344.9 L243.36 344.22 L241.8 343.52 L240.24 342.85 L238.67 342.24 L237.11 341.71 L235.55 341.3 L233.98 341.02 L232.42 340.85 L230.86 340.71 L229.29 340.6 L227.73 340.51 L226.17 340.42 L224.6 340.35 L223.04 340.28 L221.48 340.21 L219.91 340.15 L218.35 340.1 Z" fill="#8dbcdb" fill-opacity="0.9"/>
<path d="M218.35 340.1 L219.91 340.11 L221.48 340.13 L223.04 340.15 L224.6 340.17 L226.17 340.19 L227.73 340.21 L229.29 340.24 L230.86 340.28 L232.42 340.32 L233.98 340.38 L235.55 340.53 L237.11 340.82 L238.67 341.22 L240.24 341.69 L241.8 342.18 L243.36 342.66 L244.93 343.08 L246.49 343.42 L248.05 343.74 L249.62 344.05 L251.18 344.35 L252.74 344.64 L254.31 344.92 L255.87 345.18 L257.43 345.43 L259 345.67 L260.56 345.9 L262.12 346.12 L263.69 346.35 L265.25 346.58 L265.25 348.29 L263.69 348.03 L262.12 347.78 L260.56 347.53 L259 347.28 L257.43 347.01 L255.87 346.72 L254.31 346.4 L252.74 346.05 L251.18 345.68 L249.62 345.3 L248.05 344.89 L246.49 344.48 L244.93 344.05 L243.36 343.53 L241.8 342.94 L240.24 342.33 L238.67 341.75 L237.11 341.26 L235.55 340.88 L233.98 340.65 L232.42 340.54 L230.86 340.46 L229.29 340.39 L227.73 340.34 L226.17 340.29 L224.6 340.25 L223.04 340.21 L221.48 340.17 L219.91 340.13 L218.35 340.1 Z" fill="#2862ae"/>
<path d="M218.35 340.1 L219.91 340.11 L221.48 340.13 L223.04 340.15 L224.6 340.17 L226.17 340.19 L227.73 340.21 L229.29 340.24 L230.86 340.27 L232.42 340.31 L233.98 340.36 L235.55 340.47 L237.11 340.66 L238.67 340.93 L240.24 341.25 L241.8 341.61 L243.36 342 L244.93 342.4 L246.49 342.83 L248.05 343.36 L249.62 343.95 L251.18 344.58 L252.74 345.22 L254.31 345.81 L255.87 346.34 L257.43 346.8 L259 347.24 L260.56 347.65 L262.12 348.06 L263.69 348.48 L265.25 348.91" fill="none" stroke="#f5945f" stroke-width="1.3"/>
<path d="M218.35 340.1 L219.91 340.1 L221.48 340.1 L223.04 340.1 L224.6 340.1 L226.17 340.1 L227.73 340.1 L229.29 340.1 L230.86 340.1 L232.42 340.1 L233.98 340.1 L235.55 340.13 L237.11 340.2 L238.67 340.31 L240.24 340.45 L241.8 340.62 L243.36 340.81 L244.93 341 L246.49 341.21 L248.05 341.49 L249.62 341.83 L251.18 342.19 L252.74 342.56 L254.31 342.92 L255.87 343.23 L257.43 343.51 L259 343.77 L260.56 344.03 L262.12 344.28 L263.69 344.54 L265.25 344.8" fill="none" stroke="#f9c96a" stroke-width="1.0" stroke-dasharray="3 1 0.8 1"/>
<path d="M218.35 340.1 L219.91 340.18 L221.48 340.28 L223.04 340.38 L224.6 340.5 L226.17 340.62 L227.73 340.75 L229.29 340.89 L230.86 341.06 L232.42 341.26 L233.98 341.49 L235.55 341.81 L237.11 342.21 L238.67 342.69 L240.24 343.23 L241.8 343.83 L243.36 344.45 L244.93 345.08 L246.49 345.75 L248.05 346.52 L249.62 347.35 L251.18 348.21 L252.74 349.05 L254.31 349.81 L255.87 350.46 L257.43 351.01 L259 351.51 L260.56 351.97 L262.12 352.42 L263.69 352.87 L265.25 353.35" fill="none" stroke="#d7302a" stroke-width="1.2" stroke-dasharray="3.4 1 0.9 1"/>
</g>
<text x="216.95" y="368.2" font-size="7.6" fill="#222" textLength="10" lengthAdjust="spacingAndGlyphs">1, 4</text>
<clipPath id="c2652_3235"><rect x="265.25" y="323.5" width="49" height="48.5"/></clipPath>
<g clip-path="url(#c2652_3235)">
<line x1="284.23" y1="323.5" x2="284.23" y2="372" stroke="#d0d0d0" stroke-width="0.6" stroke-dasharray="1 1.4"/>
<line x1="300.35" y1="323.5" x2="300.35" y2="372" stroke="#d0d0d0" stroke-width="0.6" stroke-dasharray="1 1.4"/>
<line x1="307.15" y1="323.5" x2="307.15" y2="372" stroke="#d0d0d0" stroke-width="0.6" stroke-dasharray="1 1.4"/>
<path d="M266.85 340.1 L268.43 340.1 L270.01 340.09 L271.59 340.08 L273.17 340.07 L274.75 340.06 L276.33 340.04 L277.91 340.03 L279.49 340.01 L281.07 339.99 L282.65 339.97 L284.23 339.94 L285.81 339.91 L287.39 339.86 L288.97 339.78 L290.55 339.66 L292.13 339.52 L293.71 339.35 L295.29 339.15 L296.87 338.93 L298.45 338.67 L300.03 338.32 L301.61 337.89 L303.19 337.42 L304.77 336.92 L306.35 336.43 L307.93 335.92 L309.51 335.39 L311.09 334.84 L312.67 334.27 L314.25 333.7 L314.25 363.32 L312.67 362.72 L311.09 362.17 L309.51 361.61 L307.93 360.99 L306.35 360.25 L304.77 359.27 L303.19 358.03 L301.61 356.64 L300.03 355.2 L298.45 353.81 L296.87 352.54 L295.29 351.3 L293.71 350.06 L292.13 348.86 L290.55 347.73 L288.97 346.69 L287.39 345.76 L285.81 344.96 L284.23 344.26 L282.65 343.64 L281.07 343.09 L279.49 342.58 L277.91 342.12 L276.33 341.7 L274.75 341.31 L273.17 340.97 L271.59 340.66 L270.01 340.4 L268.43 340.2 L266.85 340.1 Z" fill="#dbeff7"/>
<path d="M266.85 340.1 L268.43 340.1 L270.01 340.09 L271.59 340.08 L273.17 340.07 L274.75 340.06 L276.33 340.04 L277.91 340.03 L279.49 340.01 L281.07 340 L282.65 339.98 L284.23 339.95 L285.81 339.93 L287.39 339.89 L288.97 339.84 L290.55 339.78 L292.13 339.71 L293.71 339.64 L295.29 339.59 L296.87 339.56 L298.45 339.57 L300.03 339.6 L301.61 339.64 L303.19 339.7 L304.77 339.77 L306.35 339.84 L307.93 339.92 L309.51 340.02 L311.09 340.13 L312.67 340.25 L314.25 340.37 L314.25 352.43 L312.67 351.96 L311.09 351.53 L309.51 351.09 L307.93 350.6 L306.35 350.05 L304.77 349.35 L303.19 348.48 L301.61 347.53 L300.03 346.58 L298.45 345.69 L296.87 344.92 L295.29 344.17 L293.71 343.41 L292.13 342.7 L290.55 342.07 L288.97 341.56 L287.39 341.18 L285.81 340.95 L284.23 340.8 L282.65 340.67 L281.07 340.57 L279.49 340.49 L277.91 340.42 L276.33 340.36 L274.75 340.3 L273.17 340.24 L271.59 340.2 L270.01 340.15 L268.43 340.12 L266.85 340.1 Z" fill="#8dbcdb" fill-opacity="0.9"/>
<path d="M266.85 340.1 L268.43 340.11 L270.01 340.12 L271.59 340.13 L273.17 340.14 L274.75 340.16 L276.33 340.17 L277.91 340.19 L279.49 340.21 L281.07 340.23 L282.65 340.26 L284.23 340.3 L285.81 340.35 L287.39 340.46 L288.97 340.71 L290.55 341.09 L292.13 341.57 L293.71 342.1 L295.29 342.63 L296.87 343.09 L298.45 343.46 L300.03 343.83 L301.61 344.18 L303.19 344.52 L304.77 344.85 L306.35 345.17 L307.93 345.46 L309.51 345.74 L311.09 346.02 L312.67 346.29 L314.25 346.58 L314.25 348.29 L312.67 347.97 L311.09 347.67 L309.51 347.36 L307.93 347.05 L306.35 346.7 L304.77 346.32 L303.19 345.9 L301.61 345.46 L300.03 345 L298.45 344.54 L296.87 344.06 L295.29 343.49 L293.71 342.84 L292.13 342.19 L290.55 341.6 L288.97 341.11 L287.39 340.78 L285.81 340.61 L284.23 340.51 L282.65 340.44 L281.07 340.38 L279.49 340.33 L277.91 340.29 L276.33 340.25 L274.75 340.22 L273.17 340.18 L271.59 340.16 L270.01 340.13 L268.43 340.11 L266.85 340.1 Z" fill="#2862ae"/>
<path d="M266.85 340.1 L268.43 340.1 L270.01 340.11 L271.59 340.13 L273.17 340.14 L274.75 340.15 L276.33 340.17 L277.91 340.18 L279.49 340.2 L281.07 340.22 L282.65 340.25 L284.23 340.28 L285.81 340.33 L287.39 340.41 L288.97 340.57 L290.55 340.8 L292.13 341.11 L293.71 341.47 L295.29 341.87 L296.87 342.29 L298.45 342.76 L300.03 343.34 L301.61 344 L303.19 344.7 L304.77 345.38 L306.35 345.98 L307.93 346.5 L309.51 346.99 L311.09 347.47 L312.67 347.94 L314.25 348.44" fill="none" stroke="#f5945f" stroke-width="1.3"/>
<path d="M266.85 340.1 L268.43 340.1 L270.01 340.1 L271.59 340.1 L273.17 340.1 L274.75 340.1 L276.33 340.1 L277.91 340.1 L279.49 340.1 L281.07 340.1 L282.65 340.1 L284.23 340.1 L285.81 340.1 L287.39 340.11 L288.97 340.17 L290.55 340.27 L292.13 340.4 L293.71 340.57 L295.29 340.76 L296.87 340.95 L298.45 341.19 L300.03 341.5 L301.61 341.88 L303.19 342.28 L304.77 342.69 L306.35 343.04 L307.93 343.36 L309.51 343.66 L311.09 343.95 L312.67 344.25 L314.25 344.56" fill="none" stroke="#f9c96a" stroke-width="1.0" stroke-dasharray="3 1 0.8 1"/>
<path d="M266.85 340.1 L268.43 340.13 L270.01 340.18 L271.59 340.24 L273.17 340.31 L274.75 340.39 L276.33 340.48 L277.91 340.58 L279.49 340.69 L281.07 340.81 L282.65 340.96 L284.23 341.13 L285.81 341.33 L287.39 341.6 L288.97 341.96 L290.55 342.41 L292.13 342.94 L293.71 343.53 L295.29 344.17 L296.87 344.84 L298.45 345.55 L300.03 346.4 L301.61 347.31 L303.19 348.25 L304.77 349.13 L306.35 349.87 L307.93 350.5 L309.51 351.05 L311.09 351.58 L312.67 352.1 L314.25 352.66" fill="none" stroke="#d7302a" stroke-width="1.2" stroke-dasharray="3.4 1 0.9 1"/>
</g>
<text x="265.45" y="368.2" font-size="7.6" fill="#222" textLength="10" lengthAdjust="spacingAndGlyphs">2, 4</text>
<clipPath id="c3142_3235"><rect x="314.25" y="323.5" width="49.25" height="48.5"/></clipPath>
<g clip-path="url(#c3142_3235)">
<line x1="334.2" y1="323.5" x2="334.2" y2="372" stroke="#d0d0d0" stroke-width="0.6" stroke-dasharray="1 1.4"/>
<line x1="350.43" y1="323.5" x2="350.43" y2="372" stroke="#d0d0d0" stroke-width="0.6" stroke-dasharray="1 1.4"/>
<line x1="357.29" y1="323.5" x2="357.29" y2="372" stroke="#d0d0d0" stroke-width="0.6" stroke-dasharray="1 1.4"/>
<path d="M315.85 340.1 L317.44 340.1 L319.03 340.09 L320.62 340.09 L322.2 340.08 L323.79 340.07 L325.38 340.06 L326.97 340.05 L328.56 340.04 L330.15 340.03 L331.73 340.01 L333.32 339.99 L334.91 339.97 L336.5 339.94 L338.09 339.91 L339.68 339.85 L341.26 339.75 L342.85 339.62 L344.44 339.47 L346.03 339.28 L347.62 339.06 L349.2 338.81 L350.79 338.45 L352.38 338.01 L353.97 337.52 L355.56 336.99 L357.15 336.47 L358.74 335.92 L360.32 335.33 L361.91 334.72 L363.5 334.1 L363.5 362.12 L361.91 361.47 L360.32 360.87 L358.74 360.24 L357.15 359.51 L355.56 358.57 L353.97 357.3 L352.38 355.83 L350.79 354.32 L349.2 352.88 L347.62 351.59 L346.03 350.31 L344.44 349.06 L342.85 347.87 L341.26 346.79 L339.68 345.82 L338.09 344.99 L336.5 344.28 L334.91 343.66 L333.32 343.11 L331.73 342.63 L330.15 342.19 L328.56 341.8 L326.97 341.44 L325.38 341.12 L323.79 340.84 L322.2 340.6 L320.62 340.4 L319.03 340.25 L317.44 340.14 L315.85 340.1 Z" fill="#dbeff7"/>
<path d="M315.85 340.1 L317.44 340.1 L319.03 340.09 L320.62 340.09 L322.2 340.08 L323.79 340.07 L325.38 340.06 L326.97 340.05 L328.56 340.04 L330.15 340.02 L331.73 340.01 L333.32 339.99 L334.91 339.97 L336.5 339.95 L338.09 339.92 L339.68 339.87 L341.26 339.81 L342.85 339.74 L344.44 339.67 L346.03 339.6 L347.62 339.56 L349.2 339.56 L350.79 339.59 L352.38 339.64 L353.97 339.71 L355.56 339.79 L357.15 339.87 L358.74 339.97 L360.32 340.1 L361.91 340.23 L363.5 340.37 L363.5 352.43 L361.91 351.89 L360.32 351.39 L358.74 350.87 L357.15 350.29 L355.56 349.56 L353.97 348.62 L352.38 347.56 L350.79 346.51 L349.2 345.54 L347.62 344.72 L346.03 343.9 L344.44 343.1 L342.85 342.38 L341.26 341.77 L339.68 341.32 L338.09 341.02 L336.5 340.85 L334.91 340.71 L333.32 340.61 L331.73 340.52 L330.15 340.45 L328.56 340.38 L326.97 340.33 L325.38 340.28 L323.79 340.23 L322.2 340.19 L320.62 340.15 L319.03 340.13 L317.44 340.11 L315.85 340.1 Z" fill="#8dbcdb" fill-opacity="0.9"/>
<path d="M315.85 340.1 L317.44 340.1 L319.03 340.11 L320.62 340.12 L322.2 340.13 L323.79 340.14 L325.38 340.15 L326.97 340.17 L328.56 340.18 L330.15 340.2 L331.73 340.22 L333.32 340.24 L334.91 340.28 L336.5 340.32 L338.09 340.38 L339.68 340.55 L341.26 340.87 L342.85 341.33 L344.44 341.87 L346.03 342.45 L347.62 342.98 L349.2 343.4 L350.79 343.8 L352.38 344.19 L353.97 344.57 L355.56 344.94 L357.15 345.29 L358.74 345.62 L360.32 345.93 L361.91 346.25 L363.5 346.58 L363.5 348.29 L361.91 347.92 L360.32 347.57 L358.74 347.22 L357.15 346.85 L355.56 346.43 L353.97 345.97 L352.38 345.48 L350.79 344.97 L349.2 344.45 L347.62 343.92 L346.03 343.27 L344.44 342.56 L342.85 341.89 L341.26 341.32 L339.68 340.9 L338.09 340.65 L336.5 340.54 L334.91 340.46 L333.32 340.4 L331.73 340.34 L330.15 340.3 L328.56 340.27 L326.97 340.23 L325.38 340.2 L323.79 340.18 L322.2 340.15 L320.62 340.13 L319.03 340.12 L317.44 340.1 L315.85 340.1 Z" fill="#2862ae"/>
<path d="M315.85 340.1 L317.44 340.1 L319.03 340.11 L320.62 340.11 L322.2 340.12 L323.79 340.13 L325.38 340.15 L326.97 340.16 L328.56 340.17 L330.15 340.19 L331.73 340.21 L333.32 340.23 L334.91 340.26 L336.5 340.29 L338.09 340.34 L339.68 340.45 L341.26 340.65 L342.85 340.93 L344.44 341.29 L346.03 341.69 L347.62 342.13 L349.2 342.61 L350.79 343.22 L352.38 343.94 L353.97 344.7 L355.56 345.43 L357.15 346.06 L358.74 346.62 L360.32 347.16 L361.91 347.69 L363.5 348.26" fill="none" stroke="#f5945f" stroke-width="1.3"/>
<path d="M315.85 340.1 L317.44 340.1 L319.03 340.1 L320.62 340.1 L322.2 340.1 L323.79 340.1 L325.38 340.1 L326.97 340.1 L328.56 340.1 L330.15 340.1 L331.73 340.1 L333.32 340.1 L334.91 340.1 L336.5 340.1 L338.09 340.1 L339.68 340.13 L341.26 340.21 L342.85 340.33 L344.44 340.48 L346.03 340.67 L347.62 340.88 L349.2 341.12 L350.79 341.45 L352.38 341.85 L353.97 342.3 L355.56 342.73 L357.15 343.1 L358.74 343.45 L360.32 343.78 L361.91 344.11 L363.5 344.46" fill="none" stroke="#f9c96a" stroke-width="1.0" stroke-dasharray="3 1 0.8 1"/>
<path d="M315.85 340.1 L317.44 340.11 L319.03 340.14 L320.62 340.18 L322.2 340.23 L323.79 340.29 L325.38 340.36 L326.97 340.43 L328.56 340.52 L330.15 340.61 L331.73 340.72 L333.32 340.85 L334.91 340.99 L336.5 341.17 L338.09 341.39 L339.68 341.7 L341.26 342.11 L342.85 342.61 L344.44 343.2 L346.03 343.86 L347.62 344.56 L349.2 345.3 L350.79 346.19 L352.38 347.18 L353.97 348.2 L355.56 349.14 L357.15 349.91 L358.74 350.57 L360.32 351.17 L361.91 351.75 L363.5 352.38" fill="none" stroke="#d7302a" stroke-width="1.2" stroke-dasharray="3.4 1 0.9 1"/>
</g>
<text x="314.45" y="368.2" font-size="7.6" fill="#222" textLength="10" lengthAdjust="spacingAndGlyphs">3, 4</text>
<clipPath id="c3635_3235"><rect x="363.5" y="323.5" width="48.75" height="48.5"/></clipPath>
<g clip-path="url(#c3635_3235)">
<line x1="384.1" y1="323.5" x2="384.1" y2="372" stroke="#d0d0d0" stroke-width="0.6" stroke-dasharray="1 1.4"/>
<line x1="400.4" y1="323.5" x2="400.4" y2="372" stroke="#d0d0d0" stroke-width="0.6" stroke-dasharray="1 1.4"/>
<line x1="407.3" y1="323.5" x2="407.3" y2="372" stroke="#d0d0d0" stroke-width="0.6" stroke-dasharray="1 1.4"/>
<path d="M365.1 340.1 L366.67 340.1 L368.24 340.1 L369.81 340.09 L371.39 340.09 L372.96 340.08 L374.53 340.07 L376.1 340.06 L377.67 340.06 L379.25 340.04 L380.82 340.03 L382.39 340.02 L383.96 340 L385.53 339.98 L387.1 339.95 L388.68 339.92 L390.25 339.86 L391.82 339.77 L393.39 339.64 L394.96 339.48 L396.53 339.28 L398.11 339.05 L399.68 338.77 L401.25 338.38 L402.82 337.89 L404.39 337.35 L405.96 336.8 L407.54 336.23 L409.11 335.61 L410.68 334.97 L412.25 334.3 L412.25 361.65 L410.68 360.94 L409.11 360.29 L407.54 359.59 L405.96 358.75 L404.39 357.58 L402.82 356.09 L401.25 354.5 L399.68 352.95 L398.11 351.56 L396.53 350.24 L394.96 348.94 L393.39 347.71 L391.82 346.6 L390.25 345.63 L388.68 344.8 L387.1 344.1 L385.53 343.5 L383.96 342.97 L382.39 342.5 L380.82 342.08 L379.25 341.71 L377.67 341.38 L376.1 341.09 L374.53 340.83 L372.96 340.61 L371.39 340.43 L369.81 340.29 L368.24 340.18 L366.67 340.12 L365.1 340.1 Z" fill="#dbeff7"/>
<path d="M365.1 340.1 L366.67 340.1 L368.24 340.1 L369.81 340.09 L371.39 340.09 L372.96 340.08 L374.53 340.07 L376.1 340.06 L377.67 340.05 L379.25 340.04 L380.82 340.03 L382.39 340.01 L383.96 339.99 L385.53 339.97 L387.1 339.95 L388.68 339.92 L390.25 339.88 L391.82 339.81 L393.39 339.74 L394.96 339.66 L396.53 339.6 L398.11 339.56 L399.68 339.57 L401.25 339.61 L402.82 339.67 L404.39 339.75 L405.96 339.83 L407.54 339.93 L409.11 340.07 L410.68 340.22 L412.25 340.37 L412.25 352.43 L410.68 351.83 L409.11 351.28 L407.54 350.7 L405.96 350.01 L404.39 349.11 L402.82 348 L401.25 346.85 L399.68 345.78 L398.11 344.87 L396.53 344 L394.96 343.15 L393.39 342.38 L391.82 341.75 L390.25 341.29 L388.68 341 L387.1 340.83 L385.53 340.7 L383.96 340.59 L382.39 340.51 L380.82 340.44 L379.25 340.38 L377.67 340.32 L376.1 340.27 L374.53 340.23 L372.96 340.19 L371.39 340.16 L369.81 340.14 L368.24 340.12 L366.67 340.1 L365.1 340.1 Z" fill="#8dbcdb" fill-opacity="0.9"/>
<path d="M365.1 340.1 L366.67 340.1 L368.24 340.1 L369.81 340.11 L371.39 340.12 L372.96 340.13 L374.53 340.14 L376.1 340.15 L377.67 340.16 L379.25 340.18 L380.82 340.2 L382.39 340.22 L383.96 340.24 L385.53 340.27 L387.1 340.31 L388.68 340.37 L390.25 340.53 L391.82 340.86 L393.39 341.33 L394.96 341.91 L396.53 342.52 L398.11 343.06 L399.68 343.5 L401.25 343.93 L402.82 344.35 L404.39 344.75 L405.96 345.15 L407.54 345.52 L409.11 345.87 L410.68 346.21 L412.25 346.58 L412.25 348.29 L410.68 347.88 L409.11 347.5 L407.54 347.11 L405.96 346.68 L404.39 346.2 L402.82 345.68 L401.25 345.14 L399.68 344.59 L398.11 344.03 L396.53 343.35 L394.96 342.6 L393.39 341.89 L391.82 341.3 L390.25 340.87 L388.68 340.64 L387.1 340.53 L385.53 340.45 L383.96 340.39 L382.39 340.34 L380.82 340.3 L379.25 340.26 L377.67 340.23 L376.1 340.2 L374.53 340.18 L372.96 340.16 L371.39 340.14 L369.81 340.12 L368.24 340.11 L366.67 340.1 L365.1 340.1 Z" fill="#2862ae"/>
<path d="M365.1 340.1 L366.67 340.1 L368.24 340.1 L369.81 340.11 L371.39 340.12 L372.96 340.12 L374.53 340.13 L376.1 340.14 L377.67 340.15 L379.25 340.17 L380.82 340.18 L382.39 340.2 L383.96 340.22 L385.53 340.25 L387.1 340.28 L388.68 340.33 L390.25 340.43 L391.82 340.62 L393.39 340.91 L394.96 341.27 L396.53 341.69 L398.11 342.14 L399.68 342.66 L401.25 343.33 L402.82 344.11 L404.39 344.9 L405.96 345.62 L407.54 346.23 L409.11 346.81 L410.68 347.38 L412.25 347.98" fill="none" stroke="#f5945f" stroke-width="1.3"/>
<path d="M365.1 340.1 L366.67 340.1 L368.24 340.1 L369.81 340.1 L371.39 340.1 L372.96 340.1 L374.53 340.1 L376.1 340.1 L377.67 340.1 L379.25 340.1 L380.82 340.1 L382.39 340.1 L383.96 340.1 L385.53 340.1 L387.1 340.1 L388.68 340.1 L390.25 340.12 L391.82 340.2 L393.39 340.32 L394.96 340.48 L396.53 340.68 L398.11 340.89 L399.68 341.15 L401.25 341.52 L402.82 341.97 L404.39 342.44 L405.96 342.86 L407.54 343.23 L409.11 343.58 L410.68 343.94 L412.25 344.31" fill="none" stroke="#f9c96a" stroke-width="1.0" stroke-dasharray="3 1 0.8 1"/>
<path d="M365.1 340.1 L366.67 340.11 L368.24 340.12 L369.81 340.15 L371.39 340.18 L372.96 340.23 L374.53 340.28 L376.1 340.35 L377.67 340.42 L379.25 340.49 L380.82 340.58 L382.39 340.68 L383.96 340.8 L385.53 340.94 L387.1 341.11 L388.68 341.32 L390.25 341.62 L391.82 342.02 L393.39 342.53 L394.96 343.14 L396.53 343.81 L398.11 344.53 L399.68 345.33 L401.25 346.29 L402.82 347.35 L404.39 348.4 L405.96 349.3 L407.54 350.02 L409.11 350.67 L410.68 351.29 L412.25 351.96" fill="none" stroke="#d7302a" stroke-width="1.2" stroke-dasharray="3.4 1 0.9 1"/>
</g>
<text x="363.7" y="368.2" font-size="7.6" fill="#222" textLength="10" lengthAdjust="spacingAndGlyphs">4, 4</text>
<rect x="168.5" y="129.35" width="48.25" height="48.4" fill="none" stroke="#686868" stroke-width="0.9"/>
<rect x="168.5" y="177.75" width="48.25" height="48.75" fill="none" stroke="#686868" stroke-width="0.9"/>
<rect x="216.75" y="177.75" width="48.5" height="48.75" fill="none" stroke="#686868" stroke-width="0.9"/>
<rect x="168.5" y="226.5" width="48.25" height="48.5" fill="none" stroke="#686868" stroke-width="0.9"/>
<rect x="216.75" y="226.5" width="48.5" height="48.5" fill="none" stroke="#686868" stroke-width="0.9"/>
<rect x="265.25" y="226.5" width="49" height="48.5" fill="none" stroke="#686868" stroke-width="0.9"/>
<rect x="168.5" y="275" width="48.25" height="48.5" fill="none" stroke="#686868" stroke-width="0.9"/>
<rect x="216.75" y="275" width="48.5" height="48.5" fill="none" stroke="#686868" stroke-width="0.9"/>
<rect x="265.25" y="275" width="49" height="48.5" fill="none" stroke="#686868" stroke-width="0.9"/>
<rect x="314.25" y="275" width="49.25" height="48.5" fill="none" stroke="#686868" stroke-width="0.9"/>
<rect x="168.5" y="323.5" width="48.25" height="48.5" fill="none" stroke="#686868" stroke-width="0.9"/>
<rect x="216.75" y="323.5" width="48.5" height="48.5" fill="none" stroke="#686868" stroke-width="0.9"/>
<rect x="265.25" y="323.5" width="49" height="48.5" fill="none" stroke="#686868" stroke-width="0.9"/>
<rect x="314.25" y="323.5" width="49.25" height="48.5" fill="none" stroke="#686868" stroke-width="0.9"/>
<rect x="363.5" y="323.5" width="48.75" height="48.5" fill="none" stroke="#686868" stroke-width="0.9"/>
<line x1="210.89" y1="67.4" x2="210.89" y2="66.1" stroke="#444" stroke-width="0.6"/>
<line x1="215.58" y1="67.4" x2="215.58" y2="66.1" stroke="#444" stroke-width="0.6"/>
<line x1="219.21" y1="67.4" x2="219.21" y2="66.1" stroke="#444" stroke-width="0.6"/>
<line x1="222.18" y1="67.4" x2="222.18" y2="66.1" stroke="#444" stroke-width="0.6"/>
<line x1="224.69" y1="67.4" x2="224.69" y2="66.1" stroke="#444" stroke-width="0.6"/>
<line x1="226.87" y1="67.4" x2="226.87" y2="66.1" stroke="#444" stroke-width="0.6"/>
<line x1="228.78" y1="67.4" x2="228.78" y2="66.1" stroke="#444" stroke-width="0.6"/>
<line x1="230.5" y1="67.4" x2="230.5" y2="65.2" stroke="#444" stroke-width="0.6"/>
<line x1="241.79" y1="67.4" x2="241.79" y2="66.1" stroke="#444" stroke-width="0.6"/>
<line x1="248.39" y1="67.4" x2="248.39" y2="66.1" stroke="#444" stroke-width="0.6"/>
<line x1="253.08" y1="67.4" x2="253.08" y2="66.1" stroke="#444" stroke-width="0.6"/>
<line x1="256.84" y1="67.4" x2="256.84" y2="66.1" stroke="#444" stroke-width="0.6"/>
<line x1="261.53" y1="67.4" x2="261.53" y2="66.1" stroke="#444" stroke-width="0.6"/>
<line x1="265.16" y1="67.4" x2="265.16" y2="66.1" stroke="#444" stroke-width="0.6"/>
<line x1="268.13" y1="67.4" x2="268.13" y2="66.1" stroke="#444" stroke-width="0.6"/>
<line x1="270.64" y1="67.4" x2="270.64" y2="66.1" stroke="#444" stroke-width="0.6"/>
<line x1="272.82" y1="67.4" x2="272.82" y2="66.1" stroke="#444" stroke-width="0.6"/>
<line x1="274.73" y1="67.4" x2="274.73" y2="66.1" stroke="#444" stroke-width="0.6"/>
<line x1="276.45" y1="67.4" x2="276.45" y2="65.2" stroke="#444" stroke-width="0.6"/>
<line x1="287.74" y1="67.4" x2="287.74" y2="66.1" stroke="#444" stroke-width="0.6"/>
<line x1="294.34" y1="67.4" x2="294.34" y2="66.1" stroke="#444" stroke-width="0.6"/>
<line x1="299.03" y1="67.4" x2="299.03" y2="66.1" stroke="#444" stroke-width="0.6"/>
<line x1="302.66" y1="67.4" x2="302.66" y2="66.1" stroke="#444" stroke-width="0.6"/>
<line x1="304.44" y1="67.4" x2="304.44" y2="66.1" stroke="#444" stroke-width="0.6"/>
<line x1="309.13" y1="67.4" x2="309.13" y2="66.1" stroke="#444" stroke-width="0.6"/>
<line x1="312.76" y1="67.4" x2="312.76" y2="66.1" stroke="#444" stroke-width="0.6"/>
<line x1="315.73" y1="67.4" x2="315.73" y2="66.1" stroke="#444" stroke-width="0.6"/>
<line x1="318.24" y1="67.4" x2="318.24" y2="66.1" stroke="#444" stroke-width="0.6"/>
<line x1="320.42" y1="67.4" x2="320.42" y2="66.1" stroke="#444" stroke-width="0.6"/>
<line x1="322.33" y1="67.4" x2="322.33" y2="66.1" stroke="#444" stroke-width="0.6"/>
<line x1="324.05" y1="67.4" x2="324.05" y2="65.2" stroke="#444" stroke-width="0.6"/>
<line x1="335.34" y1="67.4" x2="335.34" y2="66.1" stroke="#444" stroke-width="0.6"/>
<line x1="341.94" y1="67.4" x2="341.94" y2="66.1" stroke="#444" stroke-width="0.6"/>
<line x1="346.63" y1="67.4" x2="346.63" y2="66.1" stroke="#444" stroke-width="0.6"/>
<line x1="350.26" y1="67.4" x2="350.26" y2="66.1" stroke="#444" stroke-width="0.6"/>
<line x1="353.44" y1="67.4" x2="353.44" y2="66.1" stroke="#444" stroke-width="0.6"/>
<line x1="358.13" y1="67.4" x2="358.13" y2="66.1" stroke="#444" stroke-width="0.6"/>
<line x1="361.76" y1="67.4" x2="361.76" y2="66.1" stroke="#444" stroke-width="0.6"/>
<line x1="364.73" y1="67.4" x2="364.73" y2="66.1" stroke="#444" stroke-width="0.6"/>
<line x1="367.24" y1="67.4" x2="367.24" y2="66.1" stroke="#444" stroke-width="0.6"/>
<line x1="369.42" y1="67.4" x2="369.42" y2="66.1" stroke="#444" stroke-width="0.6"/>
<line x1="371.33" y1="67.4" x2="371.33" y2="66.1" stroke="#444" stroke-width="0.6"/>
<line x1="373.05" y1="67.4" x2="373.05" y2="65.2" stroke="#444" stroke-width="0.6"/>
<line x1="384.34" y1="67.4" x2="384.34" y2="66.1" stroke="#444" stroke-width="0.6"/>
<line x1="390.94" y1="67.4" x2="390.94" y2="66.1" stroke="#444" stroke-width="0.6"/>
<line x1="395.63" y1="67.4" x2="395.63" y2="66.1" stroke="#444" stroke-width="0.6"/>
<line x1="399.26" y1="67.4" x2="399.26" y2="66.1" stroke="#444" stroke-width="0.6"/>
<line x1="405.98" y1="67.4" x2="405.98" y2="66.1" stroke="#444" stroke-width="0.6"/>
<line x1="409.61" y1="67.4" x2="409.61" y2="66.1" stroke="#444" stroke-width="0.6"/>
<line x1="412.58" y1="67.4" x2="412.58" y2="66.1" stroke="#444" stroke-width="0.6"/>
<line x1="415.09" y1="67.4" x2="415.09" y2="66.1" stroke="#444" stroke-width="0.6"/>
<line x1="417.27" y1="67.4" x2="417.27" y2="66.1" stroke="#444" stroke-width="0.6"/>
<line x1="419.18" y1="67.4" x2="419.18" y2="66.1" stroke="#444" stroke-width="0.6"/>
<line x1="420.9" y1="67.4" x2="420.9" y2="65.2" stroke="#444" stroke-width="0.6"/>
<line x1="432.19" y1="67.4" x2="432.19" y2="66.1" stroke="#444" stroke-width="0.6"/>
<line x1="438.79" y1="67.4" x2="438.79" y2="66.1" stroke="#444" stroke-width="0.6"/>
<line x1="443.48" y1="67.4" x2="443.48" y2="66.1" stroke="#444" stroke-width="0.6"/>
<line x1="447.11" y1="67.4" x2="447.11" y2="66.1" stroke="#444" stroke-width="0.6"/>
<line x1="172.24" y1="372" x2="172.24" y2="373.3" stroke="#444" stroke-width="0.6"/>
<line x1="175.01" y1="372" x2="175.01" y2="373.3" stroke="#444" stroke-width="0.6"/>
<line x1="177.15" y1="372" x2="177.15" y2="373.3" stroke="#444" stroke-width="0.6"/>
<line x1="178.9" y1="372" x2="178.9" y2="373.3" stroke="#444" stroke-width="0.6"/>
<line x1="180.38" y1="372" x2="180.38" y2="373.3" stroke="#444" stroke-width="0.6"/>
<line x1="181.66" y1="372" x2="181.66" y2="373.3" stroke="#444" stroke-width="0.6"/>
<line x1="182.79" y1="372" x2="182.79" y2="373.3" stroke="#444" stroke-width="0.6"/>
<line x1="183.8" y1="372" x2="183.8" y2="374.2" stroke="#444" stroke-width="0.6"/>
<line x1="190.45" y1="372" x2="190.45" y2="373.3" stroke="#444" stroke-width="0.6"/>
<line x1="194.34" y1="372" x2="194.34" y2="373.3" stroke="#444" stroke-width="0.6"/>
<line x1="197.11" y1="372" x2="197.11" y2="373.3" stroke="#444" stroke-width="0.6"/>
<line x1="199.25" y1="372" x2="199.25" y2="373.3" stroke="#444" stroke-width="0.6"/>
<line x1="201" y1="372" x2="201" y2="373.3" stroke="#444" stroke-width="0.6"/>
<line x1="202.48" y1="372" x2="202.48" y2="373.3" stroke="#444" stroke-width="0.6"/>
<line x1="203.76" y1="372" x2="203.76" y2="373.3" stroke="#444" stroke-width="0.6"/>
<line x1="204.89" y1="372" x2="204.89" y2="373.3" stroke="#444" stroke-width="0.6"/>
<line x1="205.9" y1="372" x2="205.9" y2="374.2" stroke="#444" stroke-width="0.6"/>
<line x1="212.55" y1="372" x2="212.55" y2="373.3" stroke="#444" stroke-width="0.6"/>
<line x1="220.49" y1="372" x2="220.49" y2="373.3" stroke="#444" stroke-width="0.6"/>
<line x1="223.26" y1="372" x2="223.26" y2="373.3" stroke="#444" stroke-width="0.6"/>
<line x1="225.4" y1="372" x2="225.4" y2="373.3" stroke="#444" stroke-width="0.6"/>
<line x1="227.15" y1="372" x2="227.15" y2="373.3" stroke="#444" stroke-width="0.6"/>
<line x1="228.63" y1="372" x2="228.63" y2="373.3" stroke="#444" stroke-width="0.6"/>
<line x1="229.91" y1="372" x2="229.91" y2="373.3" stroke="#444" stroke-width="0.6"/>
<line x1="231.04" y1="372" x2="231.04" y2="373.3" stroke="#444" stroke-width="0.6"/>
<line x1="232.05" y1="372" x2="232.05" y2="374.2" stroke="#444" stroke-width="0.6"/>
<line x1="238.7" y1="372" x2="238.7" y2="373.3" stroke="#444" stroke-width="0.6"/>
<line x1="242.59" y1="372" x2="242.59" y2="373.3" stroke="#444" stroke-width="0.6"/>
<line x1="245.36" y1="372" x2="245.36" y2="373.3" stroke="#444" stroke-width="0.6"/>
<line x1="247.5" y1="372" x2="247.5" y2="373.3" stroke="#444" stroke-width="0.6"/>
<line x1="249.25" y1="372" x2="249.25" y2="373.3" stroke="#444" stroke-width="0.6"/>
<line x1="250.73" y1="372" x2="250.73" y2="373.3" stroke="#444" stroke-width="0.6"/>
<line x1="252.01" y1="372" x2="252.01" y2="373.3" stroke="#444" stroke-width="0.6"/>
<line x1="253.14" y1="372" x2="253.14" y2="373.3" stroke="#444" stroke-width="0.6"/>
<line x1="254.15" y1="372" x2="254.15" y2="374.2" stroke="#444" stroke-width="0.6"/>
<line x1="260.8" y1="372" x2="260.8" y2="373.3" stroke="#444" stroke-width="0.6"/>
<line x1="264.69" y1="372" x2="264.69" y2="373.3" stroke="#444" stroke-width="0.6"/>
<line x1="268.99" y1="372" x2="268.99" y2="373.3" stroke="#444" stroke-width="0.6"/>
<line x1="271.76" y1="372" x2="271.76" y2="373.3" stroke="#444" stroke-width="0.6"/>
<line x1="273.9" y1="372" x2="273.9" y2="373.3" stroke="#444" stroke-width="0.6"/>
<line x1="275.65" y1="372" x2="275.65" y2="373.3" stroke="#444" stroke-width="0.6"/>
<line x1="277.13" y1="372" x2="277.13" y2="373.3" stroke="#444" stroke-width="0.6"/>
<line x1="278.41" y1="372" x2="278.41" y2="373.3" stroke="#444" stroke-width="0.6"/>
<line x1="279.54" y1="372" x2="279.54" y2="373.3" stroke="#444" stroke-width="0.6"/>
<line x1="280.55" y1="372" x2="280.55" y2="374.2" stroke="#444" stroke-width="0.6"/>
<line x1="287.2" y1="372" x2="287.2" y2="373.3" stroke="#444" stroke-width="0.6"/>
<line x1="291.09" y1="372" x2="291.09" y2="373.3" stroke="#444" stroke-width="0.6"/>
<line x1="293.86" y1="372" x2="293.86" y2="373.3" stroke="#444" stroke-width="0.6"/>
<line x1="296" y1="372" x2="296" y2="373.3" stroke="#444" stroke-width="0.6"/>
<line x1="297.75" y1="372" x2="297.75" y2="373.3" stroke="#444" stroke-width="0.6"/>
<line x1="299.23" y1="372" x2="299.23" y2="373.3" stroke="#444" stroke-width="0.6"/>
<line x1="300.51" y1="372" x2="300.51" y2="373.3" stroke="#444" stroke-width="0.6"/>
<line x1="301.64" y1="372" x2="301.64" y2="373.3" stroke="#444" stroke-width="0.6"/>
<line x1="302.65" y1="372" x2="302.65" y2="374.2" stroke="#444" stroke-width="0.6"/>
<line x1="309.3" y1="372" x2="309.3" y2="373.3" stroke="#444" stroke-width="0.6"/>
<line x1="313.19" y1="372" x2="313.19" y2="373.3" stroke="#444" stroke-width="0.6"/>
<line x1="317.99" y1="372" x2="317.99" y2="373.3" stroke="#444" stroke-width="0.6"/>
<line x1="320.76" y1="372" x2="320.76" y2="373.3" stroke="#444" stroke-width="0.6"/>
<line x1="322.9" y1="372" x2="322.9" y2="373.3" stroke="#444" stroke-width="0.6"/>
<line x1="324.65" y1="372" x2="324.65" y2="373.3" stroke="#444" stroke-width="0.6"/>
<line x1="326.13" y1="372" x2="326.13" y2="373.3" stroke="#444" stroke-width="0.6"/>
<line x1="327.41" y1="372" x2="327.41" y2="373.3" stroke="#444" stroke-width="0.6"/>
<line x1="328.54" y1="372" x2="328.54" y2="373.3" stroke="#444" stroke-width="0.6"/>
<line x1="329.55" y1="372" x2="329.55" y2="374.2" stroke="#444" stroke-width="0.6"/>
<line x1="336.2" y1="372" x2="336.2" y2="373.3" stroke="#444" stroke-width="0.6"/>
<line x1="340.09" y1="372" x2="340.09" y2="373.3" stroke="#444" stroke-width="0.6"/>
<line x1="342.86" y1="372" x2="342.86" y2="373.3" stroke="#444" stroke-width="0.6"/>
<line x1="345" y1="372" x2="345" y2="373.3" stroke="#444" stroke-width="0.6"/>
<line x1="346.75" y1="372" x2="346.75" y2="373.3" stroke="#444" stroke-width="0.6"/>
<line x1="348.23" y1="372" x2="348.23" y2="373.3" stroke="#444" stroke-width="0.6"/>
<line x1="349.51" y1="372" x2="349.51" y2="373.3" stroke="#444" stroke-width="0.6"/>
<line x1="350.64" y1="372" x2="350.64" y2="373.3" stroke="#444" stroke-width="0.6"/>
<line x1="351.65" y1="372" x2="351.65" y2="374.2" stroke="#444" stroke-width="0.6"/>
<line x1="358.3" y1="372" x2="358.3" y2="373.3" stroke="#444" stroke-width="0.6"/>
<line x1="362.19" y1="372" x2="362.19" y2="373.3" stroke="#444" stroke-width="0.6"/>
<line x1="367.24" y1="372" x2="367.24" y2="373.3" stroke="#444" stroke-width="0.6"/>
<line x1="370.01" y1="372" x2="370.01" y2="373.3" stroke="#444" stroke-width="0.6"/>
<line x1="372.15" y1="372" x2="372.15" y2="373.3" stroke="#444" stroke-width="0.6"/>
<line x1="373.9" y1="372" x2="373.9" y2="373.3" stroke="#444" stroke-width="0.6"/>
<line x1="375.38" y1="372" x2="375.38" y2="373.3" stroke="#444" stroke-width="0.6"/>
<line x1="376.66" y1="372" x2="376.66" y2="373.3" stroke="#444" stroke-width="0.6"/>
<line x1="377.79" y1="372" x2="377.79" y2="373.3" stroke="#444" stroke-width="0.6"/>
<line x1="378.8" y1="372" x2="378.8" y2="374.2" stroke="#444" stroke-width="0.6"/>
<line x1="385.45" y1="372" x2="385.45" y2="373.3" stroke="#444" stroke-width="0.6"/>
<line x1="389.34" y1="372" x2="389.34" y2="373.3" stroke="#444" stroke-width="0.6"/>
<line x1="392.11" y1="372" x2="392.11" y2="373.3" stroke="#444" stroke-width="0.6"/>
<line x1="394.25" y1="372" x2="394.25" y2="373.3" stroke="#444" stroke-width="0.6"/>
<line x1="396" y1="372" x2="396" y2="373.3" stroke="#444" stroke-width="0.6"/>
<line x1="397.48" y1="372" x2="397.48" y2="373.3" stroke="#444" stroke-width="0.6"/>
<line x1="398.76" y1="372" x2="398.76" y2="373.3" stroke="#444" stroke-width="0.6"/>
<line x1="399.89" y1="372" x2="399.89" y2="373.3" stroke="#444" stroke-width="0.6"/>
<line x1="400.9" y1="372" x2="400.9" y2="374.2" stroke="#444" stroke-width="0.6"/>
<line x1="407.55" y1="372" x2="407.55" y2="373.3" stroke="#444" stroke-width="0.6"/>
<line x1="411.44" y1="372" x2="411.44" y2="373.3" stroke="#444" stroke-width="0.6"/>
<line x1="166.5" y1="145.95" x2="168.5" y2="145.95" stroke="#444" stroke-width="0.7"/>
<line x1="166.5" y1="167.95" x2="168.5" y2="167.95" stroke="#444" stroke-width="0.7"/>
<line x1="449.6" y1="115.5" x2="451.6" y2="115.5" stroke="#444" stroke-width="0.7"/>
<line x1="166.5" y1="194.35" x2="168.5" y2="194.35" stroke="#444" stroke-width="0.7"/>
<line x1="166.5" y1="216.35" x2="168.5" y2="216.35" stroke="#444" stroke-width="0.7"/>
<line x1="449.6" y1="164.25" x2="451.6" y2="164.25" stroke="#444" stroke-width="0.7"/>
<line x1="166.5" y1="243.1" x2="168.5" y2="243.1" stroke="#444" stroke-width="0.7"/>
<line x1="166.5" y1="265.1" x2="168.5" y2="265.1" stroke="#444" stroke-width="0.7"/>
<line x1="449.6" y1="212.75" x2="451.6" y2="212.75" stroke="#444" stroke-width="0.7"/>
<line x1="166.5" y1="291.6" x2="168.5" y2="291.6" stroke="#444" stroke-width="0.7"/>
<line x1="166.5" y1="313.6" x2="168.5" y2="313.6" stroke="#444" stroke-width="0.7"/>
<line x1="449.6" y1="261.25" x2="451.6" y2="261.25" stroke="#444" stroke-width="0.7"/>
<line x1="166.5" y1="340.1" x2="168.5" y2="340.1" stroke="#444" stroke-width="0.7"/>
<line x1="166.5" y1="362.1" x2="168.5" y2="362.1" stroke="#444" stroke-width="0.7"/>
<line x1="449.6" y1="309.6" x2="451.6" y2="309.6" stroke="#444" stroke-width="0.7"/>
<text x="225.3" y="62.8" font-size="8" fill="#222">10<tspan dy="-3.6" font-size="5.6">2</tspan></text>
<text x="271.25" y="62.8" font-size="8" fill="#222">10<tspan dy="-3.6" font-size="5.6">2</tspan></text>
<text x="318.85" y="62.8" font-size="8" fill="#222">10<tspan dy="-3.6" font-size="5.6">2</tspan></text>
<text x="367.85" y="62.8" font-size="8" fill="#222">10<tspan dy="-3.6" font-size="5.6">2</tspan></text>
<text x="415.7" y="62.8" font-size="8" fill="#222">10<tspan dy="-3.6" font-size="5.6">2</tspan></text>
<text x="451.8" y="78.2" font-size="7.6" fill="#222">1.0</text>
<text x="451.8" y="118.1" font-size="7.6" fill="#222">0.8</text>
<line x1="449.6" y1="75.6" x2="451.4" y2="75.6" stroke="#333" stroke-width="0.8"/>
<text x="451.8" y="126.3" font-size="7.6" fill="#222">1.0</text>
<text x="451.8" y="166.85" font-size="7.6" fill="#222">0.8</text>
<line x1="449.6" y1="123.7" x2="451.4" y2="123.7" stroke="#333" stroke-width="0.8"/>
<text x="451.8" y="175.05" font-size="7.6" fill="#222">1.0</text>
<text x="451.8" y="215.35" font-size="7.6" fill="#222">0.8</text>
<line x1="449.6" y1="172.45" x2="451.4" y2="172.45" stroke="#333" stroke-width="0.8"/>
<text x="451.8" y="223.55" font-size="7.6" fill="#222">1.0</text>
<text x="451.8" y="263.85" font-size="7.6" fill="#222">0.8</text>
<line x1="449.6" y1="220.95" x2="451.4" y2="220.95" stroke="#333" stroke-width="0.8"/>
<text x="451.8" y="272.05" font-size="7.6" fill="#222">1.0</text>
<text x="451.8" y="312.2" font-size="7.6" fill="#222">0.8</text>
<line x1="449.6" y1="269.45" x2="451.4" y2="269.45" stroke="#333" stroke-width="0.8"/>
<text x="163.8" y="148.65" font-size="7.6" text-anchor="end" fill="#222">1.00</text>
<text x="163.8" y="170.65" font-size="7.6" text-anchor="end" fill="#222">0.75</text>
<text x="163.8" y="197.05" font-size="7.6" text-anchor="end" fill="#222">1.00</text>
<text x="163.8" y="219.05" font-size="7.6" text-anchor="end" fill="#222">0.75</text>
<text x="163.8" y="245.8" font-size="7.6" text-anchor="end" fill="#222">1.00</text>
<text x="163.8" y="267.8" font-size="7.6" text-anchor="end" fill="#222">0.75</text>
<text x="163.8" y="294.3" font-size="7.6" text-anchor="end" fill="#222">1.00</text>
<text x="163.8" y="316.3" font-size="7.6" text-anchor="end" fill="#222">0.75</text>
<text x="163.8" y="342.8" font-size="7.6" text-anchor="end" fill="#222">1.00</text>
<text x="163.8" y="364.8" font-size="7.6" text-anchor="end" fill="#222">0.75</text>
<text x="178.6" y="381.2" font-size="8" fill="#222">10<tspan dy="-3.6" font-size="5.6">2</tspan></text>
<text x="200.7" y="381.2" font-size="8" fill="#222">10<tspan dy="-3.6" font-size="5.6">3</tspan></text>
<text x="226.85" y="381.2" font-size="8" fill="#222">10<tspan dy="-3.6" font-size="5.6">2</tspan></text>
<text x="248.95" y="381.2" font-size="8" fill="#222">10<tspan dy="-3.6" font-size="5.6">3</tspan></text>
<text x="275.35" y="381.2" font-size="8" fill="#222">10<tspan dy="-3.6" font-size="5.6">2</tspan></text>
<text x="297.45" y="381.2" font-size="8" fill="#222">10<tspan dy="-3.6" font-size="5.6">3</tspan></text>
<text x="324.35" y="381.2" font-size="8" fill="#222">10<tspan dy="-3.6" font-size="5.6">2</tspan></text>
<text x="346.45" y="381.2" font-size="8" fill="#222">10<tspan dy="-3.6" font-size="5.6">3</tspan></text>
<text x="373.6" y="381.2" font-size="8" fill="#222">10<tspan dy="-3.6" font-size="5.6">2</tspan></text>
<text x="395.7" y="381.2" font-size="8" fill="#222">10<tspan dy="-3.6" font-size="5.6">3</tspan></text>
<text x="286" y="396.6" font-size="10" font-style="italic" text-anchor="middle" fill="#222">&#8467;</text>
<text transform="translate(144,249) rotate(-90)" font-size="8.6" text-anchor="middle" fill="#222" textLength="182" lengthAdjust="spacingAndGlyphs"><tspan font-style="italic">C</tspan><tspan font-size="5.5" dy="1.5" font-style="italic">&#8467;</tspan><tspan dy="-1.5"> (Gravity + Baryon Feedback) /</tspan><tspan font-style="italic">C</tspan><tspan font-size="5.5" dy="1.5" font-style="italic">&#8467;</tspan><tspan dy="-1.5"> (Gravity only)</tspan></text>
<text x="187" y="9.1" font-size="9" fill="#222" textLength="59" lengthAdjust="spacingAndGlyphs">FLAMINGO ID</text>
<line x1="164.5" y1="19.1" x2="183.9" y2="19.1" stroke="#f5945f" stroke-width="1.3" stroke-opacity="0.85"/>
<line x1="164.5" y1="32.3" x2="183.9" y2="32.3" stroke="#f9c96a" stroke-width="1.1" stroke-dasharray="4 1.3 0.6 1.3" stroke-opacity="0.85"/>
<line x1="164.5" y1="45.1" x2="183.9" y2="45.1" stroke="#d7302a" stroke-width="1.1" stroke-dasharray="4 1.3 0.6 1.3" stroke-opacity="0.85"/>
<text x="190.8" y="22.5" font-size="9" fill="#222" textLength="59.2" lengthAdjust="spacingAndGlyphs">Fiducial: L1_m9</text>
<text x="190.8" y="34.8" font-size="9" fill="#222" textLength="58.2" lengthAdjust="spacingAndGlyphs">Weak: fgas +2<tspan font-style="italic">&#963;</tspan></text>
<text x="190.8" y="47.5" font-size="9" fill="#222" textLength="77.5" lengthAdjust="spacingAndGlyphs">Strong: Jet_fgas &#8722;4<tspan font-style="italic">&#963;</tspan></text>
<rect x="278" y="15.3" width="18.5" height="7" fill="#ddf0f7" stroke="#c8e4ef" stroke-width="0.6"/>
<rect x="278" y="29.3" width="18.5" height="6.7" fill="#90bedc" stroke="#7aaed3" stroke-width="0.6"/>
<rect x="278" y="43" width="18.5" height="7.2" fill="#3a6eb4" stroke="#2458a6" stroke-width="0.6"/>
<text x="341" y="8.7" font-size="9" fill="#222">&#920;<tspan font-size="6" dy="1.8">AGN</tspan><tspan dy="-1.8"> Priors</tspan></text>
<text x="303.3" y="22.5" font-size="9" fill="#222">Uninformed: &#920;<tspan font-size="6" dy="1.8">AGN</tspan><tspan dy="-1.8"> &#8712; [6.5, 9.36]</tspan></text>
<text x="303.3" y="36" font-size="9" fill="#222">FLAMINGO: &#920;<tspan font-size="6" dy="1.8">AGN</tspan><tspan dy="-1.8"> &#8712; [7.4, 7.95]</tspan></text>
<text x="303.3" y="49.5" font-size="9" fill="#222">DESxROSAT: &#920;<tspan font-size="6" dy="1.8">AGN</tspan><tspan dy="-1.8"> &#8712; <tspan font-style="italic">N</tspan>(7.694; 0.008)</tspan></text>
</svg></body></html>
